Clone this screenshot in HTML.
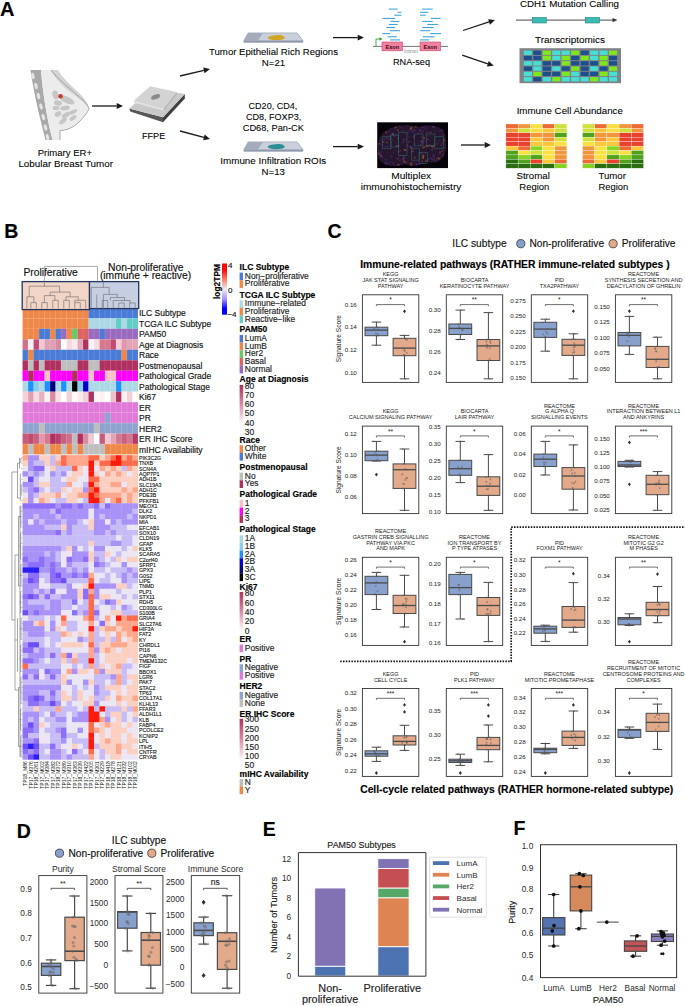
<!DOCTYPE html>
<html><head><meta charset="utf-8"><title>Figure</title>
<style>html,body{margin:0;padding:0;background:#fff;} svg{display:block;} text{font-family:"Liberation Sans", sans-serif;}</style>
</head><body>
<svg width="685" height="1006" viewBox="0 0 685 1006" font-family='"Liberation Sans", sans-serif'>
<rect width="685" height="1006" fill="#fff"/>
<defs>
<linearGradient id="gcb" x1="0" y1="0" x2="0" y2="1">
<stop offset="0" stop-color="#ff0000"/><stop offset="0.12" stop-color="#ff0000"/><stop offset="0.3" stop-color="#ff7a5e"/><stop offset="0.5" stop-color="#efebf0"/><stop offset="0.7" stop-color="#a890f8"/><stop offset="0.88" stop-color="#0000ff"/><stop offset="1" stop-color="#0000ff"/>
</linearGradient>
<linearGradient id="gpk" x1="0" y1="0" x2="0" y2="1">
<stop offset="0" stop-color="#b03060"/><stop offset="0.5" stop-color="#dc8ca6"/><stop offset="1" stop-color="#ffffff"/>
</linearGradient>
<filter id="blur1" x="-10%" y="-10%" width="120%" height="120%"><feGaussianBlur stdDeviation="0.5"/></filter>
</defs>
<text x="0.00" y="16.40" font-size="20" font-weight="bold" stroke="#000" stroke-width="0.15">A</text>
<path d="M30.5,70 L41,70 C43,95 47,118 52.5,140 L45.5,140 C40,118 34,95 30.5,70 Z" fill="#a9a9a9"/>
<ellipse cx="33" cy="76" rx="1.6" ry="3.2" fill="#e4e4e4" transform="rotate(-14 33 76)"/>
<ellipse cx="36" cy="86" rx="1.6" ry="3.2" fill="#e4e4e4" transform="rotate(-14 36 86)"/>
<ellipse cx="38.5" cy="96" rx="1.6" ry="3.2" fill="#e4e4e4" transform="rotate(-14 38.5 96)"/>
<ellipse cx="41" cy="106.5" rx="1.6" ry="3.2" fill="#e4e4e4" transform="rotate(-14 41 106.5)"/>
<ellipse cx="43.3" cy="117" rx="1.6" ry="3.2" fill="#e4e4e4" transform="rotate(-14 43.3 117)"/>
<ellipse cx="45.5" cy="127.5" rx="1.6" ry="3.2" fill="#e4e4e4" transform="rotate(-14 45.5 127.5)"/>
<ellipse cx="47.5" cy="137" rx="1.6" ry="3.2" fill="#e4e4e4" transform="rotate(-14 47.5 137)"/>
<path d="M41,70 L51,70 C58,80 70,88 78,96 C84,101 88,105 89,108.5 C88,112 84,117 79,122 C73,128 66,130.5 60,130.5 L60,140 L52.5,140 C47,118 43,95 41,70 Z" fill="#ececec"/>
<path d="M51,70 L58,70 C62,78 72,86 80,94 C85,99 88.5,104 89,108.5 C86,104 80,99 74,95 C65,89 56,80 51,70 Z" fill="#d3d3d3"/>
<path d="M51,70 C58,80 70,88 78,96 C84,101 88,105 89,108.5 C88,112 84,117 79,122 C73,128 66,130.5 60,130.5 L60,140" fill="none" stroke="#8a8a8a" stroke-width="0.7"/>
<ellipse cx="55.5" cy="95" rx="3" ry="4.5" fill="#c6c6c6" transform="rotate(-20 55.5 95)"/>
<ellipse cx="67" cy="100" rx="8" ry="3.2" fill="#c6c6c6" transform="rotate(25 67 100)"/>
<ellipse cx="58" cy="103" rx="4.2" ry="2.5" fill="#c6c6c6" transform="rotate(10 58 103)"/>
<ellipse cx="56" cy="108" rx="3.5" ry="2.2" fill="#c6c6c6" transform="rotate(0 56 108)"/>
<ellipse cx="65" cy="108" rx="5" ry="2.4" fill="#c6c6c6" transform="rotate(-10 65 108)"/>
<ellipse cx="58" cy="114" rx="3.5" ry="2.5" fill="#c6c6c6" transform="rotate(-30 58 114)"/>
<ellipse cx="66" cy="115" rx="5" ry="2.3" fill="#c6c6c6" transform="rotate(-35 66 115)"/>
<ellipse cx="73" cy="112" rx="4.5" ry="2" fill="#c6c6c6" transform="rotate(-25 73 112)"/>
<ellipse cx="63" cy="121" rx="4.5" ry="2.2" fill="#c6c6c6" transform="rotate(-40 63 121)"/>
<ellipse cx="73" cy="118" rx="4" ry="2" fill="#c6c6c6" transform="rotate(-35 73 118)"/>
<circle cx="60.60" cy="96.20" r="2.3" fill="#c9392e"/>
<text x="64.90" y="155.50" font-size="9.7" text-anchor="middle" textLength="54.40" lengthAdjust="spacingAndGlyphs" stroke="#000" stroke-width="0.08">Primary ER+</text>
<text x="65.70" y="166.80" font-size="9.7" text-anchor="middle" textLength="94.60" lengthAdjust="spacingAndGlyphs" stroke="#000" stroke-width="0.08">Lobular Breast Tumor</text>
<line x1="92.00" y1="106.00" x2="116.70" y2="106.00" stroke="#1a1a1a" stroke-width="1.3"/>
<path d="M123.00,106.00 L116.70,108.90 L116.70,103.10 Z" fill="#1a1a1a"/>
<line x1="180.00" y1="76.00" x2="203.86" y2="70.43" stroke="#1a1a1a" stroke-width="1.3"/>
<path d="M210.00,69.00 L204.52,73.26 L203.21,67.61 Z" fill="#1a1a1a"/>
<line x1="180.00" y1="131.00" x2="203.91" y2="137.38" stroke="#1a1a1a" stroke-width="1.3"/>
<path d="M210.00,139.00 L203.17,140.18 L204.66,134.57 Z" fill="#1a1a1a"/>
<line x1="333.00" y1="37.60" x2="357.70" y2="37.60" stroke="#1a1a1a" stroke-width="1.3"/>
<path d="M364.00,37.60 L357.70,40.50 L357.70,34.70 Z" fill="#1a1a1a"/>
<line x1="333.00" y1="146.60" x2="357.70" y2="146.60" stroke="#1a1a1a" stroke-width="1.3"/>
<path d="M364.00,146.60 L357.70,149.50 L357.70,143.70 Z" fill="#1a1a1a"/>
<line x1="463.00" y1="30.50" x2="489.01" y2="21.96" stroke="#1a1a1a" stroke-width="1.3"/>
<path d="M495.00,20.00 L489.92,24.72 L488.11,19.21 Z" fill="#1a1a1a"/>
<line x1="462.20" y1="55.20" x2="487.83" y2="63.80" stroke="#1a1a1a" stroke-width="1.3"/>
<path d="M493.80,65.80 L486.90,66.55 L488.75,61.05 Z" fill="#1a1a1a"/>
<line x1="461.00" y1="145.00" x2="484.70" y2="145.00" stroke="#1a1a1a" stroke-width="1.3"/>
<path d="M491.00,145.00 L484.70,147.90 L484.70,142.10 Z" fill="#1a1a1a"/>
<path d="M129.3,108.5 L130.2,111.6 L163,122.3 L163,117.2 Z" fill="#575757"/>
<path d="M163,117.2 L163,122.3 L184.8,98.6 L184.8,94 Z" fill="#3f3f3f"/>
<path d="M129.3,108.5 L152,88.5 L184.8,94 L163,117.2 Z" fill="#c8c8c8"/>
<path d="M134,100.4 L134,102.8 L163.9,110.8 L163.9,108.5 Z" fill="#e2e2e2"/>
<path d="M163.9,108.5 L163.9,110.8 L176.7,94.2 L176.7,91.9 Z" fill="#b4b4b4"/>
<path d="M150.1,86.2 L176.7,91.9 L163.9,108.5 L134,100.4 Z" fill="#d3d3d3"/>
<ellipse cx="155.6" cy="96.8" rx="4.8" ry="2.3" fill="#8a8a8a" transform="rotate(-20 155.6 96.8)"/>
<text x="153.60" y="139.20" font-size="9.7" text-anchor="middle" textLength="23.20" lengthAdjust="spacingAndGlyphs" stroke="#000" stroke-width="0.08">FFPE</text>
<path d="M243.9,40.5 L248.2,32.9 L297.1,32.9 L302.9,40.5 L302.9,42.3 L243.9,42.3 Z" fill="#c9d0dc" stroke="#8c95a6" stroke-width="0.6"/>
<path d="M243.9,40.5 L248.2,32.9 L263,32.9 L257.9,40.5 Z" fill="#a4acbc"/>
<path d="M243.9,40.5 L302.9,40.5 L302.9,42.3 L243.9,42.3 Z" fill="#8f98aa"/>
<ellipse cx="276.3" cy="37.699999999999996" rx="8.5" ry="2.5" fill="#d2a624"/>
<ellipse cx="279" cy="37.1" rx="4.5" ry="2.2" fill="#d2a624"/>
<path d="M243.9,149.5 L248.2,141.9 L297.1,141.9 L302.9,149.5 L302.9,151.3 L243.9,151.3 Z" fill="#c9d0dc" stroke="#8c95a6" stroke-width="0.6"/>
<path d="M243.9,149.5 L248.2,141.9 L263,141.9 L257.9,149.5 Z" fill="#a4acbc"/>
<path d="M243.9,149.5 L302.9,149.5 L302.9,151.3 L243.9,151.3 Z" fill="#8f98aa"/>
<ellipse cx="276.3" cy="146.70000000000002" rx="8.5" ry="2.5" fill="#2b8e96"/>
<ellipse cx="279" cy="146.1" rx="4.5" ry="2.2" fill="#2b8e96"/>
<text x="273.50" y="55.20" font-size="9.7" text-anchor="middle" textLength="129.00" lengthAdjust="spacingAndGlyphs" stroke="#000" stroke-width="0.08">Tumor Epithelial Rich Regions</text>
<text x="273.50" y="66.00" font-size="9.7" text-anchor="middle" stroke="#000" stroke-width="0.08">N=21</text>
<text x="272.90" y="109.20" font-size="9.7" text-anchor="middle" textLength="48.60" lengthAdjust="spacingAndGlyphs" stroke="#000" stroke-width="0.08">CD20, CD4,</text>
<text x="273.60" y="120.00" font-size="9.7" text-anchor="middle" textLength="55.20" lengthAdjust="spacingAndGlyphs" stroke="#000" stroke-width="0.08">CD8, FOXP3,</text>
<text x="273.30" y="130.90" font-size="9.7" text-anchor="middle" textLength="61.00" lengthAdjust="spacingAndGlyphs" stroke="#000" stroke-width="0.08">CD68, Pan-CK</text>
<text x="273.30" y="164.30" font-size="9.7" text-anchor="middle" textLength="106.00" lengthAdjust="spacingAndGlyphs" stroke="#000" stroke-width="0.08">Immune Infiltration ROIs</text>
<text x="273.30" y="175.30" font-size="9.7" text-anchor="middle" stroke="#000" stroke-width="0.08">N=13</text>
<line x1="388.90" y1="9.10" x2="397.70" y2="9.10" stroke="#3ea6dd" stroke-width="1.1"/>
<line x1="397.70" y1="12.30" x2="401.50" y2="12.30" stroke="#3ea6dd" stroke-width="1.1"/>
<line x1="394.20" y1="15.20" x2="401.50" y2="15.20" stroke="#3ea6dd" stroke-width="1.1"/>
<line x1="382.40" y1="18.40" x2="395.00" y2="18.40" stroke="#3ea6dd" stroke-width="1.1"/>
<line x1="390.70" y1="21.40" x2="399.40" y2="21.40" stroke="#3ea6dd" stroke-width="1.1"/>
<line x1="388.90" y1="24.50" x2="397.70" y2="24.50" stroke="#3ea6dd" stroke-width="1.1"/>
<line x1="386.30" y1="27.50" x2="395.00" y2="27.50" stroke="#3ea6dd" stroke-width="1.1"/>
<line x1="389.80" y1="30.70" x2="400.00" y2="30.70" stroke="#3ea6dd" stroke-width="1.1"/>
<line x1="382.20" y1="33.60" x2="390.10" y2="33.60" stroke="#3ea6dd" stroke-width="1.1"/>
<line x1="387.70" y1="36.80" x2="396.80" y2="36.80" stroke="#3ea6dd" stroke-width="1.1"/>
<line x1="390.10" y1="39.90" x2="400.00" y2="39.90" stroke="#3ea6dd" stroke-width="1.1"/>
<line x1="422.20" y1="9.10" x2="432.70" y2="9.10" stroke="#3ea6dd" stroke-width="1.1"/>
<line x1="420.10" y1="12.30" x2="428.30" y2="12.30" stroke="#3ea6dd" stroke-width="1.1"/>
<line x1="420.10" y1="15.20" x2="425.70" y2="15.20" stroke="#3ea6dd" stroke-width="1.1"/>
<line x1="431.00" y1="18.40" x2="440.60" y2="18.40" stroke="#3ea6dd" stroke-width="1.1"/>
<line x1="422.20" y1="21.40" x2="432.70" y2="21.40" stroke="#3ea6dd" stroke-width="1.1"/>
<line x1="427.40" y1="24.50" x2="438.00" y2="24.50" stroke="#3ea6dd" stroke-width="1.1"/>
<line x1="422.20" y1="27.50" x2="433.60" y2="27.50" stroke="#3ea6dd" stroke-width="1.1"/>
<line x1="420.10" y1="30.70" x2="430.10" y2="30.70" stroke="#3ea6dd" stroke-width="1.1"/>
<line x1="430.10" y1="33.60" x2="441.00" y2="33.60" stroke="#3ea6dd" stroke-width="1.1"/>
<line x1="423.00" y1="36.80" x2="434.50" y2="36.80" stroke="#3ea6dd" stroke-width="1.1"/>
<line x1="420.10" y1="39.90" x2="429.20" y2="39.90" stroke="#3ea6dd" stroke-width="1.1"/>
<line x1="373.00" y1="46.40" x2="448.00" y2="46.40" stroke="#555" stroke-width="0.8"/>
<rect x="382.00" y="42.00" width="20.50" height="8.80" fill="#f2819f" stroke="#c24a6c" stroke-width="0.6"/>
<text x="392.25" y="48.50" font-size="5.6" text-anchor="middle" font-weight="bold" fill="#3a0a14">Exon</text>
<rect x="420.00" y="42.00" width="20.50" height="8.80" fill="#f2819f" stroke="#c24a6c" stroke-width="0.6"/>
<text x="430.25" y="48.50" font-size="5.6" text-anchor="middle" font-weight="bold" fill="#3a0a14">Exon</text>
<path d="M376,46.4 L376,39 L380,39" fill="none" stroke="#3a9a3a" stroke-width="0.9"/>
<path d="M382.5,39 L379.5,37.2 L379.5,40.8 Z" fill="#3a9a3a"/>
<text x="411.00" y="53.20" font-size="5.4" text-anchor="middle" fill="#888">Intron</text>
<text x="411.50" y="64.50" font-size="9.7" text-anchor="middle" textLength="37.00" lengthAdjust="spacingAndGlyphs" stroke="#000" stroke-width="0.08">RNA-seq</text>
<text x="569.50" y="6.80" font-size="9.7" text-anchor="middle" textLength="99.00" lengthAdjust="spacingAndGlyphs" stroke="#000" stroke-width="0.08">CDH1 Mutation Calling</text>
<line x1="516.00" y1="20.10" x2="613.00" y2="20.10" stroke="#333" stroke-width="0.9"/>
<path d="M617.5,20.1 L612.5,18 L612.5,22.2 Z" fill="#333"/>
<rect x="532.30" y="17.40" width="14.00" height="5.60" fill="#3cbab4" stroke="#2a8a86" stroke-width="0.6"/>
<rect x="585.30" y="17.40" width="14.30" height="5.60" fill="#3cbab4" stroke="#2a8a86" stroke-width="0.6"/>
<text x="570.00" y="42.60" font-size="9.7" text-anchor="middle" textLength="70.00" lengthAdjust="spacingAndGlyphs" stroke="#000" stroke-width="0.08">Transcriptomics</text>
<rect x="519.50" y="48.20" width="101.50" height="35.00" fill="#7f8389"/>
<rect x="523.80" y="50.60" width="8.10" height="4.30" fill="#45e0d4"/>
<rect x="533.27" y="50.60" width="8.10" height="4.30" fill="#1c4f8c"/>
<rect x="542.74" y="50.60" width="8.10" height="4.30" fill="#7ee81a"/>
<rect x="552.21" y="50.60" width="8.10" height="4.30" fill="#45e0d4"/>
<rect x="561.68" y="50.60" width="8.10" height="4.30" fill="#45e0d4"/>
<rect x="571.15" y="50.60" width="8.10" height="4.30" fill="#7ee81a"/>
<rect x="580.62" y="50.60" width="8.10" height="4.30" fill="#1c4f8c"/>
<rect x="590.09" y="50.60" width="8.10" height="4.30" fill="#45e0d4"/>
<rect x="599.56" y="50.60" width="8.10" height="4.30" fill="#45e0d4"/>
<rect x="609.03" y="50.60" width="8.10" height="4.30" fill="#7ee81a"/>
<rect x="523.80" y="55.90" width="8.10" height="4.30" fill="#1c4f8c"/>
<rect x="533.27" y="55.90" width="8.10" height="4.30" fill="#1c4f8c"/>
<rect x="542.74" y="55.90" width="8.10" height="4.30" fill="#7ee81a"/>
<rect x="552.21" y="55.90" width="8.10" height="4.30" fill="#45e0d4"/>
<rect x="561.68" y="55.90" width="8.10" height="4.30" fill="#7ee81a"/>
<rect x="571.15" y="55.90" width="8.10" height="4.30" fill="#1c4f8c"/>
<rect x="580.62" y="55.90" width="8.10" height="4.30" fill="#7ee81a"/>
<rect x="590.09" y="55.90" width="8.10" height="4.30" fill="#45e0d4"/>
<rect x="599.56" y="55.90" width="8.10" height="4.30" fill="#7ee81a"/>
<rect x="609.03" y="55.90" width="8.10" height="4.30" fill="#1c4f8c"/>
<rect x="523.80" y="61.20" width="8.10" height="4.30" fill="#45e0d4"/>
<rect x="533.27" y="61.20" width="8.10" height="4.30" fill="#45e0d4"/>
<rect x="542.74" y="61.20" width="8.10" height="4.30" fill="#1c4f8c"/>
<rect x="552.21" y="61.20" width="8.10" height="4.30" fill="#1c4f8c"/>
<rect x="561.68" y="61.20" width="8.10" height="4.30" fill="#7ee81a"/>
<rect x="571.15" y="61.20" width="8.10" height="4.30" fill="#1c4f8c"/>
<rect x="580.62" y="61.20" width="8.10" height="4.30" fill="#1c4f8c"/>
<rect x="590.09" y="61.20" width="8.10" height="4.30" fill="#1c4f8c"/>
<rect x="599.56" y="61.20" width="8.10" height="4.30" fill="#7ee81a"/>
<rect x="609.03" y="61.20" width="8.10" height="4.30" fill="#1c4f8c"/>
<rect x="523.80" y="66.50" width="8.10" height="4.30" fill="#1c4f8c"/>
<rect x="533.27" y="66.50" width="8.10" height="4.30" fill="#45e0d4"/>
<rect x="542.74" y="66.50" width="8.10" height="4.30" fill="#1c4f8c"/>
<rect x="552.21" y="66.50" width="8.10" height="4.30" fill="#45e0d4"/>
<rect x="561.68" y="66.50" width="8.10" height="4.30" fill="#1c4f8c"/>
<rect x="571.15" y="66.50" width="8.10" height="4.30" fill="#7ee81a"/>
<rect x="580.62" y="66.50" width="8.10" height="4.30" fill="#1c4f8c"/>
<rect x="590.09" y="66.50" width="8.10" height="4.30" fill="#45e0d4"/>
<rect x="599.56" y="66.50" width="8.10" height="4.30" fill="#1c4f8c"/>
<rect x="609.03" y="66.50" width="8.10" height="4.30" fill="#7ee81a"/>
<rect x="523.80" y="71.80" width="8.10" height="4.30" fill="#45e0d4"/>
<rect x="533.27" y="71.80" width="8.10" height="4.30" fill="#7ee81a"/>
<rect x="542.74" y="71.80" width="8.10" height="4.30" fill="#1c4f8c"/>
<rect x="552.21" y="71.80" width="8.10" height="4.30" fill="#1c4f8c"/>
<rect x="561.68" y="71.80" width="8.10" height="4.30" fill="#7ee81a"/>
<rect x="571.15" y="71.80" width="8.10" height="4.30" fill="#45e0d4"/>
<rect x="580.62" y="71.80" width="8.10" height="4.30" fill="#1c4f8c"/>
<rect x="590.09" y="71.80" width="8.10" height="4.30" fill="#1c4f8c"/>
<rect x="599.56" y="71.80" width="8.10" height="4.30" fill="#7ee81a"/>
<rect x="609.03" y="71.80" width="8.10" height="4.30" fill="#45e0d4"/>
<rect x="523.80" y="77.10" width="8.10" height="4.30" fill="#45e0d4"/>
<rect x="533.27" y="77.10" width="8.10" height="4.30" fill="#1c4f8c"/>
<rect x="542.74" y="77.10" width="8.10" height="4.30" fill="#45e0d4"/>
<rect x="552.21" y="77.10" width="8.10" height="4.30" fill="#7ee81a"/>
<rect x="561.68" y="77.10" width="8.10" height="4.30" fill="#45e0d4"/>
<rect x="571.15" y="77.10" width="8.10" height="4.30" fill="#45e0d4"/>
<rect x="580.62" y="77.10" width="8.10" height="4.30" fill="#45e0d4"/>
<rect x="590.09" y="77.10" width="8.10" height="4.30" fill="#7ee81a"/>
<rect x="599.56" y="77.10" width="8.10" height="4.30" fill="#45e0d4"/>
<rect x="609.03" y="77.10" width="8.10" height="4.30" fill="#45e0d4"/>
<rect x="377.20" y="122.30" width="70.80" height="45.80" fill="#07030b"/>
<clipPath id="mclip"><path d="M379,140 C381,132 388,129 394,127 C404,124 414,126 420,127 C428,124 438,126 443,130 C447,136 447,148 444,156 C441,162 433,164 427,162 C421,166 411,167 405,164 C397,167 386,167 381,162 C377,156 377,147 379,140 Z"/></clipPath>
<g filter="url(#blur1)">
<path d="M379,140 C381,132 388,129 394,127 C404,124 414,126 420,127 C428,124 438,126 443,130 C447,136 447,148 444,156 C441,162 433,164 427,162 C421,166 411,167 405,164 C397,167 386,167 381,162 C377,156 377,147 379,140 Z" fill="#25162f"/>
<g clip-path="url(#mclip)">
<circle cx="400.3" cy="130.5" r="0.5" fill="#3a2a90" opacity="0.54"/>
<circle cx="384.5" cy="149.1" r="0.7" fill="#6a3070" opacity="0.28"/>
<circle cx="406.9" cy="134.3" r="0.8" fill="#6a3070" opacity="0.54"/>
<circle cx="386.5" cy="133.6" r="1.0" fill="#3a2a90" opacity="0.27"/>
<circle cx="418.4" cy="126.1" r="0.5" fill="#8a4a8a" opacity="0.55"/>
<circle cx="398.0" cy="130.2" r="1.0" fill="#b4642a" opacity="0.45"/>
<circle cx="425.1" cy="128.4" r="1.0" fill="#6a3070" opacity="0.38"/>
<circle cx="415.8" cy="126.7" r="1.0" fill="#b4642a" opacity="0.42"/>
<circle cx="414.7" cy="157.4" r="1.0" fill="#c47830" opacity="0.41"/>
<circle cx="398.7" cy="158.2" r="1.1" fill="#3a2a90" opacity="0.28"/>
<circle cx="398.7" cy="145.3" r="1.1" fill="#5a3aa0" opacity="0.35"/>
<circle cx="445.6" cy="129.1" r="0.6" fill="#c47830" opacity="0.37"/>
<circle cx="442.4" cy="142.1" r="0.6" fill="#3a2a90" opacity="0.45"/>
<circle cx="432.4" cy="159.2" r="1.1" fill="#5a3aa0" opacity="0.46"/>
<circle cx="418.0" cy="143.6" r="0.6" fill="#a05040" opacity="0.34"/>
<circle cx="426.1" cy="126.8" r="1.1" fill="#3a2a90" opacity="0.48"/>
<circle cx="446.5" cy="159.3" r="1.1" fill="#5a3aa0" opacity="0.56"/>
<circle cx="401.9" cy="164.4" r="0.6" fill="#5a3aa0" opacity="0.29"/>
<circle cx="382.1" cy="157.0" r="1.1" fill="#8a4a8a" opacity="0.39"/>
<circle cx="441.3" cy="145.3" r="0.9" fill="#8a4a8a" opacity="0.44"/>
<circle cx="439.0" cy="159.2" r="0.9" fill="#a05040" opacity="0.50"/>
<circle cx="446.1" cy="153.4" r="1.3" fill="#c47830" opacity="0.30"/>
<circle cx="390.2" cy="134.0" r="0.5" fill="#8a4a8a" opacity="0.54"/>
<circle cx="390.6" cy="136.1" r="0.8" fill="#8a4a8a" opacity="0.38"/>
<circle cx="417.1" cy="165.0" r="1.2" fill="#3a2a90" opacity="0.58"/>
<circle cx="423.2" cy="155.8" r="1.2" fill="#c47830" opacity="0.52"/>
<circle cx="438.3" cy="158.3" r="0.8" fill="#c47830" opacity="0.39"/>
<circle cx="411.2" cy="141.2" r="0.6" fill="#8a4a8a" opacity="0.32"/>
<circle cx="389.2" cy="138.6" r="0.6" fill="#b4642a" opacity="0.45"/>
<circle cx="415.0" cy="164.8" r="0.5" fill="#6a3070" opacity="0.56"/>
<circle cx="420.4" cy="130.4" r="1.3" fill="#5a3aa0" opacity="0.46"/>
<circle cx="410.7" cy="129.0" r="1.3" fill="#c47830" opacity="0.41"/>
<circle cx="411.4" cy="127.7" r="1.1" fill="#b4642a" opacity="0.51"/>
<circle cx="411.0" cy="153.8" r="0.5" fill="#6a3070" opacity="0.58"/>
<circle cx="414.4" cy="130.3" r="1.2" fill="#6a3070" opacity="0.52"/>
<circle cx="398.6" cy="151.6" r="1.1" fill="#b4642a" opacity="0.34"/>
<circle cx="403.3" cy="131.2" r="0.7" fill="#a05040" opacity="0.44"/>
<circle cx="412.7" cy="151.4" r="1.1" fill="#6a3070" opacity="0.59"/>
<circle cx="436.8" cy="158.7" r="0.8" fill="#a05040" opacity="0.53"/>
<circle cx="391.8" cy="145.2" r="0.5" fill="#3a2a90" opacity="0.26"/>
<circle cx="397.3" cy="135.1" r="1.0" fill="#3a2a90" opacity="0.37"/>
<circle cx="433.8" cy="155.1" r="1.3" fill="#5a3aa0" opacity="0.38"/>
<circle cx="393.2" cy="133.8" r="0.8" fill="#8a4a8a" opacity="0.42"/>
<circle cx="446.0" cy="150.2" r="0.9" fill="#b4642a" opacity="0.48"/>
<circle cx="433.2" cy="127.6" r="0.6" fill="#3a2a90" opacity="0.39"/>
<circle cx="427.1" cy="132.6" r="0.8" fill="#8a4a8a" opacity="0.47"/>
<circle cx="384.0" cy="164.7" r="0.8" fill="#3a2a90" opacity="0.39"/>
<circle cx="443.3" cy="155.2" r="1.3" fill="#8a4a8a" opacity="0.26"/>
<circle cx="418.8" cy="144.0" r="0.6" fill="#3a2a90" opacity="0.54"/>
<circle cx="445.6" cy="152.3" r="0.6" fill="#5a3aa0" opacity="0.44"/>
<circle cx="379.5" cy="158.4" r="1.0" fill="#3a2a90" opacity="0.43"/>
<circle cx="442.4" cy="142.7" r="0.7" fill="#a05040" opacity="0.56"/>
<circle cx="379.9" cy="133.1" r="0.7" fill="#6a3070" opacity="0.46"/>
<circle cx="395.9" cy="142.0" r="0.5" fill="#8a4a8a" opacity="0.51"/>
<circle cx="439.9" cy="152.5" r="1.2" fill="#a05040" opacity="0.40"/>
<circle cx="441.3" cy="145.6" r="0.6" fill="#6a3070" opacity="0.43"/>
<circle cx="438.2" cy="157.4" r="0.5" fill="#6a3070" opacity="0.53"/>
<circle cx="389.9" cy="144.4" r="0.6" fill="#3a2a90" opacity="0.27"/>
<circle cx="425.1" cy="146.8" r="1.1" fill="#c47830" opacity="0.29"/>
<circle cx="416.7" cy="134.7" r="0.5" fill="#5a3aa0" opacity="0.28"/>
<circle cx="409.2" cy="125.2" r="0.9" fill="#b4642a" opacity="0.46"/>
<circle cx="412.9" cy="146.0" r="0.7" fill="#3a2a90" opacity="0.43"/>
<circle cx="433.7" cy="145.8" r="1.1" fill="#8a4a8a" opacity="0.56"/>
<circle cx="443.0" cy="135.2" r="1.2" fill="#6a3070" opacity="0.32"/>
<circle cx="408.9" cy="141.9" r="0.9" fill="#c47830" opacity="0.28"/>
<circle cx="394.6" cy="127.1" r="0.7" fill="#3a2a90" opacity="0.29"/>
<circle cx="431.6" cy="164.4" r="1.0" fill="#3a2a90" opacity="0.30"/>
<circle cx="438.9" cy="165.6" r="1.1" fill="#8a4a8a" opacity="0.28"/>
<circle cx="439.1" cy="131.0" r="1.2" fill="#3a2a90" opacity="0.31"/>
<circle cx="407.8" cy="146.2" r="0.8" fill="#5a3aa0" opacity="0.37"/>
<circle cx="384.4" cy="139.7" r="0.9" fill="#5a3aa0" opacity="0.40"/>
<circle cx="379.2" cy="138.3" r="0.7" fill="#6a3070" opacity="0.59"/>
<circle cx="385.8" cy="163.5" r="1.3" fill="#8a4a8a" opacity="0.29"/>
<circle cx="396.3" cy="125.7" r="0.6" fill="#a05040" opacity="0.51"/>
<circle cx="434.6" cy="160.5" r="1.2" fill="#3a2a90" opacity="0.34"/>
<circle cx="388.3" cy="163.5" r="0.9" fill="#6a3070" opacity="0.36"/>
<circle cx="397.3" cy="158.4" r="0.8" fill="#8a4a8a" opacity="0.28"/>
<circle cx="442.7" cy="151.3" r="0.7" fill="#a05040" opacity="0.46"/>
<circle cx="393.3" cy="135.4" r="0.9" fill="#b4642a" opacity="0.37"/>
<circle cx="416.2" cy="163.8" r="1.0" fill="#5a3aa0" opacity="0.27"/>
<circle cx="427.0" cy="164.3" r="0.7" fill="#8a4a8a" opacity="0.31"/>
<circle cx="442.3" cy="151.0" r="1.1" fill="#6a3070" opacity="0.35"/>
<circle cx="412.5" cy="131.6" r="1.1" fill="#5a3aa0" opacity="0.60"/>
<circle cx="380.5" cy="124.8" r="0.9" fill="#6a3070" opacity="0.32"/>
<circle cx="410.8" cy="164.2" r="1.0" fill="#b4642a" opacity="0.48"/>
<circle cx="423.3" cy="147.5" r="1.3" fill="#c47830" opacity="0.36"/>
<circle cx="392.8" cy="133.9" r="1.2" fill="#8a4a8a" opacity="0.50"/>
<circle cx="421.9" cy="141.4" r="1.3" fill="#5a3aa0" opacity="0.54"/>
<circle cx="379.0" cy="150.9" r="0.8" fill="#5a3aa0" opacity="0.27"/>
<circle cx="423.9" cy="140.4" r="1.0" fill="#6a3070" opacity="0.35"/>
<circle cx="394.7" cy="136.6" r="0.6" fill="#c47830" opacity="0.34"/>
<circle cx="378.2" cy="139.7" r="1.3" fill="#5a3aa0" opacity="0.44"/>
<circle cx="394.9" cy="165.5" r="0.7" fill="#5a3aa0" opacity="0.31"/>
<circle cx="401.1" cy="127.6" r="0.9" fill="#5a3aa0" opacity="0.32"/>
<circle cx="412.8" cy="124.2" r="1.2" fill="#5a3aa0" opacity="0.30"/>
<circle cx="418.5" cy="140.9" r="0.7" fill="#5a3aa0" opacity="0.33"/>
<circle cx="418.4" cy="146.8" r="0.6" fill="#a05040" opacity="0.56"/>
<circle cx="432.1" cy="149.7" r="0.8" fill="#a05040" opacity="0.59"/>
<circle cx="388.3" cy="155.1" r="0.6" fill="#3a2a90" opacity="0.54"/>
<circle cx="427.3" cy="146.1" r="1.1" fill="#c47830" opacity="0.53"/>
<circle cx="387.6" cy="146.5" r="1.0" fill="#6a3070" opacity="0.53"/>
<circle cx="379.1" cy="153.5" r="1.2" fill="#a05040" opacity="0.49"/>
<circle cx="425.8" cy="133.9" r="0.5" fill="#b4642a" opacity="0.47"/>
<circle cx="444.2" cy="140.2" r="0.9" fill="#c47830" opacity="0.47"/>
<circle cx="421.2" cy="153.3" r="0.7" fill="#c47830" opacity="0.41"/>
<circle cx="382.8" cy="164.1" r="0.6" fill="#6a3070" opacity="0.43"/>
<circle cx="429.5" cy="144.4" r="0.6" fill="#a05040" opacity="0.34"/>
<circle cx="428.3" cy="132.8" r="1.0" fill="#3a2a90" opacity="0.41"/>
<circle cx="436.3" cy="127.3" r="0.7" fill="#3a2a90" opacity="0.27"/>
<circle cx="421.7" cy="132.5" r="0.6" fill="#6a3070" opacity="0.34"/>
<circle cx="429.3" cy="137.1" r="0.6" fill="#6a3070" opacity="0.42"/>
<circle cx="411.5" cy="165.8" r="1.1" fill="#b4642a" opacity="0.49"/>
<circle cx="398.1" cy="146.2" r="0.9" fill="#c47830" opacity="0.52"/>
<circle cx="446.5" cy="147.6" r="1.3" fill="#5a3aa0" opacity="0.58"/>
<circle cx="379.2" cy="143.7" r="0.9" fill="#a05040" opacity="0.60"/>
<circle cx="446.6" cy="140.6" r="0.6" fill="#8a4a8a" opacity="0.28"/>
<circle cx="429.6" cy="135.3" r="0.6" fill="#5a3aa0" opacity="0.54"/>
<circle cx="413.1" cy="162.1" r="0.8" fill="#3a2a90" opacity="0.42"/>
<circle cx="438.5" cy="140.9" r="0.5" fill="#8a4a8a" opacity="0.42"/>
<circle cx="409.1" cy="137.0" r="0.8" fill="#8a4a8a" opacity="0.38"/>
<circle cx="386.3" cy="138.2" r="1.1" fill="#5a3aa0" opacity="0.54"/>
<circle cx="386.3" cy="163.8" r="0.5" fill="#3a2a90" opacity="0.51"/>
<circle cx="395.5" cy="126.8" r="1.3" fill="#c47830" opacity="0.46"/>
<circle cx="402.9" cy="142.4" r="1.2" fill="#5a3aa0" opacity="0.35"/>
<circle cx="381.6" cy="152.5" r="1.2" fill="#3a2a90" opacity="0.34"/>
<circle cx="396.3" cy="146.0" r="1.1" fill="#8a4a8a" opacity="0.52"/>
<circle cx="407.5" cy="125.2" r="1.0" fill="#a05040" opacity="0.57"/>
<circle cx="442.9" cy="147.6" r="0.6" fill="#3a2a90" opacity="0.58"/>
<circle cx="406.4" cy="150.4" r="1.0" fill="#8a4a8a" opacity="0.35"/>
<circle cx="381.4" cy="163.9" r="0.6" fill="#8a4a8a" opacity="0.40"/>
<circle cx="397.4" cy="135.0" r="1.3" fill="#3a2a90" opacity="0.34"/>
<circle cx="423.3" cy="136.9" r="1.0" fill="#6a3070" opacity="0.29"/>
<circle cx="422.4" cy="127.2" r="1.2" fill="#6a3070" opacity="0.42"/>
<circle cx="393.2" cy="163.0" r="0.9" fill="#a05040" opacity="0.30"/>
<circle cx="391.3" cy="127.9" r="0.9" fill="#5a3aa0" opacity="0.36"/>
<circle cx="403.4" cy="158.8" r="1.2" fill="#8a4a8a" opacity="0.51"/>
<circle cx="406.5" cy="141.8" r="0.7" fill="#6a3070" opacity="0.34"/>
<circle cx="429.9" cy="145.4" r="1.3" fill="#6a3070" opacity="0.29"/>
<circle cx="412.7" cy="151.1" r="1.2" fill="#a05040" opacity="0.28"/>
<circle cx="439.9" cy="140.5" r="0.9" fill="#3a2a90" opacity="0.58"/>
<circle cx="436.6" cy="161.5" r="0.6" fill="#b4642a" opacity="0.40"/>
<circle cx="430.7" cy="158.6" r="0.9" fill="#6a3070" opacity="0.28"/>
<circle cx="442.2" cy="163.9" r="1.2" fill="#6a3070" opacity="0.59"/>
<circle cx="395.1" cy="128.7" r="0.6" fill="#8a4a8a" opacity="0.59"/>
<circle cx="385.5" cy="159.5" r="1.0" fill="#3a2a90" opacity="0.52"/>
<circle cx="409.6" cy="147.7" r="0.5" fill="#b4642a" opacity="0.29"/>
<circle cx="417.3" cy="125.6" r="0.7" fill="#3a2a90" opacity="0.29"/>
<circle cx="395.4" cy="151.4" r="1.1" fill="#3a2a90" opacity="0.28"/>
<circle cx="398.7" cy="164.6" r="0.8" fill="#8a4a8a" opacity="0.33"/>
<circle cx="419.5" cy="124.4" r="1.3" fill="#5a3aa0" opacity="0.35"/>
<circle cx="399.8" cy="160.1" r="0.9" fill="#8a4a8a" opacity="0.33"/>
<circle cx="395.0" cy="165.3" r="1.0" fill="#3a2a90" opacity="0.27"/>
<circle cx="391.4" cy="162.0" r="0.8" fill="#3a2a90" opacity="0.34"/>
<circle cx="424.0" cy="163.8" r="0.9" fill="#8a4a8a" opacity="0.49"/>
<circle cx="427.6" cy="139.6" r="0.7" fill="#c47830" opacity="0.53"/>
<circle cx="429.0" cy="145.7" r="0.9" fill="#8a4a8a" opacity="0.32"/>
<circle cx="430.8" cy="132.3" r="0.7" fill="#c47830" opacity="0.52"/>
<circle cx="398.4" cy="164.9" r="1.0" fill="#c47830" opacity="0.56"/>
<circle cx="411.5" cy="163.1" r="1.3" fill="#b4642a" opacity="0.30"/>
<circle cx="405.1" cy="133.2" r="0.6" fill="#6a3070" opacity="0.27"/>
<circle cx="382.1" cy="140.9" r="1.2" fill="#3a2a90" opacity="0.51"/>
<circle cx="446.8" cy="164.1" r="0.7" fill="#5a3aa0" opacity="0.48"/>
<circle cx="414.2" cy="144.1" r="1.0" fill="#5a3aa0" opacity="0.38"/>
<circle cx="403.8" cy="138.3" r="0.6" fill="#8a4a8a" opacity="0.28"/>
<circle cx="383.6" cy="142.1" r="0.9" fill="#b4642a" opacity="0.52"/>
<circle cx="404.2" cy="157.1" r="1.2" fill="#5a3aa0" opacity="0.40"/>
<circle cx="381.4" cy="144.4" r="0.9" fill="#5a3aa0" opacity="0.41"/>
<circle cx="400.3" cy="155.7" r="0.5" fill="#c47830" opacity="0.39"/>
<circle cx="434.0" cy="157.0" r="0.8" fill="#b4642a" opacity="0.41"/>
<circle cx="433.4" cy="126.7" r="1.1" fill="#8a4a8a" opacity="0.56"/>
<circle cx="401.4" cy="135.7" r="0.5" fill="#6a3070" opacity="0.51"/>
<circle cx="425.6" cy="163.7" r="0.5" fill="#5a3aa0" opacity="0.51"/>
<circle cx="441.2" cy="151.3" r="0.5" fill="#b4642a" opacity="0.33"/>
<circle cx="410.8" cy="165.1" r="0.8" fill="#a05040" opacity="0.34"/>
<circle cx="407.7" cy="145.2" r="0.6" fill="#c47830" opacity="0.53"/>
<circle cx="429.0" cy="159.4" r="0.6" fill="#a05040" opacity="0.33"/>
<circle cx="437.4" cy="143.8" r="1.1" fill="#a05040" opacity="0.28"/>
<circle cx="391.6" cy="156.4" r="0.8" fill="#8a4a8a" opacity="0.48"/>
<circle cx="411.2" cy="147.4" r="1.3" fill="#8a4a8a" opacity="0.56"/>
<circle cx="446.2" cy="135.4" r="0.7" fill="#b4642a" opacity="0.40"/>
<circle cx="446.2" cy="165.8" r="0.7" fill="#8a4a8a" opacity="0.40"/>
<circle cx="420.8" cy="153.0" r="0.9" fill="#3a2a90" opacity="0.52"/>
<circle cx="430.4" cy="157.5" r="0.7" fill="#5a3aa0" opacity="0.45"/>
<circle cx="403.7" cy="155.7" r="0.9" fill="#8a4a8a" opacity="0.32"/>
<circle cx="394.2" cy="136.1" r="0.7" fill="#6a3070" opacity="0.27"/>
<circle cx="395.4" cy="134.6" r="0.7" fill="#6a3070" opacity="0.53"/>
<circle cx="423.1" cy="166.6" r="0.5" fill="#b4642a" opacity="0.56"/>
<circle cx="393.9" cy="143.3" r="0.5" fill="#5a3aa0" opacity="0.35"/>
<circle cx="386.2" cy="132.2" r="1.0" fill="#a05040" opacity="0.58"/>
<circle cx="403.7" cy="161.2" r="1.0" fill="#c47830" opacity="0.52"/>
<circle cx="423.9" cy="124.3" r="1.0" fill="#3a2a90" opacity="0.47"/>
<circle cx="393.0" cy="139.9" r="0.5" fill="#8a4a8a" opacity="0.60"/>
<circle cx="380.6" cy="155.5" r="1.2" fill="#8a4a8a" opacity="0.54"/>
<circle cx="406.2" cy="140.0" r="0.7" fill="#6a3070" opacity="0.32"/>
<circle cx="432.9" cy="147.6" r="0.8" fill="#b4642a" opacity="0.53"/>
<circle cx="423.8" cy="130.6" r="0.6" fill="#6a3070" opacity="0.31"/>
<circle cx="426.0" cy="141.6" r="1.0" fill="#5a3aa0" opacity="0.40"/>
<circle cx="381.5" cy="156.0" r="0.8" fill="#5a3aa0" opacity="0.26"/>
<circle cx="430.9" cy="158.5" r="0.7" fill="#3a2a90" opacity="0.50"/>
<circle cx="392.1" cy="124.3" r="0.8" fill="#8a4a8a" opacity="0.54"/>
<circle cx="406.0" cy="162.0" r="1.1" fill="#c47830" opacity="0.30"/>
<circle cx="381.6" cy="130.1" r="1.2" fill="#a05040" opacity="0.28"/>
<circle cx="420.9" cy="139.9" r="0.6" fill="#6a3070" opacity="0.37"/>
<circle cx="389.2" cy="131.4" r="0.6" fill="#b4642a" opacity="0.42"/>
<circle cx="433.5" cy="165.6" r="0.7" fill="#8a4a8a" opacity="0.54"/>
<circle cx="381.0" cy="163.3" r="0.5" fill="#5a3aa0" opacity="0.57"/>
<circle cx="404.8" cy="162.9" r="1.1" fill="#6a3070" opacity="0.56"/>
<circle cx="422.2" cy="160.8" r="0.8" fill="#6a3070" opacity="0.55"/>
<circle cx="435.2" cy="131.9" r="0.5" fill="#8a4a8a" opacity="0.58"/>
<circle cx="388.8" cy="139.4" r="0.7" fill="#8a4a8a" opacity="0.50"/>
<circle cx="439.9" cy="125.8" r="1.2" fill="#6a3070" opacity="0.49"/>
<circle cx="424.1" cy="137.9" r="1.0" fill="#c47830" opacity="0.44"/>
<circle cx="421.3" cy="137.2" r="0.7" fill="#c47830" opacity="0.34"/>
<circle cx="404.9" cy="139.8" r="0.9" fill="#6a3070" opacity="0.26"/>
<circle cx="420.7" cy="145.0" r="0.9" fill="#8a4a8a" opacity="0.47"/>
<circle cx="434.5" cy="160.0" r="0.9" fill="#a05040" opacity="0.29"/>
<circle cx="386.9" cy="142.5" r="1.1" fill="#b4642a" opacity="0.43"/>
<circle cx="423.3" cy="125.7" r="0.6" fill="#8a4a8a" opacity="0.51"/>
<circle cx="431.7" cy="146.0" r="1.1" fill="#b4642a" opacity="0.56"/>
<circle cx="423.0" cy="157.7" r="1.2" fill="#b4642a" opacity="0.60"/>
<circle cx="428.5" cy="159.0" r="0.6" fill="#8a4a8a" opacity="0.56"/>
<circle cx="397.9" cy="158.9" r="0.6" fill="#a05040" opacity="0.53"/>
<circle cx="442.2" cy="126.8" r="1.0" fill="#5a3aa0" opacity="0.34"/>
<circle cx="400.3" cy="150.4" r="0.9" fill="#a05040" opacity="0.34"/>
<circle cx="444.5" cy="144.6" r="0.7" fill="#6a3070" opacity="0.43"/>
<circle cx="400.0" cy="125.6" r="0.8" fill="#8a4a8a" opacity="0.47"/>
<circle cx="397.2" cy="138.1" r="0.6" fill="#c47830" opacity="0.52"/>
<circle cx="385.9" cy="146.8" r="1.2" fill="#3a2a90" opacity="0.59"/>
<circle cx="409.3" cy="146.4" r="1.2" fill="#3a2a90" opacity="0.29"/>
<circle cx="446.5" cy="151.1" r="1.1" fill="#c47830" opacity="0.38"/>
<circle cx="403.9" cy="139.9" r="0.8" fill="#8a4a8a" opacity="0.52"/>
<circle cx="408.5" cy="131.6" r="1.3" fill="#3a2a90" opacity="0.35"/>
<circle cx="413.6" cy="137.3" r="1.0" fill="#a05040" opacity="0.48"/>
<circle cx="399.6" cy="124.1" r="0.7" fill="#b4642a" opacity="0.35"/>
<circle cx="421.2" cy="142.0" r="1.2" fill="#5a3aa0" opacity="0.30"/>
<circle cx="393.7" cy="152.1" r="0.5" fill="#b4642a" opacity="0.45"/>
<circle cx="399.0" cy="146.5" r="0.7" fill="#6a3070" opacity="0.45"/>
<circle cx="418.6" cy="132.8" r="1.2" fill="#6a3070" opacity="0.31"/>
<circle cx="379.0" cy="158.5" r="0.6" fill="#3a2a90" opacity="0.28"/>
<circle cx="422.0" cy="161.5" r="0.7" fill="#a05040" opacity="0.53"/>
<circle cx="444.7" cy="126.4" r="0.9" fill="#a05040" opacity="0.37"/>
<circle cx="422.5" cy="143.1" r="1.1" fill="#6a3070" opacity="0.34"/>
<circle cx="440.3" cy="125.9" r="0.5" fill="#6a3070" opacity="0.31"/>
<circle cx="389.0" cy="163.2" r="0.5" fill="#b4642a" opacity="0.44"/>
<circle cx="442.9" cy="130.1" r="0.9" fill="#8a4a8a" opacity="0.47"/>
<circle cx="422.7" cy="141.9" r="0.6" fill="#6a3070" opacity="0.36"/>
<circle cx="398.7" cy="126.1" r="1.1" fill="#3a2a90" opacity="0.50"/>
<circle cx="378.4" cy="160.3" r="1.2" fill="#3a2a90" opacity="0.28"/>
<circle cx="423.2" cy="131.5" r="0.7" fill="#b4642a" opacity="0.48"/>
<circle cx="386.5" cy="162.3" r="1.3" fill="#3a2a90" opacity="0.34"/>
<circle cx="381.6" cy="151.3" r="0.8" fill="#3a2a90" opacity="0.53"/>
<circle cx="414.1" cy="135.4" r="1.2" fill="#3a2a90" opacity="0.56"/>
<circle cx="383.9" cy="145.8" r="0.7" fill="#8a4a8a" opacity="0.33"/>
<circle cx="429.3" cy="164.6" r="1.2" fill="#3a2a90" opacity="0.32"/>
<circle cx="404.8" cy="149.9" r="1.2" fill="#c47830" opacity="0.47"/>
<circle cx="425.8" cy="152.6" r="0.9" fill="#6a3070" opacity="0.54"/>
<circle cx="426.1" cy="160.9" r="1.3" fill="#c47830" opacity="0.33"/>
<circle cx="439.0" cy="157.9" r="1.0" fill="#c47830" opacity="0.28"/>
<circle cx="440.8" cy="130.2" r="0.6" fill="#b4642a" opacity="0.47"/>
<circle cx="389.2" cy="166.0" r="0.5" fill="#3a2a90" opacity="0.26"/>
</g></g>
<rect x="382.50" y="136.80" width="8.60" height="12.00" fill="none" stroke="#2c7466" stroke-width="0.5"/>
<rect x="390.50" y="135.10" width="8.00" height="11.90" fill="none" stroke="#2c7466" stroke-width="0.5"/>
<rect x="398.50" y="132.20" width="8.50" height="23.40" fill="none" stroke="#2c7466" stroke-width="0.5"/>
<rect x="411.60" y="148.80" width="8.00" height="11.30" fill="none" stroke="#2c7466" stroke-width="0.5"/>
<rect x="414.40" y="134.00" width="8.60" height="11.90" fill="none" stroke="#2c7466" stroke-width="0.5"/>
<rect x="419.00" y="152.20" width="8.50" height="11.40" fill="none" stroke="#2c7466" stroke-width="0.5"/>
<rect x="426.40" y="134.00" width="8.50" height="11.90" fill="none" stroke="#2c7466" stroke-width="0.5"/>
<rect x="434.90" y="136.80" width="8.60" height="12.00" fill="none" stroke="#2c7466" stroke-width="0.5"/>
<text x="411.20" y="179.10" font-size="9.7" text-anchor="middle" textLength="39.90" lengthAdjust="spacingAndGlyphs" stroke="#000" stroke-width="0.08">Multiplex</text>
<text x="411.00" y="189.80" font-size="9.7" text-anchor="middle" textLength="100.70" lengthAdjust="spacingAndGlyphs" stroke="#000" stroke-width="0.08">immunohistochemistry</text>
<text x="569.80" y="113.60" font-size="9.7" text-anchor="middle" textLength="106.30" lengthAdjust="spacingAndGlyphs" stroke="#000" stroke-width="0.08">Immune Cell Abundance</text>
<rect x="505.90" y="124.00" width="12.20" height="4.42" fill="#ec6a36" stroke="#ffffff" stroke-width="0.25"/>
<rect x="518.10" y="124.00" width="12.20" height="4.42" fill="#f2963e" stroke="#ffffff" stroke-width="0.25"/>
<rect x="530.30" y="124.00" width="12.20" height="4.42" fill="#fbe044" stroke="#ffffff" stroke-width="0.25"/>
<rect x="542.50" y="124.00" width="12.20" height="4.42" fill="#ec6a36" stroke="#ffffff" stroke-width="0.25"/>
<rect x="554.70" y="124.00" width="12.20" height="4.42" fill="#cde23c" stroke="#ffffff" stroke-width="0.25"/>
<rect x="505.90" y="128.42" width="12.20" height="4.42" fill="#f2963e" stroke="#ffffff" stroke-width="0.25"/>
<rect x="518.10" y="128.42" width="12.20" height="4.42" fill="#cde23c" stroke="#ffffff" stroke-width="0.25"/>
<rect x="530.30" y="128.42" width="12.20" height="4.42" fill="#fbe044" stroke="#ffffff" stroke-width="0.25"/>
<rect x="542.50" y="128.42" width="12.20" height="4.42" fill="#fbc73c" stroke="#ffffff" stroke-width="0.25"/>
<rect x="554.70" y="128.42" width="12.20" height="4.42" fill="#cde23c" stroke="#ffffff" stroke-width="0.25"/>
<rect x="505.90" y="132.84" width="12.20" height="4.42" fill="#e8412e" stroke="#ffffff" stroke-width="0.25"/>
<rect x="518.10" y="132.84" width="12.20" height="4.42" fill="#e8412e" stroke="#ffffff" stroke-width="0.25"/>
<rect x="530.30" y="132.84" width="12.20" height="4.42" fill="#f2963e" stroke="#ffffff" stroke-width="0.25"/>
<rect x="542.50" y="132.84" width="12.20" height="4.42" fill="#f2963e" stroke="#ffffff" stroke-width="0.25"/>
<rect x="554.70" y="132.84" width="12.20" height="4.42" fill="#50a21e" stroke="#ffffff" stroke-width="0.25"/>
<rect x="505.90" y="137.26" width="12.20" height="4.42" fill="#e8412e" stroke="#ffffff" stroke-width="0.25"/>
<rect x="518.10" y="137.26" width="12.20" height="4.42" fill="#e8412e" stroke="#ffffff" stroke-width="0.25"/>
<rect x="530.30" y="137.26" width="12.20" height="4.42" fill="#fbc73c" stroke="#ffffff" stroke-width="0.25"/>
<rect x="542.50" y="137.26" width="12.20" height="4.42" fill="#f2963e" stroke="#ffffff" stroke-width="0.25"/>
<rect x="554.70" y="137.26" width="12.20" height="4.42" fill="#cde23c" stroke="#ffffff" stroke-width="0.25"/>
<rect x="505.90" y="141.68" width="12.20" height="4.42" fill="#e8412e" stroke="#ffffff" stroke-width="0.25"/>
<rect x="518.10" y="141.68" width="12.20" height="4.42" fill="#e8412e" stroke="#ffffff" stroke-width="0.25"/>
<rect x="530.30" y="141.68" width="12.20" height="4.42" fill="#fbc73c" stroke="#ffffff" stroke-width="0.25"/>
<rect x="542.50" y="141.68" width="12.20" height="4.42" fill="#fbc73c" stroke="#ffffff" stroke-width="0.25"/>
<rect x="554.70" y="141.68" width="12.20" height="4.42" fill="#fbe044" stroke="#ffffff" stroke-width="0.25"/>
<rect x="505.90" y="146.10" width="12.20" height="4.42" fill="#fbc73c" stroke="#ffffff" stroke-width="0.25"/>
<rect x="518.10" y="146.10" width="12.20" height="4.42" fill="#ec6a36" stroke="#ffffff" stroke-width="0.25"/>
<rect x="530.30" y="146.10" width="12.20" height="4.42" fill="#88d424" stroke="#ffffff" stroke-width="0.25"/>
<rect x="542.50" y="146.10" width="12.20" height="4.42" fill="#fbe044" stroke="#ffffff" stroke-width="0.25"/>
<rect x="554.70" y="146.10" width="12.20" height="4.42" fill="#f2963e" stroke="#ffffff" stroke-width="0.25"/>
<rect x="505.90" y="150.52" width="12.20" height="4.42" fill="#50a21e" stroke="#ffffff" stroke-width="0.25"/>
<rect x="518.10" y="150.52" width="12.20" height="4.42" fill="#fbe044" stroke="#ffffff" stroke-width="0.25"/>
<rect x="530.30" y="150.52" width="12.20" height="4.42" fill="#cde23c" stroke="#ffffff" stroke-width="0.25"/>
<rect x="542.50" y="150.52" width="12.20" height="4.42" fill="#fbe044" stroke="#ffffff" stroke-width="0.25"/>
<rect x="554.70" y="150.52" width="12.20" height="4.42" fill="#f2963e" stroke="#ffffff" stroke-width="0.25"/>
<rect x="505.90" y="154.94" width="12.20" height="4.42" fill="#50a21e" stroke="#ffffff" stroke-width="0.25"/>
<rect x="518.10" y="154.94" width="12.20" height="4.42" fill="#88d424" stroke="#ffffff" stroke-width="0.25"/>
<rect x="530.30" y="154.94" width="12.20" height="4.42" fill="#50a21e" stroke="#ffffff" stroke-width="0.25"/>
<rect x="542.50" y="154.94" width="12.20" height="4.42" fill="#fbe044" stroke="#ffffff" stroke-width="0.25"/>
<rect x="554.70" y="154.94" width="12.20" height="4.42" fill="#f2963e" stroke="#ffffff" stroke-width="0.25"/>
<rect x="505.90" y="159.36" width="12.20" height="4.42" fill="#2a6e10" stroke="#ffffff" stroke-width="0.25"/>
<rect x="518.10" y="159.36" width="12.20" height="4.42" fill="#50a21e" stroke="#ffffff" stroke-width="0.25"/>
<rect x="530.30" y="159.36" width="12.20" height="4.42" fill="#e8412e" stroke="#ffffff" stroke-width="0.25"/>
<rect x="542.50" y="159.36" width="12.20" height="4.42" fill="#fbc73c" stroke="#ffffff" stroke-width="0.25"/>
<rect x="554.70" y="159.36" width="12.20" height="4.42" fill="#ec6a36" stroke="#ffffff" stroke-width="0.25"/>
<rect x="505.90" y="163.78" width="12.20" height="4.42" fill="#2a6e10" stroke="#ffffff" stroke-width="0.25"/>
<rect x="518.10" y="163.78" width="12.20" height="4.42" fill="#2a6e10" stroke="#ffffff" stroke-width="0.25"/>
<rect x="530.30" y="163.78" width="12.20" height="4.42" fill="#2a6e10" stroke="#ffffff" stroke-width="0.25"/>
<rect x="542.50" y="163.78" width="12.20" height="4.42" fill="#2a6e10" stroke="#ffffff" stroke-width="0.25"/>
<rect x="554.70" y="163.78" width="12.20" height="4.42" fill="#88d424" stroke="#ffffff" stroke-width="0.25"/>
<rect x="582.50" y="124.00" width="12.20" height="4.42" fill="#cde23c" stroke="#ffffff" stroke-width="0.25"/>
<rect x="594.70" y="124.00" width="12.20" height="4.42" fill="#ec6a36" stroke="#ffffff" stroke-width="0.25"/>
<rect x="606.90" y="124.00" width="12.20" height="4.42" fill="#fbe044" stroke="#ffffff" stroke-width="0.25"/>
<rect x="619.10" y="124.00" width="12.20" height="4.42" fill="#f2963e" stroke="#ffffff" stroke-width="0.25"/>
<rect x="631.30" y="124.00" width="12.20" height="4.42" fill="#ec6a36" stroke="#ffffff" stroke-width="0.25"/>
<rect x="582.50" y="128.42" width="12.20" height="4.42" fill="#cde23c" stroke="#ffffff" stroke-width="0.25"/>
<rect x="594.70" y="128.42" width="12.20" height="4.42" fill="#fbc73c" stroke="#ffffff" stroke-width="0.25"/>
<rect x="606.90" y="128.42" width="12.20" height="4.42" fill="#fbe044" stroke="#ffffff" stroke-width="0.25"/>
<rect x="619.10" y="128.42" width="12.20" height="4.42" fill="#cde23c" stroke="#ffffff" stroke-width="0.25"/>
<rect x="631.30" y="128.42" width="12.20" height="4.42" fill="#f2963e" stroke="#ffffff" stroke-width="0.25"/>
<rect x="582.50" y="132.84" width="12.20" height="4.42" fill="#50a21e" stroke="#ffffff" stroke-width="0.25"/>
<rect x="594.70" y="132.84" width="12.20" height="4.42" fill="#f2963e" stroke="#ffffff" stroke-width="0.25"/>
<rect x="606.90" y="132.84" width="12.20" height="4.42" fill="#f2963e" stroke="#ffffff" stroke-width="0.25"/>
<rect x="619.10" y="132.84" width="12.20" height="4.42" fill="#e8412e" stroke="#ffffff" stroke-width="0.25"/>
<rect x="631.30" y="132.84" width="12.20" height="4.42" fill="#e8412e" stroke="#ffffff" stroke-width="0.25"/>
<rect x="582.50" y="137.26" width="12.20" height="4.42" fill="#cde23c" stroke="#ffffff" stroke-width="0.25"/>
<rect x="594.70" y="137.26" width="12.20" height="4.42" fill="#f2963e" stroke="#ffffff" stroke-width="0.25"/>
<rect x="606.90" y="137.26" width="12.20" height="4.42" fill="#fbc73c" stroke="#ffffff" stroke-width="0.25"/>
<rect x="619.10" y="137.26" width="12.20" height="4.42" fill="#e8412e" stroke="#ffffff" stroke-width="0.25"/>
<rect x="631.30" y="137.26" width="12.20" height="4.42" fill="#e8412e" stroke="#ffffff" stroke-width="0.25"/>
<rect x="582.50" y="141.68" width="12.20" height="4.42" fill="#fbe044" stroke="#ffffff" stroke-width="0.25"/>
<rect x="594.70" y="141.68" width="12.20" height="4.42" fill="#fbc73c" stroke="#ffffff" stroke-width="0.25"/>
<rect x="606.90" y="141.68" width="12.20" height="4.42" fill="#fbc73c" stroke="#ffffff" stroke-width="0.25"/>
<rect x="619.10" y="141.68" width="12.20" height="4.42" fill="#e8412e" stroke="#ffffff" stroke-width="0.25"/>
<rect x="631.30" y="141.68" width="12.20" height="4.42" fill="#e8412e" stroke="#ffffff" stroke-width="0.25"/>
<rect x="582.50" y="146.10" width="12.20" height="4.42" fill="#f2963e" stroke="#ffffff" stroke-width="0.25"/>
<rect x="594.70" y="146.10" width="12.20" height="4.42" fill="#fbe044" stroke="#ffffff" stroke-width="0.25"/>
<rect x="606.90" y="146.10" width="12.20" height="4.42" fill="#88d424" stroke="#ffffff" stroke-width="0.25"/>
<rect x="619.10" y="146.10" width="12.20" height="4.42" fill="#ec6a36" stroke="#ffffff" stroke-width="0.25"/>
<rect x="631.30" y="146.10" width="12.20" height="4.42" fill="#fbc73c" stroke="#ffffff" stroke-width="0.25"/>
<rect x="582.50" y="150.52" width="12.20" height="4.42" fill="#f2963e" stroke="#ffffff" stroke-width="0.25"/>
<rect x="594.70" y="150.52" width="12.20" height="4.42" fill="#fbe044" stroke="#ffffff" stroke-width="0.25"/>
<rect x="606.90" y="150.52" width="12.20" height="4.42" fill="#cde23c" stroke="#ffffff" stroke-width="0.25"/>
<rect x="619.10" y="150.52" width="12.20" height="4.42" fill="#fbe044" stroke="#ffffff" stroke-width="0.25"/>
<rect x="631.30" y="150.52" width="12.20" height="4.42" fill="#50a21e" stroke="#ffffff" stroke-width="0.25"/>
<rect x="582.50" y="154.94" width="12.20" height="4.42" fill="#f2963e" stroke="#ffffff" stroke-width="0.25"/>
<rect x="594.70" y="154.94" width="12.20" height="4.42" fill="#fbe044" stroke="#ffffff" stroke-width="0.25"/>
<rect x="606.90" y="154.94" width="12.20" height="4.42" fill="#50a21e" stroke="#ffffff" stroke-width="0.25"/>
<rect x="619.10" y="154.94" width="12.20" height="4.42" fill="#88d424" stroke="#ffffff" stroke-width="0.25"/>
<rect x="631.30" y="154.94" width="12.20" height="4.42" fill="#50a21e" stroke="#ffffff" stroke-width="0.25"/>
<rect x="582.50" y="159.36" width="12.20" height="4.42" fill="#ec6a36" stroke="#ffffff" stroke-width="0.25"/>
<rect x="594.70" y="159.36" width="12.20" height="4.42" fill="#fbc73c" stroke="#ffffff" stroke-width="0.25"/>
<rect x="606.90" y="159.36" width="12.20" height="4.42" fill="#e8412e" stroke="#ffffff" stroke-width="0.25"/>
<rect x="619.10" y="159.36" width="12.20" height="4.42" fill="#50a21e" stroke="#ffffff" stroke-width="0.25"/>
<rect x="631.30" y="159.36" width="12.20" height="4.42" fill="#2a6e10" stroke="#ffffff" stroke-width="0.25"/>
<rect x="582.50" y="163.78" width="12.20" height="4.42" fill="#88d424" stroke="#ffffff" stroke-width="0.25"/>
<rect x="594.70" y="163.78" width="12.20" height="4.42" fill="#2a6e10" stroke="#ffffff" stroke-width="0.25"/>
<rect x="606.90" y="163.78" width="12.20" height="4.42" fill="#2a6e10" stroke="#ffffff" stroke-width="0.25"/>
<rect x="619.10" y="163.78" width="12.20" height="4.42" fill="#2a6e10" stroke="#ffffff" stroke-width="0.25"/>
<rect x="631.30" y="163.78" width="12.20" height="4.42" fill="#2a6e10" stroke="#ffffff" stroke-width="0.25"/>
<text x="533.20" y="179.20" font-size="9.7" text-anchor="middle" textLength="33.50" lengthAdjust="spacingAndGlyphs" stroke="#000" stroke-width="0.08">Stromal</text>
<text x="534.30" y="190.20" font-size="9.7" text-anchor="middle" textLength="30.00" lengthAdjust="spacingAndGlyphs" stroke="#000" stroke-width="0.08">Region</text>
<text x="612.20" y="179.20" font-size="9.7" text-anchor="middle" textLength="27.40" lengthAdjust="spacingAndGlyphs" stroke="#000" stroke-width="0.08">Tumor</text>
<text x="613.30" y="190.20" font-size="9.7" text-anchor="middle" textLength="29.60" lengthAdjust="spacingAndGlyphs" stroke="#000" stroke-width="0.08">Region</text>
<text x="4.30" y="238.40" font-size="19.5" font-weight="bold" stroke="#000" stroke-width="0.15">B</text>
<text x="23.40" y="276.20" font-size="10.3" fill="#111" stroke="#111" stroke-width="0.15">Proliferative</text>
<text x="108.00" y="270.60" font-size="10.3" fill="#111" stroke="#111" stroke-width="0.15">Non-proliferative</text>
<text x="99.90" y="278.50" font-size="10.3" fill="#111" stroke="#111" stroke-width="0.15">(immune + reactive)</text>
<rect x="22.55" y="307.85" width="5.84" height="10.82" fill="#ee8748"/>
<rect x="28.05" y="307.85" width="5.84" height="10.82" fill="#ee8748"/>
<rect x="33.54" y="307.85" width="5.84" height="10.82" fill="#ee8748"/>
<rect x="39.03" y="307.85" width="5.84" height="10.82" fill="#ee8748"/>
<rect x="44.53" y="307.85" width="5.84" height="10.82" fill="#ee8748"/>
<rect x="50.03" y="307.85" width="5.84" height="10.82" fill="#ee8748"/>
<rect x="55.52" y="307.85" width="5.84" height="10.82" fill="#ee8748"/>
<rect x="61.02" y="307.85" width="5.84" height="10.82" fill="#ee8748"/>
<rect x="66.51" y="307.85" width="5.84" height="10.82" fill="#ee8748"/>
<rect x="72.00" y="307.85" width="5.84" height="10.82" fill="#ee8748"/>
<rect x="77.50" y="307.85" width="5.84" height="10.82" fill="#ee8748"/>
<rect x="83.00" y="307.85" width="5.84" height="10.82" fill="#ee8748"/>
<rect x="88.49" y="307.85" width="5.84" height="10.82" fill="#4a7bd6"/>
<rect x="93.98" y="307.85" width="5.84" height="10.82" fill="#4a7bd6"/>
<rect x="99.48" y="307.85" width="5.84" height="10.82" fill="#4a7bd6"/>
<rect x="104.97" y="307.85" width="5.84" height="10.82" fill="#4a7bd6"/>
<rect x="110.47" y="307.85" width="5.84" height="10.82" fill="#4a7bd6"/>
<rect x="115.97" y="307.85" width="5.84" height="10.82" fill="#4a7bd6"/>
<rect x="121.46" y="307.85" width="5.84" height="10.82" fill="#4a7bd6"/>
<rect x="126.95" y="307.85" width="5.84" height="10.82" fill="#4a7bd6"/>
<rect x="132.45" y="307.85" width="5.50" height="10.82" fill="#4a7bd6"/>
<text x="139.00" y="316.00" font-size="8.5" fill="#111" stroke="#111" stroke-width="0.15">ILC Subtype</text>
<rect x="22.55" y="318.32" width="5.84" height="10.82" fill="#ee8748"/>
<rect x="28.05" y="318.32" width="5.84" height="10.82" fill="#ee8748"/>
<rect x="33.54" y="318.32" width="5.84" height="10.82" fill="#ee8748"/>
<rect x="39.03" y="318.32" width="5.84" height="10.82" fill="#ee8748"/>
<rect x="44.53" y="318.32" width="5.84" height="10.82" fill="#ee8748"/>
<rect x="50.03" y="318.32" width="5.84" height="10.82" fill="#ee8748"/>
<rect x="55.52" y="318.32" width="5.84" height="10.82" fill="#ee8748"/>
<rect x="61.02" y="318.32" width="5.84" height="10.82" fill="#ee8748"/>
<rect x="66.51" y="318.32" width="5.84" height="10.82" fill="#ee8748"/>
<rect x="72.00" y="318.32" width="5.84" height="10.82" fill="#ee8748"/>
<rect x="77.50" y="318.32" width="5.84" height="10.82" fill="#ee8748"/>
<rect x="83.00" y="318.32" width="5.84" height="10.82" fill="#ee8748"/>
<rect x="88.49" y="318.32" width="5.84" height="10.82" fill="#add8e6"/>
<rect x="93.98" y="318.32" width="5.84" height="10.82" fill="#add8e6"/>
<rect x="99.48" y="318.32" width="5.84" height="10.82" fill="#add8e6"/>
<rect x="104.97" y="318.32" width="5.84" height="10.82" fill="#add8e6"/>
<rect x="110.47" y="318.32" width="5.84" height="10.82" fill="#add8e6"/>
<rect x="115.97" y="318.32" width="5.84" height="10.82" fill="#62cdc7"/>
<rect x="121.46" y="318.32" width="5.84" height="10.82" fill="#add8e6"/>
<rect x="126.95" y="318.32" width="5.84" height="10.82" fill="#62cdc7"/>
<rect x="132.45" y="318.32" width="5.50" height="10.82" fill="#62cdc7"/>
<text x="139.00" y="326.52" font-size="8.5" fill="#111" stroke="#111" stroke-width="0.15">TCGA ILC Subtype</text>
<rect x="22.55" y="328.79" width="5.84" height="10.82" fill="#ee8748"/>
<rect x="28.05" y="328.79" width="5.84" height="10.82" fill="#ee8748"/>
<rect x="33.54" y="328.79" width="5.84" height="10.82" fill="#ee8748"/>
<rect x="39.03" y="328.79" width="5.84" height="10.82" fill="#4a7bd6"/>
<rect x="44.53" y="328.79" width="5.84" height="10.82" fill="#4a7bd6"/>
<rect x="50.03" y="328.79" width="5.84" height="10.82" fill="#ee8748"/>
<rect x="55.52" y="328.79" width="5.84" height="10.82" fill="#4a7bd6"/>
<rect x="61.02" y="328.79" width="5.84" height="10.82" fill="#9a6abf"/>
<rect x="66.51" y="328.79" width="5.84" height="10.82" fill="#ee8748"/>
<rect x="72.00" y="328.79" width="5.84" height="10.82" fill="#66cc66"/>
<rect x="77.50" y="328.79" width="5.84" height="10.82" fill="#de6262"/>
<rect x="83.00" y="328.79" width="5.84" height="10.82" fill="#de6262"/>
<rect x="88.49" y="328.79" width="5.84" height="10.82" fill="#9a6abf"/>
<rect x="93.98" y="328.79" width="5.84" height="10.82" fill="#9a6abf"/>
<rect x="99.48" y="328.79" width="5.84" height="10.82" fill="#4a7bd6"/>
<rect x="104.97" y="328.79" width="5.84" height="10.82" fill="#9a6abf"/>
<rect x="110.47" y="328.79" width="5.84" height="10.82" fill="#9a6abf"/>
<rect x="115.97" y="328.79" width="5.84" height="10.82" fill="#9a6abf"/>
<rect x="121.46" y="328.79" width="5.84" height="10.82" fill="#9a6abf"/>
<rect x="126.95" y="328.79" width="5.84" height="10.82" fill="#9a6abf"/>
<rect x="132.45" y="328.79" width="5.50" height="10.82" fill="#9a6abf"/>
<text x="139.00" y="337.04" font-size="8.5" fill="#111" stroke="#111" stroke-width="0.15">PAM50</text>
<rect x="22.55" y="339.26" width="5.84" height="10.82" fill="#d0708a"/>
<rect x="28.05" y="339.26" width="5.84" height="10.82" fill="#fbeef2"/>
<rect x="33.54" y="339.26" width="5.84" height="10.82" fill="#c04a70"/>
<rect x="39.03" y="339.26" width="5.84" height="10.82" fill="#f0c8d4"/>
<rect x="44.53" y="339.26" width="5.84" height="10.82" fill="#e0a0b4"/>
<rect x="50.03" y="339.26" width="5.84" height="10.82" fill="#e0a0b4"/>
<rect x="55.52" y="339.26" width="5.84" height="10.82" fill="#d88aa0"/>
<rect x="61.02" y="339.26" width="5.84" height="10.82" fill="#ffffff"/>
<rect x="66.51" y="339.26" width="5.84" height="10.82" fill="#f5d8e0"/>
<rect x="72.00" y="339.26" width="5.84" height="10.82" fill="#fae8ee"/>
<rect x="77.50" y="339.26" width="5.84" height="10.82" fill="#e0a8b8"/>
<rect x="83.00" y="339.26" width="5.84" height="10.82" fill="#b03060"/>
<rect x="88.49" y="339.26" width="5.84" height="10.82" fill="#fcf4f6"/>
<rect x="93.98" y="339.26" width="5.84" height="10.82" fill="#f8dce4"/>
<rect x="99.48" y="339.26" width="5.84" height="10.82" fill="#d8788f"/>
<rect x="104.97" y="339.26" width="5.84" height="10.82" fill="#d8788f"/>
<rect x="110.47" y="339.26" width="5.84" height="10.82" fill="#c04a70"/>
<rect x="115.97" y="339.26" width="5.84" height="10.82" fill="#f4ccd6"/>
<rect x="121.46" y="339.26" width="5.84" height="10.82" fill="#e096ac"/>
<rect x="126.95" y="339.26" width="5.84" height="10.82" fill="#e4a4b6"/>
<rect x="132.45" y="339.26" width="5.50" height="10.82" fill="#e4a4b6"/>
<text x="139.00" y="347.56" font-size="8.5" fill="#111" stroke="#111" stroke-width="0.15">Age at Diagnosis</text>
<rect x="22.55" y="349.73" width="5.84" height="10.82" fill="#4a7bd6"/>
<rect x="28.05" y="349.73" width="5.84" height="10.82" fill="#ee8748"/>
<rect x="33.54" y="349.73" width="5.84" height="10.82" fill="#4a7bd6"/>
<rect x="39.03" y="349.73" width="5.84" height="10.82" fill="#4a7bd6"/>
<rect x="44.53" y="349.73" width="5.84" height="10.82" fill="#4a7bd6"/>
<rect x="50.03" y="349.73" width="5.84" height="10.82" fill="#4a7bd6"/>
<rect x="55.52" y="349.73" width="5.84" height="10.82" fill="#4a7bd6"/>
<rect x="61.02" y="349.73" width="5.84" height="10.82" fill="#4a7bd6"/>
<rect x="66.51" y="349.73" width="5.84" height="10.82" fill="#4a7bd6"/>
<rect x="72.00" y="349.73" width="5.84" height="10.82" fill="#4a7bd6"/>
<rect x="77.50" y="349.73" width="5.84" height="10.82" fill="#4a7bd6"/>
<rect x="83.00" y="349.73" width="5.84" height="10.82" fill="#4a7bd6"/>
<rect x="88.49" y="349.73" width="5.84" height="10.82" fill="#4a7bd6"/>
<rect x="93.98" y="349.73" width="5.84" height="10.82" fill="#4a7bd6"/>
<rect x="99.48" y="349.73" width="5.84" height="10.82" fill="#4a7bd6"/>
<rect x="104.97" y="349.73" width="5.84" height="10.82" fill="#4a7bd6"/>
<rect x="110.47" y="349.73" width="5.84" height="10.82" fill="#4a7bd6"/>
<rect x="115.97" y="349.73" width="5.84" height="10.82" fill="#4a7bd6"/>
<rect x="121.46" y="349.73" width="5.84" height="10.82" fill="#ee8748"/>
<rect x="126.95" y="349.73" width="5.84" height="10.82" fill="#4a7bd6"/>
<rect x="132.45" y="349.73" width="5.50" height="10.82" fill="#4a7bd6"/>
<text x="139.00" y="358.08" font-size="8.5" fill="#111" stroke="#111" stroke-width="0.15">Race</text>
<rect x="22.55" y="360.20" width="5.84" height="10.82" fill="#b03060"/>
<rect x="28.05" y="360.20" width="5.84" height="10.82" fill="#bebebe"/>
<rect x="33.54" y="360.20" width="5.84" height="10.82" fill="#b03060"/>
<rect x="39.03" y="360.20" width="5.84" height="10.82" fill="#bebebe"/>
<rect x="44.53" y="360.20" width="5.84" height="10.82" fill="#b03060"/>
<rect x="50.03" y="360.20" width="5.84" height="10.82" fill="#b03060"/>
<rect x="55.52" y="360.20" width="5.84" height="10.82" fill="#b03060"/>
<rect x="61.02" y="360.20" width="5.84" height="10.82" fill="#bebebe"/>
<rect x="66.51" y="360.20" width="5.84" height="10.82" fill="#bebebe"/>
<rect x="72.00" y="360.20" width="5.84" height="10.82" fill="#bebebe"/>
<rect x="77.50" y="360.20" width="5.84" height="10.82" fill="#b03060"/>
<rect x="83.00" y="360.20" width="5.84" height="10.82" fill="#b03060"/>
<rect x="88.49" y="360.20" width="5.84" height="10.82" fill="#bebebe"/>
<rect x="93.98" y="360.20" width="5.84" height="10.82" fill="#bebebe"/>
<rect x="99.48" y="360.20" width="5.84" height="10.82" fill="#b03060"/>
<rect x="104.97" y="360.20" width="5.84" height="10.82" fill="#b03060"/>
<rect x="110.47" y="360.20" width="5.84" height="10.82" fill="#b03060"/>
<rect x="115.97" y="360.20" width="5.84" height="10.82" fill="#b03060"/>
<rect x="121.46" y="360.20" width="5.84" height="10.82" fill="#b03060"/>
<rect x="126.95" y="360.20" width="5.84" height="10.82" fill="#b03060"/>
<rect x="132.45" y="360.20" width="5.50" height="10.82" fill="#b03060"/>
<text x="139.00" y="368.60" font-size="8.5" fill="#111" stroke="#111" stroke-width="0.15">Postmenopausal</text>
<rect x="22.55" y="370.67" width="5.84" height="10.82" fill="#ff00ff"/>
<rect x="28.05" y="370.67" width="5.84" height="10.82" fill="#b03060"/>
<rect x="33.54" y="370.67" width="5.84" height="10.82" fill="#ff00ff"/>
<rect x="39.03" y="370.67" width="5.84" height="10.82" fill="#ff00ff"/>
<rect x="44.53" y="370.67" width="5.84" height="10.82" fill="#ffc0cb"/>
<rect x="50.03" y="370.67" width="5.84" height="10.82" fill="#ff00ff"/>
<rect x="55.52" y="370.67" width="5.84" height="10.82" fill="#ff00ff"/>
<rect x="61.02" y="370.67" width="5.84" height="10.82" fill="#ff00ff"/>
<rect x="66.51" y="370.67" width="5.84" height="10.82" fill="#ff00ff"/>
<rect x="72.00" y="370.67" width="5.84" height="10.82" fill="#b03060"/>
<rect x="77.50" y="370.67" width="5.84" height="10.82" fill="#ff00ff"/>
<rect x="83.00" y="370.67" width="5.84" height="10.82" fill="#ff00ff"/>
<rect x="88.49" y="370.67" width="5.84" height="10.82" fill="#ffc0cb"/>
<rect x="93.98" y="370.67" width="5.84" height="10.82" fill="#ff00ff"/>
<rect x="99.48" y="370.67" width="5.84" height="10.82" fill="#ff00ff"/>
<rect x="104.97" y="370.67" width="5.84" height="10.82" fill="#ffc0cb"/>
<rect x="110.47" y="370.67" width="5.84" height="10.82" fill="#ffc0cb"/>
<rect x="115.97" y="370.67" width="5.84" height="10.82" fill="#ff00ff"/>
<rect x="121.46" y="370.67" width="5.84" height="10.82" fill="#ff00ff"/>
<rect x="126.95" y="370.67" width="5.84" height="10.82" fill="#ff00ff"/>
<rect x="132.45" y="370.67" width="5.50" height="10.82" fill="#ff00ff"/>
<text x="139.00" y="379.12" font-size="8.5" fill="#111" stroke="#111" stroke-width="0.15">Pathological Grade</text>
<rect x="22.55" y="381.14" width="5.84" height="10.82" fill="#add8e6"/>
<rect x="28.05" y="381.14" width="5.84" height="10.82" fill="#1e90ff"/>
<rect x="33.54" y="381.14" width="5.84" height="10.82" fill="#87ceeb"/>
<rect x="39.03" y="381.14" width="5.84" height="10.82" fill="#add8e6"/>
<rect x="44.53" y="381.14" width="5.84" height="10.82" fill="#1e90ff"/>
<rect x="50.03" y="381.14" width="5.84" height="10.82" fill="#000080"/>
<rect x="55.52" y="381.14" width="5.84" height="10.82" fill="#add8e6"/>
<rect x="61.02" y="381.14" width="5.84" height="10.82" fill="#1e90ff"/>
<rect x="66.51" y="381.14" width="5.84" height="10.82" fill="#add8e6"/>
<rect x="72.00" y="381.14" width="5.84" height="10.82" fill="#000000"/>
<rect x="77.50" y="381.14" width="5.84" height="10.82" fill="#87ceeb"/>
<rect x="83.00" y="381.14" width="5.84" height="10.82" fill="#0000cd"/>
<rect x="88.49" y="381.14" width="5.84" height="10.82" fill="#add8e6"/>
<rect x="93.98" y="381.14" width="5.84" height="10.82" fill="#add8e6"/>
<rect x="99.48" y="381.14" width="5.84" height="10.82" fill="#add8e6"/>
<rect x="104.97" y="381.14" width="5.84" height="10.82" fill="#add8e6"/>
<rect x="110.47" y="381.14" width="5.84" height="10.82" fill="#add8e6"/>
<rect x="115.97" y="381.14" width="5.84" height="10.82" fill="#1e90ff"/>
<rect x="121.46" y="381.14" width="5.84" height="10.82" fill="#add8e6"/>
<rect x="126.95" y="381.14" width="5.84" height="10.82" fill="#add8e6"/>
<rect x="132.45" y="381.14" width="5.50" height="10.82" fill="#add8e6"/>
<text x="139.00" y="389.64" font-size="8.5" fill="#111" stroke="#111" stroke-width="0.15">Pathological Stage</text>
<rect x="22.55" y="391.61" width="5.84" height="10.82" fill="#f4d0d8"/>
<rect x="28.05" y="391.61" width="5.84" height="10.82" fill="#e0a0b0"/>
<rect x="33.54" y="391.61" width="5.84" height="10.82" fill="#f6dce2"/>
<rect x="39.03" y="391.61" width="5.84" height="10.82" fill="#e8b0c0"/>
<rect x="44.53" y="391.61" width="5.84" height="10.82" fill="#fcf0f2"/>
<rect x="50.03" y="391.61" width="5.84" height="10.82" fill="#d88ca0"/>
<rect x="55.52" y="391.61" width="5.84" height="10.82" fill="#f8e0e6"/>
<rect x="61.02" y="391.61" width="5.84" height="10.82" fill="#ffffff"/>
<rect x="66.51" y="391.61" width="5.84" height="10.82" fill="#f2d0d8"/>
<rect x="72.00" y="391.61" width="5.84" height="10.82" fill="#fefafa"/>
<rect x="77.50" y="391.61" width="5.84" height="10.82" fill="#fae8ec"/>
<rect x="83.00" y="391.61" width="5.84" height="10.82" fill="#f2d0d8"/>
<rect x="88.49" y="391.61" width="5.84" height="10.82" fill="#b03060"/>
<rect x="93.98" y="391.61" width="5.84" height="10.82" fill="#fdf6f7"/>
<rect x="99.48" y="391.61" width="5.84" height="10.82" fill="#fcf0f2"/>
<rect x="104.97" y="391.61" width="5.84" height="10.82" fill="#ffffff"/>
<rect x="110.47" y="391.61" width="5.84" height="10.82" fill="#eec0cc"/>
<rect x="115.97" y="391.61" width="5.84" height="10.82" fill="#b03060"/>
<rect x="121.46" y="391.61" width="5.84" height="10.82" fill="#fcf0f2"/>
<rect x="126.95" y="391.61" width="5.84" height="10.82" fill="#f2d0d8"/>
<rect x="132.45" y="391.61" width="5.50" height="10.82" fill="#ffffff"/>
<text x="139.00" y="400.16" font-size="8.5" fill="#111" stroke="#111" stroke-width="0.15">Ki67</text>
<rect x="22.55" y="402.08" width="5.84" height="10.82" fill="#e07ad8"/>
<rect x="28.05" y="402.08" width="5.84" height="10.82" fill="#e07ad8"/>
<rect x="33.54" y="402.08" width="5.84" height="10.82" fill="#e07ad8"/>
<rect x="39.03" y="402.08" width="5.84" height="10.82" fill="#e07ad8"/>
<rect x="44.53" y="402.08" width="5.84" height="10.82" fill="#e07ad8"/>
<rect x="50.03" y="402.08" width="5.84" height="10.82" fill="#e07ad8"/>
<rect x="55.52" y="402.08" width="5.84" height="10.82" fill="#e07ad8"/>
<rect x="61.02" y="402.08" width="5.84" height="10.82" fill="#e07ad8"/>
<rect x="66.51" y="402.08" width="5.84" height="10.82" fill="#e07ad8"/>
<rect x="72.00" y="402.08" width="5.84" height="10.82" fill="#e07ad8"/>
<rect x="77.50" y="402.08" width="5.84" height="10.82" fill="#e07ad8"/>
<rect x="83.00" y="402.08" width="5.84" height="10.82" fill="#e07ad8"/>
<rect x="88.49" y="402.08" width="5.84" height="10.82" fill="#e07ad8"/>
<rect x="93.98" y="402.08" width="5.84" height="10.82" fill="#e07ad8"/>
<rect x="99.48" y="402.08" width="5.84" height="10.82" fill="#e07ad8"/>
<rect x="104.97" y="402.08" width="5.84" height="10.82" fill="#e07ad8"/>
<rect x="110.47" y="402.08" width="5.84" height="10.82" fill="#e07ad8"/>
<rect x="115.97" y="402.08" width="5.84" height="10.82" fill="#e07ad8"/>
<rect x="121.46" y="402.08" width="5.84" height="10.82" fill="#e07ad8"/>
<rect x="126.95" y="402.08" width="5.84" height="10.82" fill="#e07ad8"/>
<rect x="132.45" y="402.08" width="5.50" height="10.82" fill="#e07ad8"/>
<text x="139.00" y="410.68" font-size="8.5" fill="#111" stroke="#111" stroke-width="0.15">ER</text>
<rect x="22.55" y="412.55" width="5.84" height="10.82" fill="#e07ad8"/>
<rect x="28.05" y="412.55" width="5.84" height="10.82" fill="#e07ad8"/>
<rect x="33.54" y="412.55" width="5.84" height="10.82" fill="#e07ad8"/>
<rect x="39.03" y="412.55" width="5.84" height="10.82" fill="#e07ad8"/>
<rect x="44.53" y="412.55" width="5.84" height="10.82" fill="#e07ad8"/>
<rect x="50.03" y="412.55" width="5.84" height="10.82" fill="#e07ad8"/>
<rect x="55.52" y="412.55" width="5.84" height="10.82" fill="#e07ad8"/>
<rect x="61.02" y="412.55" width="5.84" height="10.82" fill="#e07ad8"/>
<rect x="66.51" y="412.55" width="5.84" height="10.82" fill="#e07ad8"/>
<rect x="72.00" y="412.55" width="5.84" height="10.82" fill="#e07ad8"/>
<rect x="77.50" y="412.55" width="5.84" height="10.82" fill="#e07ad8"/>
<rect x="83.00" y="412.55" width="5.84" height="10.82" fill="#e07ad8"/>
<rect x="88.49" y="412.55" width="5.84" height="10.82" fill="#e07ad8"/>
<rect x="93.98" y="412.55" width="5.84" height="10.82" fill="#e07ad8"/>
<rect x="99.48" y="412.55" width="5.84" height="10.82" fill="#e07ad8"/>
<rect x="104.97" y="412.55" width="5.84" height="10.82" fill="#8ea3cf"/>
<rect x="110.47" y="412.55" width="5.84" height="10.82" fill="#e07ad8"/>
<rect x="115.97" y="412.55" width="5.84" height="10.82" fill="#e07ad8"/>
<rect x="121.46" y="412.55" width="5.84" height="10.82" fill="#e07ad8"/>
<rect x="126.95" y="412.55" width="5.84" height="10.82" fill="#e07ad8"/>
<rect x="132.45" y="412.55" width="5.50" height="10.82" fill="#e07ad8"/>
<text x="139.00" y="421.20" font-size="8.5" fill="#111" stroke="#111" stroke-width="0.15">PR</text>
<rect x="22.55" y="423.02" width="5.84" height="10.82" fill="#8ea3cf"/>
<rect x="28.05" y="423.02" width="5.84" height="10.82" fill="#8ea3cf"/>
<rect x="33.54" y="423.02" width="5.84" height="10.82" fill="#8ea3cf"/>
<rect x="39.03" y="423.02" width="5.84" height="10.82" fill="#bebebe"/>
<rect x="44.53" y="423.02" width="5.84" height="10.82" fill="#8ea3cf"/>
<rect x="50.03" y="423.02" width="5.84" height="10.82" fill="#8ea3cf"/>
<rect x="55.52" y="423.02" width="5.84" height="10.82" fill="#8ea3cf"/>
<rect x="61.02" y="423.02" width="5.84" height="10.82" fill="#8ea3cf"/>
<rect x="66.51" y="423.02" width="5.84" height="10.82" fill="#8ea3cf"/>
<rect x="72.00" y="423.02" width="5.84" height="10.82" fill="#8ea3cf"/>
<rect x="77.50" y="423.02" width="5.84" height="10.82" fill="#8ea3cf"/>
<rect x="83.00" y="423.02" width="5.84" height="10.82" fill="#8ea3cf"/>
<rect x="88.49" y="423.02" width="5.84" height="10.82" fill="#8ea3cf"/>
<rect x="93.98" y="423.02" width="5.84" height="10.82" fill="#bebebe"/>
<rect x="99.48" y="423.02" width="5.84" height="10.82" fill="#8ea3cf"/>
<rect x="104.97" y="423.02" width="5.84" height="10.82" fill="#8ea3cf"/>
<rect x="110.47" y="423.02" width="5.84" height="10.82" fill="#8ea3cf"/>
<rect x="115.97" y="423.02" width="5.84" height="10.82" fill="#8ea3cf"/>
<rect x="121.46" y="423.02" width="5.84" height="10.82" fill="#8ea3cf"/>
<rect x="126.95" y="423.02" width="5.84" height="10.82" fill="#8ea3cf"/>
<rect x="132.45" y="423.02" width="5.50" height="10.82" fill="#8ea3cf"/>
<text x="139.00" y="431.72" font-size="8.5" fill="#111" stroke="#111" stroke-width="0.15">HER2</text>
<rect x="22.55" y="433.49" width="5.84" height="10.82" fill="#c85a7a"/>
<rect x="28.05" y="433.49" width="5.84" height="10.82" fill="#c04a70"/>
<rect x="33.54" y="433.49" width="5.84" height="10.82" fill="#c86080"/>
<rect x="39.03" y="433.49" width="5.84" height="10.82" fill="#e098b0"/>
<rect x="44.53" y="433.49" width="5.84" height="10.82" fill="#d87890"/>
<rect x="50.03" y="433.49" width="5.84" height="10.82" fill="#b03060"/>
<rect x="55.52" y="433.49" width="5.84" height="10.82" fill="#b8406a"/>
<rect x="61.02" y="433.49" width="5.84" height="10.82" fill="#c86080"/>
<rect x="66.51" y="433.49" width="5.84" height="10.82" fill="#d07088"/>
<rect x="72.00" y="433.49" width="5.84" height="10.82" fill="#bebebe"/>
<rect x="77.50" y="433.49" width="5.84" height="10.82" fill="#b03060"/>
<rect x="83.00" y="433.49" width="5.84" height="10.82" fill="#d88ca0"/>
<rect x="88.49" y="433.49" width="5.84" height="10.82" fill="#f0c8d4"/>
<rect x="93.98" y="433.49" width="5.84" height="10.82" fill="#ffffff"/>
<rect x="99.48" y="433.49" width="5.84" height="10.82" fill="#c85a7a"/>
<rect x="104.97" y="433.49" width="5.84" height="10.82" fill="#f0c8d4"/>
<rect x="110.47" y="433.49" width="5.84" height="10.82" fill="#e4a4b6"/>
<rect x="115.97" y="433.49" width="5.84" height="10.82" fill="#d07890"/>
<rect x="121.46" y="433.49" width="5.84" height="10.82" fill="#c86080"/>
<rect x="126.95" y="433.49" width="5.84" height="10.82" fill="#d07890"/>
<rect x="132.45" y="433.49" width="5.50" height="10.82" fill="#b83a68"/>
<text x="139.00" y="442.24" font-size="8.5" fill="#111" stroke="#111" stroke-width="0.15">ER IHC Score</text>
<rect x="22.55" y="443.96" width="5.84" height="10.47" fill="#ee8748"/>
<rect x="28.05" y="443.96" width="5.84" height="10.47" fill="#bebebe"/>
<rect x="33.54" y="443.96" width="5.84" height="10.47" fill="#ee8748"/>
<rect x="39.03" y="443.96" width="5.84" height="10.47" fill="#ee8748"/>
<rect x="44.53" y="443.96" width="5.84" height="10.47" fill="#bebebe"/>
<rect x="50.03" y="443.96" width="5.84" height="10.47" fill="#ee8748"/>
<rect x="55.52" y="443.96" width="5.84" height="10.47" fill="#ee8748"/>
<rect x="61.02" y="443.96" width="5.84" height="10.47" fill="#bebebe"/>
<rect x="66.51" y="443.96" width="5.84" height="10.47" fill="#ee8748"/>
<rect x="72.00" y="443.96" width="5.84" height="10.47" fill="#bebebe"/>
<rect x="77.50" y="443.96" width="5.84" height="10.47" fill="#ee8748"/>
<rect x="83.00" y="443.96" width="5.84" height="10.47" fill="#bebebe"/>
<rect x="88.49" y="443.96" width="5.84" height="10.47" fill="#bebebe"/>
<rect x="93.98" y="443.96" width="5.84" height="10.47" fill="#bebebe"/>
<rect x="99.48" y="443.96" width="5.84" height="10.47" fill="#bebebe"/>
<rect x="104.97" y="443.96" width="5.84" height="10.47" fill="#ee8748"/>
<rect x="110.47" y="443.96" width="5.84" height="10.47" fill="#ee8748"/>
<rect x="115.97" y="443.96" width="5.84" height="10.47" fill="#ee8748"/>
<rect x="121.46" y="443.96" width="5.84" height="10.47" fill="#ee8748"/>
<rect x="126.95" y="443.96" width="5.84" height="10.47" fill="#ee8748"/>
<rect x="132.45" y="443.96" width="5.50" height="10.47" fill="#ee8748"/>
<text x="139.00" y="452.76" font-size="8.5" fill="#111" stroke="#111" stroke-width="0.15">mIHC Availability</text>
<line x1="22.55" y1="318.32" x2="137.94" y2="318.32" stroke="#ffffff" stroke-width="0.4" opacity="0.45"/>
<line x1="22.55" y1="328.79" x2="137.94" y2="328.79" stroke="#ffffff" stroke-width="0.4" opacity="0.45"/>
<line x1="22.55" y1="339.26" x2="137.94" y2="339.26" stroke="#ffffff" stroke-width="0.4" opacity="0.45"/>
<line x1="22.55" y1="349.73" x2="137.94" y2="349.73" stroke="#ffffff" stroke-width="0.4" opacity="0.45"/>
<line x1="22.55" y1="360.20" x2="137.94" y2="360.20" stroke="#ffffff" stroke-width="0.4" opacity="0.45"/>
<line x1="22.55" y1="370.67" x2="137.94" y2="370.67" stroke="#ffffff" stroke-width="0.4" opacity="0.45"/>
<line x1="22.55" y1="381.14" x2="137.94" y2="381.14" stroke="#ffffff" stroke-width="0.4" opacity="0.45"/>
<line x1="22.55" y1="391.61" x2="137.94" y2="391.61" stroke="#ffffff" stroke-width="0.4" opacity="0.45"/>
<line x1="22.55" y1="402.08" x2="137.94" y2="402.08" stroke="#ffffff" stroke-width="0.4" opacity="0.45"/>
<line x1="22.55" y1="412.55" x2="137.94" y2="412.55" stroke="#ffffff" stroke-width="0.4" opacity="0.45"/>
<line x1="22.55" y1="423.02" x2="137.94" y2="423.02" stroke="#ffffff" stroke-width="0.4" opacity="0.45"/>
<line x1="22.55" y1="433.49" x2="137.94" y2="433.49" stroke="#ffffff" stroke-width="0.4" opacity="0.45"/>
<line x1="22.55" y1="443.96" x2="137.94" y2="443.96" stroke="#ffffff" stroke-width="0.4" opacity="0.45"/>
<line x1="28.05" y1="307.85" x2="28.05" y2="454.43" stroke="#ffffff" stroke-width="0.4" opacity="0.3"/>
<line x1="33.54" y1="307.85" x2="33.54" y2="454.43" stroke="#ffffff" stroke-width="0.4" opacity="0.3"/>
<line x1="39.03" y1="307.85" x2="39.03" y2="454.43" stroke="#ffffff" stroke-width="0.4" opacity="0.3"/>
<line x1="44.53" y1="307.85" x2="44.53" y2="454.43" stroke="#ffffff" stroke-width="0.4" opacity="0.3"/>
<line x1="50.03" y1="307.85" x2="50.03" y2="454.43" stroke="#ffffff" stroke-width="0.4" opacity="0.3"/>
<line x1="55.52" y1="307.85" x2="55.52" y2="454.43" stroke="#ffffff" stroke-width="0.4" opacity="0.3"/>
<line x1="61.02" y1="307.85" x2="61.02" y2="454.43" stroke="#ffffff" stroke-width="0.4" opacity="0.3"/>
<line x1="66.51" y1="307.85" x2="66.51" y2="454.43" stroke="#ffffff" stroke-width="0.4" opacity="0.3"/>
<line x1="72.00" y1="307.85" x2="72.00" y2="454.43" stroke="#ffffff" stroke-width="0.4" opacity="0.3"/>
<line x1="77.50" y1="307.85" x2="77.50" y2="454.43" stroke="#ffffff" stroke-width="0.4" opacity="0.3"/>
<line x1="83.00" y1="307.85" x2="83.00" y2="454.43" stroke="#ffffff" stroke-width="0.4" opacity="0.3"/>
<line x1="88.49" y1="307.85" x2="88.49" y2="454.43" stroke="#ffffff" stroke-width="0.4" opacity="0.3"/>
<line x1="93.98" y1="307.85" x2="93.98" y2="454.43" stroke="#ffffff" stroke-width="0.4" opacity="0.3"/>
<line x1="99.48" y1="307.85" x2="99.48" y2="454.43" stroke="#ffffff" stroke-width="0.4" opacity="0.3"/>
<line x1="104.97" y1="307.85" x2="104.97" y2="454.43" stroke="#ffffff" stroke-width="0.4" opacity="0.3"/>
<line x1="110.47" y1="307.85" x2="110.47" y2="454.43" stroke="#ffffff" stroke-width="0.4" opacity="0.3"/>
<line x1="115.97" y1="307.85" x2="115.97" y2="454.43" stroke="#ffffff" stroke-width="0.4" opacity="0.3"/>
<line x1="121.46" y1="307.85" x2="121.46" y2="454.43" stroke="#ffffff" stroke-width="0.4" opacity="0.3"/>
<line x1="126.95" y1="307.85" x2="126.95" y2="454.43" stroke="#ffffff" stroke-width="0.4" opacity="0.3"/>
<line x1="132.45" y1="307.85" x2="132.45" y2="454.43" stroke="#ffffff" stroke-width="0.4" opacity="0.3"/>
<rect x="22.55" y="455.20" width="5.84" height="5.69" fill="#ffa68c"/>
<rect x="28.05" y="455.20" width="5.84" height="5.69" fill="#a892f8"/>
<rect x="33.54" y="455.20" width="5.84" height="5.69" fill="#a892f8"/>
<rect x="39.03" y="455.20" width="5.84" height="5.69" fill="#fbd0c2"/>
<rect x="44.53" y="455.20" width="5.84" height="5.69" fill="#fbd0c2"/>
<rect x="50.03" y="455.20" width="5.84" height="5.69" fill="#c8bcf6"/>
<rect x="55.52" y="455.20" width="5.84" height="5.69" fill="#fbd0c2"/>
<rect x="61.02" y="455.20" width="5.84" height="5.69" fill="#ff6a4c"/>
<rect x="66.51" y="455.20" width="5.84" height="5.69" fill="#ffa68c"/>
<rect x="72.00" y="455.20" width="5.84" height="5.69" fill="#ffa68c"/>
<rect x="77.50" y="455.20" width="5.84" height="5.69" fill="#ffa68c"/>
<rect x="83.00" y="455.20" width="5.84" height="5.69" fill="#ffa68c"/>
<rect x="88.49" y="455.20" width="5.84" height="5.69" fill="#ff6a4c"/>
<rect x="93.98" y="455.20" width="5.84" height="5.69" fill="#ff6a4c"/>
<rect x="99.48" y="455.20" width="5.84" height="5.69" fill="#fbd0c2"/>
<rect x="104.97" y="455.20" width="5.84" height="5.69" fill="#ffa68c"/>
<rect x="110.47" y="455.20" width="5.84" height="5.69" fill="#ff6a4c"/>
<rect x="115.97" y="455.20" width="5.84" height="5.69" fill="#ff1a0c"/>
<rect x="121.46" y="455.20" width="5.84" height="5.69" fill="#ffa68c"/>
<rect x="126.95" y="455.20" width="5.84" height="5.69" fill="#ff6a4c"/>
<rect x="132.45" y="455.20" width="5.50" height="5.69" fill="#ffa68c"/>
<rect x="22.55" y="460.54" width="5.84" height="5.69" fill="#fbd0c2"/>
<rect x="28.05" y="460.54" width="5.84" height="5.69" fill="#a892f8"/>
<rect x="33.54" y="460.54" width="5.84" height="5.69" fill="#c8bcf6"/>
<rect x="39.03" y="460.54" width="5.84" height="5.69" fill="#c8bcf6"/>
<rect x="44.53" y="460.54" width="5.84" height="5.69" fill="#fbd0c2"/>
<rect x="50.03" y="460.54" width="5.84" height="5.69" fill="#c8bcf6"/>
<rect x="55.52" y="460.54" width="5.84" height="5.69" fill="#ffa68c"/>
<rect x="61.02" y="460.54" width="5.84" height="5.69" fill="#ff6a4c"/>
<rect x="66.51" y="460.54" width="5.84" height="5.69" fill="#ffa68c"/>
<rect x="72.00" y="460.54" width="5.84" height="5.69" fill="#ffa68c"/>
<rect x="77.50" y="460.54" width="5.84" height="5.69" fill="#ffa68c"/>
<rect x="83.00" y="460.54" width="5.84" height="5.69" fill="#ffa68c"/>
<rect x="88.49" y="460.54" width="5.84" height="5.69" fill="#ff1a0c"/>
<rect x="93.98" y="460.54" width="5.84" height="5.69" fill="#fbd0c2"/>
<rect x="99.48" y="460.54" width="5.84" height="5.69" fill="#ff6a4c"/>
<rect x="104.97" y="460.54" width="5.84" height="5.69" fill="#ff6a4c"/>
<rect x="110.47" y="460.54" width="5.84" height="5.69" fill="#ff1a0c"/>
<rect x="115.97" y="460.54" width="5.84" height="5.69" fill="#ff1a0c"/>
<rect x="121.46" y="460.54" width="5.84" height="5.69" fill="#ff6a4c"/>
<rect x="126.95" y="460.54" width="5.84" height="5.69" fill="#ff6a4c"/>
<rect x="132.45" y="460.54" width="5.50" height="5.69" fill="#ff6a4c"/>
<rect x="22.55" y="465.88" width="5.84" height="5.69" fill="#ebe6f4"/>
<rect x="28.05" y="465.88" width="5.84" height="5.69" fill="#a892f8"/>
<rect x="33.54" y="465.88" width="5.84" height="5.69" fill="#8c6ef8"/>
<rect x="39.03" y="465.88" width="5.84" height="5.69" fill="#8c6ef8"/>
<rect x="44.53" y="465.88" width="5.84" height="5.69" fill="#ebe6f4"/>
<rect x="50.03" y="465.88" width="5.84" height="5.69" fill="#fbd0c2"/>
<rect x="55.52" y="465.88" width="5.84" height="5.69" fill="#c8bcf6"/>
<rect x="61.02" y="465.88" width="5.84" height="5.69" fill="#c8bcf6"/>
<rect x="66.51" y="465.88" width="5.84" height="5.69" fill="#c8bcf6"/>
<rect x="72.00" y="465.88" width="5.84" height="5.69" fill="#ff6a4c"/>
<rect x="77.50" y="465.88" width="5.84" height="5.69" fill="#fbd0c2"/>
<rect x="83.00" y="465.88" width="5.84" height="5.69" fill="#ebe6f4"/>
<rect x="88.49" y="465.88" width="5.84" height="5.69" fill="#ff1a0c"/>
<rect x="93.98" y="465.88" width="5.84" height="5.69" fill="#ebe6f4"/>
<rect x="99.48" y="465.88" width="5.84" height="5.69" fill="#ffa68c"/>
<rect x="104.97" y="465.88" width="5.84" height="5.69" fill="#fbd0c2"/>
<rect x="110.47" y="465.88" width="5.84" height="5.69" fill="#ffa68c"/>
<rect x="115.97" y="465.88" width="5.84" height="5.69" fill="#fbd0c2"/>
<rect x="121.46" y="465.88" width="5.84" height="5.69" fill="#c8bcf6"/>
<rect x="126.95" y="465.88" width="5.84" height="5.69" fill="#ffa68c"/>
<rect x="132.45" y="465.88" width="5.50" height="5.69" fill="#fbd0c2"/>
<rect x="22.55" y="471.23" width="5.84" height="5.69" fill="#a892f8"/>
<rect x="28.05" y="471.23" width="5.84" height="5.69" fill="#c8bcf6"/>
<rect x="33.54" y="471.23" width="5.84" height="5.69" fill="#a892f8"/>
<rect x="39.03" y="471.23" width="5.84" height="5.69" fill="#c8bcf6"/>
<rect x="44.53" y="471.23" width="5.84" height="5.69" fill="#ebe6f4"/>
<rect x="50.03" y="471.23" width="5.84" height="5.69" fill="#a892f8"/>
<rect x="55.52" y="471.23" width="5.84" height="5.69" fill="#c8bcf6"/>
<rect x="61.02" y="471.23" width="5.84" height="5.69" fill="#a892f8"/>
<rect x="66.51" y="471.23" width="5.84" height="5.69" fill="#ebe6f4"/>
<rect x="72.00" y="471.23" width="5.84" height="5.69" fill="#fbd0c2"/>
<rect x="77.50" y="471.23" width="5.84" height="5.69" fill="#fbd0c2"/>
<rect x="83.00" y="471.23" width="5.84" height="5.69" fill="#ebe6f4"/>
<rect x="88.49" y="471.23" width="5.84" height="5.69" fill="#ff1a0c"/>
<rect x="93.98" y="471.23" width="5.84" height="5.69" fill="#fbd0c2"/>
<rect x="99.48" y="471.23" width="5.84" height="5.69" fill="#ebe6f4"/>
<rect x="104.97" y="471.23" width="5.84" height="5.69" fill="#ffa68c"/>
<rect x="110.47" y="471.23" width="5.84" height="5.69" fill="#fbd0c2"/>
<rect x="115.97" y="471.23" width="5.84" height="5.69" fill="#ffa68c"/>
<rect x="121.46" y="471.23" width="5.84" height="5.69" fill="#fbd0c2"/>
<rect x="126.95" y="471.23" width="5.84" height="5.69" fill="#ebe6f4"/>
<rect x="132.45" y="471.23" width="5.50" height="5.69" fill="#fbd0c2"/>
<rect x="22.55" y="476.57" width="5.84" height="5.69" fill="#ebe6f4"/>
<rect x="28.05" y="476.57" width="5.84" height="5.69" fill="#6e4ef8"/>
<rect x="33.54" y="476.57" width="5.84" height="5.69" fill="#c8bcf6"/>
<rect x="39.03" y="476.57" width="5.84" height="5.69" fill="#ebe6f4"/>
<rect x="44.53" y="476.57" width="5.84" height="5.69" fill="#ebe6f4"/>
<rect x="50.03" y="476.57" width="5.84" height="5.69" fill="#c8bcf6"/>
<rect x="55.52" y="476.57" width="5.84" height="5.69" fill="#c8bcf6"/>
<rect x="61.02" y="476.57" width="5.84" height="5.69" fill="#ebe6f4"/>
<rect x="66.51" y="476.57" width="5.84" height="5.69" fill="#fbd0c2"/>
<rect x="72.00" y="476.57" width="5.84" height="5.69" fill="#fbd0c2"/>
<rect x="77.50" y="476.57" width="5.84" height="5.69" fill="#ebe6f4"/>
<rect x="83.00" y="476.57" width="5.84" height="5.69" fill="#ebe6f4"/>
<rect x="88.49" y="476.57" width="5.84" height="5.69" fill="#ff6a4c"/>
<rect x="93.98" y="476.57" width="5.84" height="5.69" fill="#ff6a4c"/>
<rect x="99.48" y="476.57" width="5.84" height="5.69" fill="#fbd0c2"/>
<rect x="104.97" y="476.57" width="5.84" height="5.69" fill="#fbd0c2"/>
<rect x="110.47" y="476.57" width="5.84" height="5.69" fill="#fbd0c2"/>
<rect x="115.97" y="476.57" width="5.84" height="5.69" fill="#fbd0c2"/>
<rect x="121.46" y="476.57" width="5.84" height="5.69" fill="#fbd0c2"/>
<rect x="126.95" y="476.57" width="5.84" height="5.69" fill="#fbd0c2"/>
<rect x="132.45" y="476.57" width="5.50" height="5.69" fill="#fbd0c2"/>
<rect x="22.55" y="481.91" width="5.84" height="5.69" fill="#a892f8"/>
<rect x="28.05" y="481.91" width="5.84" height="5.69" fill="#a892f8"/>
<rect x="33.54" y="481.91" width="5.84" height="5.69" fill="#c8bcf6"/>
<rect x="39.03" y="481.91" width="5.84" height="5.69" fill="#fbd0c2"/>
<rect x="44.53" y="481.91" width="5.84" height="5.69" fill="#fbd0c2"/>
<rect x="50.03" y="481.91" width="5.84" height="5.69" fill="#c8bcf6"/>
<rect x="55.52" y="481.91" width="5.84" height="5.69" fill="#c8bcf6"/>
<rect x="61.02" y="481.91" width="5.84" height="5.69" fill="#c8bcf6"/>
<rect x="66.51" y="481.91" width="5.84" height="5.69" fill="#ffa68c"/>
<rect x="72.00" y="481.91" width="5.84" height="5.69" fill="#ebe6f4"/>
<rect x="77.50" y="481.91" width="5.84" height="5.69" fill="#ebe6f4"/>
<rect x="83.00" y="481.91" width="5.84" height="5.69" fill="#c8bcf6"/>
<rect x="88.49" y="481.91" width="5.84" height="5.69" fill="#ff1a0c"/>
<rect x="93.98" y="481.91" width="5.84" height="5.69" fill="#ffa68c"/>
<rect x="99.48" y="481.91" width="5.84" height="5.69" fill="#fbd0c2"/>
<rect x="104.97" y="481.91" width="5.84" height="5.69" fill="#fbd0c2"/>
<rect x="110.47" y="481.91" width="5.84" height="5.69" fill="#ffa68c"/>
<rect x="115.97" y="481.91" width="5.84" height="5.69" fill="#ffa68c"/>
<rect x="121.46" y="481.91" width="5.84" height="5.69" fill="#ebe6f4"/>
<rect x="126.95" y="481.91" width="5.84" height="5.69" fill="#fbd0c2"/>
<rect x="132.45" y="481.91" width="5.50" height="5.69" fill="#fbd0c2"/>
<rect x="22.55" y="487.25" width="5.84" height="5.69" fill="#c8bcf6"/>
<rect x="28.05" y="487.25" width="5.84" height="5.69" fill="#a892f8"/>
<rect x="33.54" y="487.25" width="5.84" height="5.69" fill="#8c6ef8"/>
<rect x="39.03" y="487.25" width="5.84" height="5.69" fill="#c8bcf6"/>
<rect x="44.53" y="487.25" width="5.84" height="5.69" fill="#ebe6f4"/>
<rect x="50.03" y="487.25" width="5.84" height="5.69" fill="#c8bcf6"/>
<rect x="55.52" y="487.25" width="5.84" height="5.69" fill="#c8bcf6"/>
<rect x="61.02" y="487.25" width="5.84" height="5.69" fill="#fbd0c2"/>
<rect x="66.51" y="487.25" width="5.84" height="5.69" fill="#ebe6f4"/>
<rect x="72.00" y="487.25" width="5.84" height="5.69" fill="#fbd0c2"/>
<rect x="77.50" y="487.25" width="5.84" height="5.69" fill="#fbd0c2"/>
<rect x="83.00" y="487.25" width="5.84" height="5.69" fill="#a892f8"/>
<rect x="88.49" y="487.25" width="5.84" height="5.69" fill="#ff6a4c"/>
<rect x="93.98" y="487.25" width="5.84" height="5.69" fill="#ff1a0c"/>
<rect x="99.48" y="487.25" width="5.84" height="5.69" fill="#fbd0c2"/>
<rect x="104.97" y="487.25" width="5.84" height="5.69" fill="#fbd0c2"/>
<rect x="110.47" y="487.25" width="5.84" height="5.69" fill="#fbd0c2"/>
<rect x="115.97" y="487.25" width="5.84" height="5.69" fill="#fbd0c2"/>
<rect x="121.46" y="487.25" width="5.84" height="5.69" fill="#ffa68c"/>
<rect x="126.95" y="487.25" width="5.84" height="5.69" fill="#fbd0c2"/>
<rect x="132.45" y="487.25" width="5.50" height="5.69" fill="#ffa68c"/>
<rect x="22.55" y="492.59" width="5.84" height="5.69" fill="#ebe6f4"/>
<rect x="28.05" y="492.59" width="5.84" height="5.69" fill="#a892f8"/>
<rect x="33.54" y="492.59" width="5.84" height="5.69" fill="#c8bcf6"/>
<rect x="39.03" y="492.59" width="5.84" height="5.69" fill="#fbd0c2"/>
<rect x="44.53" y="492.59" width="5.84" height="5.69" fill="#fbd0c2"/>
<rect x="50.03" y="492.59" width="5.84" height="5.69" fill="#fbd0c2"/>
<rect x="55.52" y="492.59" width="5.84" height="5.69" fill="#ffa68c"/>
<rect x="61.02" y="492.59" width="5.84" height="5.69" fill="#ebe6f4"/>
<rect x="66.51" y="492.59" width="5.84" height="5.69" fill="#fbd0c2"/>
<rect x="72.00" y="492.59" width="5.84" height="5.69" fill="#fbd0c2"/>
<rect x="77.50" y="492.59" width="5.84" height="5.69" fill="#ffa68c"/>
<rect x="83.00" y="492.59" width="5.84" height="5.69" fill="#ffa68c"/>
<rect x="88.49" y="492.59" width="5.84" height="5.69" fill="#ff1a0c"/>
<rect x="93.98" y="492.59" width="5.84" height="5.69" fill="#ff6a4c"/>
<rect x="99.48" y="492.59" width="5.84" height="5.69" fill="#ffa68c"/>
<rect x="104.97" y="492.59" width="5.84" height="5.69" fill="#ffa68c"/>
<rect x="110.47" y="492.59" width="5.84" height="5.69" fill="#ffa68c"/>
<rect x="115.97" y="492.59" width="5.84" height="5.69" fill="#ffa68c"/>
<rect x="121.46" y="492.59" width="5.84" height="5.69" fill="#fbd0c2"/>
<rect x="126.95" y="492.59" width="5.84" height="5.69" fill="#ffa68c"/>
<rect x="132.45" y="492.59" width="5.50" height="5.69" fill="#fbd0c2"/>
<rect x="22.55" y="497.94" width="5.84" height="5.69" fill="#fbd0c2"/>
<rect x="28.05" y="497.94" width="5.84" height="5.69" fill="#a892f8"/>
<rect x="33.54" y="497.94" width="5.84" height="5.69" fill="#ebe6f4"/>
<rect x="39.03" y="497.94" width="5.84" height="5.69" fill="#ffa68c"/>
<rect x="44.53" y="497.94" width="5.84" height="5.69" fill="#fbd0c2"/>
<rect x="50.03" y="497.94" width="5.84" height="5.69" fill="#ebe6f4"/>
<rect x="55.52" y="497.94" width="5.84" height="5.69" fill="#c8bcf6"/>
<rect x="61.02" y="497.94" width="5.84" height="5.69" fill="#c8bcf6"/>
<rect x="66.51" y="497.94" width="5.84" height="5.69" fill="#fbd0c2"/>
<rect x="72.00" y="497.94" width="5.84" height="5.69" fill="#fbd0c2"/>
<rect x="77.50" y="497.94" width="5.84" height="5.69" fill="#ebe6f4"/>
<rect x="83.00" y="497.94" width="5.84" height="5.69" fill="#c8bcf6"/>
<rect x="88.49" y="497.94" width="5.84" height="5.69" fill="#ff1a0c"/>
<rect x="93.98" y="497.94" width="5.84" height="5.69" fill="#ff1a0c"/>
<rect x="99.48" y="497.94" width="5.84" height="5.69" fill="#ffa68c"/>
<rect x="104.97" y="497.94" width="5.84" height="5.69" fill="#ebe6f4"/>
<rect x="110.47" y="497.94" width="5.84" height="5.69" fill="#ffa68c"/>
<rect x="115.97" y="497.94" width="5.84" height="5.69" fill="#ff6a4c"/>
<rect x="121.46" y="497.94" width="5.84" height="5.69" fill="#fbd0c2"/>
<rect x="126.95" y="497.94" width="5.84" height="5.69" fill="#ffa68c"/>
<rect x="132.45" y="497.94" width="5.50" height="5.69" fill="#fbd0c2"/>
<rect x="22.55" y="503.28" width="5.84" height="5.69" fill="#8c6ef8"/>
<rect x="28.05" y="503.28" width="5.84" height="5.69" fill="#8c6ef8"/>
<rect x="33.54" y="503.28" width="5.84" height="5.69" fill="#8c6ef8"/>
<rect x="39.03" y="503.28" width="5.84" height="5.69" fill="#8c6ef8"/>
<rect x="44.53" y="503.28" width="5.84" height="5.69" fill="#8c6ef8"/>
<rect x="50.03" y="503.28" width="5.84" height="5.69" fill="#8c6ef8"/>
<rect x="55.52" y="503.28" width="5.84" height="5.69" fill="#a892f8"/>
<rect x="61.02" y="503.28" width="5.84" height="5.69" fill="#8c6ef8"/>
<rect x="66.51" y="503.28" width="5.84" height="5.69" fill="#8c6ef8"/>
<rect x="72.00" y="503.28" width="5.84" height="5.69" fill="#a892f8"/>
<rect x="77.50" y="503.28" width="5.84" height="5.69" fill="#8c6ef8"/>
<rect x="83.00" y="503.28" width="5.84" height="5.69" fill="#a892f8"/>
<rect x="88.49" y="503.28" width="5.84" height="5.69" fill="#a892f8"/>
<rect x="93.98" y="503.28" width="5.84" height="5.69" fill="#8c6ef8"/>
<rect x="99.48" y="503.28" width="5.84" height="5.69" fill="#c8bcf6"/>
<rect x="104.97" y="503.28" width="5.84" height="5.69" fill="#8c6ef8"/>
<rect x="110.47" y="503.28" width="5.84" height="5.69" fill="#a892f8"/>
<rect x="115.97" y="503.28" width="5.84" height="5.69" fill="#a892f8"/>
<rect x="121.46" y="503.28" width="5.84" height="5.69" fill="#a892f8"/>
<rect x="126.95" y="503.28" width="5.84" height="5.69" fill="#a892f8"/>
<rect x="132.45" y="503.28" width="5.50" height="5.69" fill="#a892f8"/>
<rect x="22.55" y="508.62" width="5.84" height="5.69" fill="#a892f8"/>
<rect x="28.05" y="508.62" width="5.84" height="5.69" fill="#a892f8"/>
<rect x="33.54" y="508.62" width="5.84" height="5.69" fill="#a892f8"/>
<rect x="39.03" y="508.62" width="5.84" height="5.69" fill="#a892f8"/>
<rect x="44.53" y="508.62" width="5.84" height="5.69" fill="#a892f8"/>
<rect x="50.03" y="508.62" width="5.84" height="5.69" fill="#c8bcf6"/>
<rect x="55.52" y="508.62" width="5.84" height="5.69" fill="#8c6ef8"/>
<rect x="61.02" y="508.62" width="5.84" height="5.69" fill="#a892f8"/>
<rect x="66.51" y="508.62" width="5.84" height="5.69" fill="#a892f8"/>
<rect x="72.00" y="508.62" width="5.84" height="5.69" fill="#a892f8"/>
<rect x="77.50" y="508.62" width="5.84" height="5.69" fill="#a892f8"/>
<rect x="83.00" y="508.62" width="5.84" height="5.69" fill="#a892f8"/>
<rect x="88.49" y="508.62" width="5.84" height="5.69" fill="#ebe6f4"/>
<rect x="93.98" y="508.62" width="5.84" height="5.69" fill="#a892f8"/>
<rect x="99.48" y="508.62" width="5.84" height="5.69" fill="#a892f8"/>
<rect x="104.97" y="508.62" width="5.84" height="5.69" fill="#a892f8"/>
<rect x="110.47" y="508.62" width="5.84" height="5.69" fill="#a892f8"/>
<rect x="115.97" y="508.62" width="5.84" height="5.69" fill="#a892f8"/>
<rect x="121.46" y="508.62" width="5.84" height="5.69" fill="#a892f8"/>
<rect x="126.95" y="508.62" width="5.84" height="5.69" fill="#a892f8"/>
<rect x="132.45" y="508.62" width="5.50" height="5.69" fill="#c8bcf6"/>
<rect x="22.55" y="513.96" width="5.84" height="5.69" fill="#a892f8"/>
<rect x="28.05" y="513.96" width="5.84" height="5.69" fill="#a892f8"/>
<rect x="33.54" y="513.96" width="5.84" height="5.69" fill="#c8bcf6"/>
<rect x="39.03" y="513.96" width="5.84" height="5.69" fill="#a892f8"/>
<rect x="44.53" y="513.96" width="5.84" height="5.69" fill="#a892f8"/>
<rect x="50.03" y="513.96" width="5.84" height="5.69" fill="#a892f8"/>
<rect x="55.52" y="513.96" width="5.84" height="5.69" fill="#c8bcf6"/>
<rect x="61.02" y="513.96" width="5.84" height="5.69" fill="#a892f8"/>
<rect x="66.51" y="513.96" width="5.84" height="5.69" fill="#a892f8"/>
<rect x="72.00" y="513.96" width="5.84" height="5.69" fill="#a892f8"/>
<rect x="77.50" y="513.96" width="5.84" height="5.69" fill="#a892f8"/>
<rect x="83.00" y="513.96" width="5.84" height="5.69" fill="#a892f8"/>
<rect x="88.49" y="513.96" width="5.84" height="5.69" fill="#ebe6f4"/>
<rect x="93.98" y="513.96" width="5.84" height="5.69" fill="#a892f8"/>
<rect x="99.48" y="513.96" width="5.84" height="5.69" fill="#c8bcf6"/>
<rect x="104.97" y="513.96" width="5.84" height="5.69" fill="#a892f8"/>
<rect x="110.47" y="513.96" width="5.84" height="5.69" fill="#a892f8"/>
<rect x="115.97" y="513.96" width="5.84" height="5.69" fill="#a892f8"/>
<rect x="121.46" y="513.96" width="5.84" height="5.69" fill="#a892f8"/>
<rect x="126.95" y="513.96" width="5.84" height="5.69" fill="#c8bcf6"/>
<rect x="132.45" y="513.96" width="5.50" height="5.69" fill="#a892f8"/>
<rect x="22.55" y="519.30" width="5.84" height="5.69" fill="#a892f8"/>
<rect x="28.05" y="519.30" width="5.84" height="5.69" fill="#ebe6f4"/>
<rect x="33.54" y="519.30" width="5.84" height="5.69" fill="#a892f8"/>
<rect x="39.03" y="519.30" width="5.84" height="5.69" fill="#c8bcf6"/>
<rect x="44.53" y="519.30" width="5.84" height="5.69" fill="#a892f8"/>
<rect x="50.03" y="519.30" width="5.84" height="5.69" fill="#a892f8"/>
<rect x="55.52" y="519.30" width="5.84" height="5.69" fill="#a892f8"/>
<rect x="61.02" y="519.30" width="5.84" height="5.69" fill="#c8bcf6"/>
<rect x="66.51" y="519.30" width="5.84" height="5.69" fill="#a892f8"/>
<rect x="72.00" y="519.30" width="5.84" height="5.69" fill="#a892f8"/>
<rect x="77.50" y="519.30" width="5.84" height="5.69" fill="#c8bcf6"/>
<rect x="83.00" y="519.30" width="5.84" height="5.69" fill="#ebe6f4"/>
<rect x="88.49" y="519.30" width="5.84" height="5.69" fill="#fbd0c2"/>
<rect x="93.98" y="519.30" width="5.84" height="5.69" fill="#a892f8"/>
<rect x="99.48" y="519.30" width="5.84" height="5.69" fill="#a892f8"/>
<rect x="104.97" y="519.30" width="5.84" height="5.69" fill="#ebe6f4"/>
<rect x="110.47" y="519.30" width="5.84" height="5.69" fill="#a892f8"/>
<rect x="115.97" y="519.30" width="5.84" height="5.69" fill="#c8bcf6"/>
<rect x="121.46" y="519.30" width="5.84" height="5.69" fill="#a892f8"/>
<rect x="126.95" y="519.30" width="5.84" height="5.69" fill="#a892f8"/>
<rect x="132.45" y="519.30" width="5.50" height="5.69" fill="#a892f8"/>
<rect x="22.55" y="524.65" width="5.84" height="5.69" fill="#a892f8"/>
<rect x="28.05" y="524.65" width="5.84" height="5.69" fill="#a892f8"/>
<rect x="33.54" y="524.65" width="5.84" height="5.69" fill="#a892f8"/>
<rect x="39.03" y="524.65" width="5.84" height="5.69" fill="#a892f8"/>
<rect x="44.53" y="524.65" width="5.84" height="5.69" fill="#c8bcf6"/>
<rect x="50.03" y="524.65" width="5.84" height="5.69" fill="#c8bcf6"/>
<rect x="55.52" y="524.65" width="5.84" height="5.69" fill="#c8bcf6"/>
<rect x="61.02" y="524.65" width="5.84" height="5.69" fill="#fbd0c2"/>
<rect x="66.51" y="524.65" width="5.84" height="5.69" fill="#a892f8"/>
<rect x="72.00" y="524.65" width="5.84" height="5.69" fill="#c8bcf6"/>
<rect x="77.50" y="524.65" width="5.84" height="5.69" fill="#c8bcf6"/>
<rect x="83.00" y="524.65" width="5.84" height="5.69" fill="#c8bcf6"/>
<rect x="88.49" y="524.65" width="5.84" height="5.69" fill="#fbd0c2"/>
<rect x="93.98" y="524.65" width="5.84" height="5.69" fill="#a892f8"/>
<rect x="99.48" y="524.65" width="5.84" height="5.69" fill="#a892f8"/>
<rect x="104.97" y="524.65" width="5.84" height="5.69" fill="#a892f8"/>
<rect x="110.47" y="524.65" width="5.84" height="5.69" fill="#c8bcf6"/>
<rect x="115.97" y="524.65" width="5.84" height="5.69" fill="#c8bcf6"/>
<rect x="121.46" y="524.65" width="5.84" height="5.69" fill="#c8bcf6"/>
<rect x="126.95" y="524.65" width="5.84" height="5.69" fill="#ebe6f4"/>
<rect x="132.45" y="524.65" width="5.50" height="5.69" fill="#ebe6f4"/>
<rect x="22.55" y="529.99" width="5.84" height="5.69" fill="#a892f8"/>
<rect x="28.05" y="529.99" width="5.84" height="5.69" fill="#a892f8"/>
<rect x="33.54" y="529.99" width="5.84" height="5.69" fill="#a892f8"/>
<rect x="39.03" y="529.99" width="5.84" height="5.69" fill="#a892f8"/>
<rect x="44.53" y="529.99" width="5.84" height="5.69" fill="#a892f8"/>
<rect x="50.03" y="529.99" width="5.84" height="5.69" fill="#a892f8"/>
<rect x="55.52" y="529.99" width="5.84" height="5.69" fill="#8c6ef8"/>
<rect x="61.02" y="529.99" width="5.84" height="5.69" fill="#c8bcf6"/>
<rect x="66.51" y="529.99" width="5.84" height="5.69" fill="#a892f8"/>
<rect x="72.00" y="529.99" width="5.84" height="5.69" fill="#c8bcf6"/>
<rect x="77.50" y="529.99" width="5.84" height="5.69" fill="#c8bcf6"/>
<rect x="83.00" y="529.99" width="5.84" height="5.69" fill="#c8bcf6"/>
<rect x="88.49" y="529.99" width="5.84" height="5.69" fill="#c8bcf6"/>
<rect x="93.98" y="529.99" width="5.84" height="5.69" fill="#a892f8"/>
<rect x="99.48" y="529.99" width="5.84" height="5.69" fill="#a892f8"/>
<rect x="104.97" y="529.99" width="5.84" height="5.69" fill="#c8bcf6"/>
<rect x="110.47" y="529.99" width="5.84" height="5.69" fill="#a892f8"/>
<rect x="115.97" y="529.99" width="5.84" height="5.69" fill="#c8bcf6"/>
<rect x="121.46" y="529.99" width="5.84" height="5.69" fill="#c8bcf6"/>
<rect x="126.95" y="529.99" width="5.84" height="5.69" fill="#c8bcf6"/>
<rect x="132.45" y="529.99" width="5.50" height="5.69" fill="#c8bcf6"/>
<rect x="22.55" y="535.33" width="5.84" height="5.69" fill="#c8bcf6"/>
<rect x="28.05" y="535.33" width="5.84" height="5.69" fill="#c8bcf6"/>
<rect x="33.54" y="535.33" width="5.84" height="5.69" fill="#c8bcf6"/>
<rect x="39.03" y="535.33" width="5.84" height="5.69" fill="#c8bcf6"/>
<rect x="44.53" y="535.33" width="5.84" height="5.69" fill="#c8bcf6"/>
<rect x="50.03" y="535.33" width="5.84" height="5.69" fill="#c8bcf6"/>
<rect x="55.52" y="535.33" width="5.84" height="5.69" fill="#c8bcf6"/>
<rect x="61.02" y="535.33" width="5.84" height="5.69" fill="#c8bcf6"/>
<rect x="66.51" y="535.33" width="5.84" height="5.69" fill="#c8bcf6"/>
<rect x="72.00" y="535.33" width="5.84" height="5.69" fill="#c8bcf6"/>
<rect x="77.50" y="535.33" width="5.84" height="5.69" fill="#c8bcf6"/>
<rect x="83.00" y="535.33" width="5.84" height="5.69" fill="#c8bcf6"/>
<rect x="88.49" y="535.33" width="5.84" height="5.69" fill="#c8bcf6"/>
<rect x="93.98" y="535.33" width="5.84" height="5.69" fill="#c8bcf6"/>
<rect x="99.48" y="535.33" width="5.84" height="5.69" fill="#c8bcf6"/>
<rect x="104.97" y="535.33" width="5.84" height="5.69" fill="#c8bcf6"/>
<rect x="110.47" y="535.33" width="5.84" height="5.69" fill="#c8bcf6"/>
<rect x="115.97" y="535.33" width="5.84" height="5.69" fill="#ebe6f4"/>
<rect x="121.46" y="535.33" width="5.84" height="5.69" fill="#c8bcf6"/>
<rect x="126.95" y="535.33" width="5.84" height="5.69" fill="#c8bcf6"/>
<rect x="132.45" y="535.33" width="5.50" height="5.69" fill="#ebe6f4"/>
<rect x="22.55" y="540.67" width="5.84" height="5.69" fill="#c8bcf6"/>
<rect x="28.05" y="540.67" width="5.84" height="5.69" fill="#c8bcf6"/>
<rect x="33.54" y="540.67" width="5.84" height="5.69" fill="#c8bcf6"/>
<rect x="39.03" y="540.67" width="5.84" height="5.69" fill="#c8bcf6"/>
<rect x="44.53" y="540.67" width="5.84" height="5.69" fill="#c8bcf6"/>
<rect x="50.03" y="540.67" width="5.84" height="5.69" fill="#c8bcf6"/>
<rect x="55.52" y="540.67" width="5.84" height="5.69" fill="#c8bcf6"/>
<rect x="61.02" y="540.67" width="5.84" height="5.69" fill="#c8bcf6"/>
<rect x="66.51" y="540.67" width="5.84" height="5.69" fill="#c8bcf6"/>
<rect x="72.00" y="540.67" width="5.84" height="5.69" fill="#c8bcf6"/>
<rect x="77.50" y="540.67" width="5.84" height="5.69" fill="#c8bcf6"/>
<rect x="83.00" y="540.67" width="5.84" height="5.69" fill="#c8bcf6"/>
<rect x="88.49" y="540.67" width="5.84" height="5.69" fill="#fbd0c2"/>
<rect x="93.98" y="540.67" width="5.84" height="5.69" fill="#c8bcf6"/>
<rect x="99.48" y="540.67" width="5.84" height="5.69" fill="#c8bcf6"/>
<rect x="104.97" y="540.67" width="5.84" height="5.69" fill="#c8bcf6"/>
<rect x="110.47" y="540.67" width="5.84" height="5.69" fill="#a892f8"/>
<rect x="115.97" y="540.67" width="5.84" height="5.69" fill="#a892f8"/>
<rect x="121.46" y="540.67" width="5.84" height="5.69" fill="#c8bcf6"/>
<rect x="126.95" y="540.67" width="5.84" height="5.69" fill="#c8bcf6"/>
<rect x="132.45" y="540.67" width="5.50" height="5.69" fill="#ebe6f4"/>
<rect x="22.55" y="546.01" width="5.84" height="5.69" fill="#a892f8"/>
<rect x="28.05" y="546.01" width="5.84" height="5.69" fill="#a892f8"/>
<rect x="33.54" y="546.01" width="5.84" height="5.69" fill="#a892f8"/>
<rect x="39.03" y="546.01" width="5.84" height="5.69" fill="#a892f8"/>
<rect x="44.53" y="546.01" width="5.84" height="5.69" fill="#a892f8"/>
<rect x="50.03" y="546.01" width="5.84" height="5.69" fill="#a892f8"/>
<rect x="55.52" y="546.01" width="5.84" height="5.69" fill="#a892f8"/>
<rect x="61.02" y="546.01" width="5.84" height="5.69" fill="#c8bcf6"/>
<rect x="66.51" y="546.01" width="5.84" height="5.69" fill="#fbd0c2"/>
<rect x="72.00" y="546.01" width="5.84" height="5.69" fill="#a892f8"/>
<rect x="77.50" y="546.01" width="5.84" height="5.69" fill="#ebe6f4"/>
<rect x="83.00" y="546.01" width="5.84" height="5.69" fill="#c8bcf6"/>
<rect x="88.49" y="546.01" width="5.84" height="5.69" fill="#ebe6f4"/>
<rect x="93.98" y="546.01" width="5.84" height="5.69" fill="#a892f8"/>
<rect x="99.48" y="546.01" width="5.84" height="5.69" fill="#a892f8"/>
<rect x="104.97" y="546.01" width="5.84" height="5.69" fill="#ebe6f4"/>
<rect x="110.47" y="546.01" width="5.84" height="5.69" fill="#ebe6f4"/>
<rect x="115.97" y="546.01" width="5.84" height="5.69" fill="#ebe6f4"/>
<rect x="121.46" y="546.01" width="5.84" height="5.69" fill="#c8bcf6"/>
<rect x="126.95" y="546.01" width="5.84" height="5.69" fill="#ebe6f4"/>
<rect x="132.45" y="546.01" width="5.50" height="5.69" fill="#fbd0c2"/>
<rect x="22.55" y="551.36" width="5.84" height="5.69" fill="#a892f8"/>
<rect x="28.05" y="551.36" width="5.84" height="5.69" fill="#a892f8"/>
<rect x="33.54" y="551.36" width="5.84" height="5.69" fill="#a892f8"/>
<rect x="39.03" y="551.36" width="5.84" height="5.69" fill="#a892f8"/>
<rect x="44.53" y="551.36" width="5.84" height="5.69" fill="#c8bcf6"/>
<rect x="50.03" y="551.36" width="5.84" height="5.69" fill="#a892f8"/>
<rect x="55.52" y="551.36" width="5.84" height="5.69" fill="#c8bcf6"/>
<rect x="61.02" y="551.36" width="5.84" height="5.69" fill="#ebe6f4"/>
<rect x="66.51" y="551.36" width="5.84" height="5.69" fill="#ebe6f4"/>
<rect x="72.00" y="551.36" width="5.84" height="5.69" fill="#a892f8"/>
<rect x="77.50" y="551.36" width="5.84" height="5.69" fill="#a892f8"/>
<rect x="83.00" y="551.36" width="5.84" height="5.69" fill="#a892f8"/>
<rect x="88.49" y="551.36" width="5.84" height="5.69" fill="#fbd0c2"/>
<rect x="93.98" y="551.36" width="5.84" height="5.69" fill="#c8bcf6"/>
<rect x="99.48" y="551.36" width="5.84" height="5.69" fill="#c8bcf6"/>
<rect x="104.97" y="551.36" width="5.84" height="5.69" fill="#fbd0c2"/>
<rect x="110.47" y="551.36" width="5.84" height="5.69" fill="#ebe6f4"/>
<rect x="115.97" y="551.36" width="5.84" height="5.69" fill="#c8bcf6"/>
<rect x="121.46" y="551.36" width="5.84" height="5.69" fill="#ebe6f4"/>
<rect x="126.95" y="551.36" width="5.84" height="5.69" fill="#ebe6f4"/>
<rect x="132.45" y="551.36" width="5.50" height="5.69" fill="#ebe6f4"/>
<rect x="22.55" y="556.70" width="5.84" height="5.69" fill="#8c6ef8"/>
<rect x="28.05" y="556.70" width="5.84" height="5.69" fill="#a892f8"/>
<rect x="33.54" y="556.70" width="5.84" height="5.69" fill="#a892f8"/>
<rect x="39.03" y="556.70" width="5.84" height="5.69" fill="#8c6ef8"/>
<rect x="44.53" y="556.70" width="5.84" height="5.69" fill="#a892f8"/>
<rect x="50.03" y="556.70" width="5.84" height="5.69" fill="#a892f8"/>
<rect x="55.52" y="556.70" width="5.84" height="5.69" fill="#c8bcf6"/>
<rect x="61.02" y="556.70" width="5.84" height="5.69" fill="#ebe6f4"/>
<rect x="66.51" y="556.70" width="5.84" height="5.69" fill="#8c6ef8"/>
<rect x="72.00" y="556.70" width="5.84" height="5.69" fill="#a892f8"/>
<rect x="77.50" y="556.70" width="5.84" height="5.69" fill="#a892f8"/>
<rect x="83.00" y="556.70" width="5.84" height="5.69" fill="#8c6ef8"/>
<rect x="88.49" y="556.70" width="5.84" height="5.69" fill="#fbd0c2"/>
<rect x="93.98" y="556.70" width="5.84" height="5.69" fill="#a892f8"/>
<rect x="99.48" y="556.70" width="5.84" height="5.69" fill="#c8bcf6"/>
<rect x="104.97" y="556.70" width="5.84" height="5.69" fill="#ebe6f4"/>
<rect x="110.47" y="556.70" width="5.84" height="5.69" fill="#c8bcf6"/>
<rect x="115.97" y="556.70" width="5.84" height="5.69" fill="#fbd0c2"/>
<rect x="121.46" y="556.70" width="5.84" height="5.69" fill="#ebe6f4"/>
<rect x="126.95" y="556.70" width="5.84" height="5.69" fill="#fbd0c2"/>
<rect x="132.45" y="556.70" width="5.50" height="5.69" fill="#fbd0c2"/>
<rect x="22.55" y="562.04" width="5.84" height="5.69" fill="#a892f8"/>
<rect x="28.05" y="562.04" width="5.84" height="5.69" fill="#8c6ef8"/>
<rect x="33.54" y="562.04" width="5.84" height="5.69" fill="#8c6ef8"/>
<rect x="39.03" y="562.04" width="5.84" height="5.69" fill="#8c6ef8"/>
<rect x="44.53" y="562.04" width="5.84" height="5.69" fill="#a892f8"/>
<rect x="50.03" y="562.04" width="5.84" height="5.69" fill="#8c6ef8"/>
<rect x="55.52" y="562.04" width="5.84" height="5.69" fill="#a892f8"/>
<rect x="61.02" y="562.04" width="5.84" height="5.69" fill="#ebe6f4"/>
<rect x="66.51" y="562.04" width="5.84" height="5.69" fill="#a892f8"/>
<rect x="72.00" y="562.04" width="5.84" height="5.69" fill="#c8bcf6"/>
<rect x="77.50" y="562.04" width="5.84" height="5.69" fill="#c8bcf6"/>
<rect x="83.00" y="562.04" width="5.84" height="5.69" fill="#c8bcf6"/>
<rect x="88.49" y="562.04" width="5.84" height="5.69" fill="#ebe6f4"/>
<rect x="93.98" y="562.04" width="5.84" height="5.69" fill="#8c6ef8"/>
<rect x="99.48" y="562.04" width="5.84" height="5.69" fill="#a892f8"/>
<rect x="104.97" y="562.04" width="5.84" height="5.69" fill="#c8bcf6"/>
<rect x="110.47" y="562.04" width="5.84" height="5.69" fill="#ebe6f4"/>
<rect x="115.97" y="562.04" width="5.84" height="5.69" fill="#ebe6f4"/>
<rect x="121.46" y="562.04" width="5.84" height="5.69" fill="#a892f8"/>
<rect x="126.95" y="562.04" width="5.84" height="5.69" fill="#ebe6f4"/>
<rect x="132.45" y="562.04" width="5.50" height="5.69" fill="#ebe6f4"/>
<rect x="22.55" y="567.38" width="5.84" height="5.69" fill="#2a1cf8"/>
<rect x="28.05" y="567.38" width="5.84" height="5.69" fill="#2a1cf8"/>
<rect x="33.54" y="567.38" width="5.84" height="5.69" fill="#2a1cf8"/>
<rect x="39.03" y="567.38" width="5.84" height="5.69" fill="#a892f8"/>
<rect x="44.53" y="567.38" width="5.84" height="5.69" fill="#a892f8"/>
<rect x="50.03" y="567.38" width="5.84" height="5.69" fill="#8c6ef8"/>
<rect x="55.52" y="567.38" width="5.84" height="5.69" fill="#a892f8"/>
<rect x="61.02" y="567.38" width="5.84" height="5.69" fill="#a892f8"/>
<rect x="66.51" y="567.38" width="5.84" height="5.69" fill="#c8bcf6"/>
<rect x="72.00" y="567.38" width="5.84" height="5.69" fill="#a892f8"/>
<rect x="77.50" y="567.38" width="5.84" height="5.69" fill="#c8bcf6"/>
<rect x="83.00" y="567.38" width="5.84" height="5.69" fill="#a892f8"/>
<rect x="88.49" y="567.38" width="5.84" height="5.69" fill="#ebe6f4"/>
<rect x="93.98" y="567.38" width="5.84" height="5.69" fill="#c8bcf6"/>
<rect x="99.48" y="567.38" width="5.84" height="5.69" fill="#c8bcf6"/>
<rect x="104.97" y="567.38" width="5.84" height="5.69" fill="#ebe6f4"/>
<rect x="110.47" y="567.38" width="5.84" height="5.69" fill="#c8bcf6"/>
<rect x="115.97" y="567.38" width="5.84" height="5.69" fill="#c8bcf6"/>
<rect x="121.46" y="567.38" width="5.84" height="5.69" fill="#c8bcf6"/>
<rect x="126.95" y="567.38" width="5.84" height="5.69" fill="#a892f8"/>
<rect x="132.45" y="567.38" width="5.50" height="5.69" fill="#c8bcf6"/>
<rect x="22.55" y="572.72" width="5.84" height="5.69" fill="#c8bcf6"/>
<rect x="28.05" y="572.72" width="5.84" height="5.69" fill="#8c6ef8"/>
<rect x="33.54" y="572.72" width="5.84" height="5.69" fill="#8c6ef8"/>
<rect x="39.03" y="572.72" width="5.84" height="5.69" fill="#c8bcf6"/>
<rect x="44.53" y="572.72" width="5.84" height="5.69" fill="#c8bcf6"/>
<rect x="50.03" y="572.72" width="5.84" height="5.69" fill="#8c6ef8"/>
<rect x="55.52" y="572.72" width="5.84" height="5.69" fill="#6e4ef8"/>
<rect x="61.02" y="572.72" width="5.84" height="5.69" fill="#a892f8"/>
<rect x="66.51" y="572.72" width="5.84" height="5.69" fill="#a892f8"/>
<rect x="72.00" y="572.72" width="5.84" height="5.69" fill="#8c6ef8"/>
<rect x="77.50" y="572.72" width="5.84" height="5.69" fill="#a892f8"/>
<rect x="83.00" y="572.72" width="5.84" height="5.69" fill="#8c6ef8"/>
<rect x="88.49" y="572.72" width="5.84" height="5.69" fill="#ffa68c"/>
<rect x="93.98" y="572.72" width="5.84" height="5.69" fill="#ebe6f4"/>
<rect x="99.48" y="572.72" width="5.84" height="5.69" fill="#ebe6f4"/>
<rect x="104.97" y="572.72" width="5.84" height="5.69" fill="#c8bcf6"/>
<rect x="110.47" y="572.72" width="5.84" height="5.69" fill="#ebe6f4"/>
<rect x="115.97" y="572.72" width="5.84" height="5.69" fill="#c8bcf6"/>
<rect x="121.46" y="572.72" width="5.84" height="5.69" fill="#a892f8"/>
<rect x="126.95" y="572.72" width="5.84" height="5.69" fill="#c8bcf6"/>
<rect x="132.45" y="572.72" width="5.50" height="5.69" fill="#a892f8"/>
<rect x="22.55" y="578.07" width="5.84" height="5.69" fill="#a892f8"/>
<rect x="28.05" y="578.07" width="5.84" height="5.69" fill="#6e4ef8"/>
<rect x="33.54" y="578.07" width="5.84" height="5.69" fill="#8c6ef8"/>
<rect x="39.03" y="578.07" width="5.84" height="5.69" fill="#ebe6f4"/>
<rect x="44.53" y="578.07" width="5.84" height="5.69" fill="#c8bcf6"/>
<rect x="50.03" y="578.07" width="5.84" height="5.69" fill="#8c6ef8"/>
<rect x="55.52" y="578.07" width="5.84" height="5.69" fill="#8c6ef8"/>
<rect x="61.02" y="578.07" width="5.84" height="5.69" fill="#6e4ef8"/>
<rect x="66.51" y="578.07" width="5.84" height="5.69" fill="#c8bcf6"/>
<rect x="72.00" y="578.07" width="5.84" height="5.69" fill="#c8bcf6"/>
<rect x="77.50" y="578.07" width="5.84" height="5.69" fill="#c8bcf6"/>
<rect x="83.00" y="578.07" width="5.84" height="5.69" fill="#c8bcf6"/>
<rect x="88.49" y="578.07" width="5.84" height="5.69" fill="#ff6a4c"/>
<rect x="93.98" y="578.07" width="5.84" height="5.69" fill="#ebe6f4"/>
<rect x="99.48" y="578.07" width="5.84" height="5.69" fill="#c8bcf6"/>
<rect x="104.97" y="578.07" width="5.84" height="5.69" fill="#c8bcf6"/>
<rect x="110.47" y="578.07" width="5.84" height="5.69" fill="#ebe6f4"/>
<rect x="115.97" y="578.07" width="5.84" height="5.69" fill="#ebe6f4"/>
<rect x="121.46" y="578.07" width="5.84" height="5.69" fill="#a892f8"/>
<rect x="126.95" y="578.07" width="5.84" height="5.69" fill="#c8bcf6"/>
<rect x="132.45" y="578.07" width="5.50" height="5.69" fill="#c8bcf6"/>
<rect x="22.55" y="583.41" width="5.84" height="5.69" fill="#a892f8"/>
<rect x="28.05" y="583.41" width="5.84" height="5.69" fill="#a892f8"/>
<rect x="33.54" y="583.41" width="5.84" height="5.69" fill="#a892f8"/>
<rect x="39.03" y="583.41" width="5.84" height="5.69" fill="#ebe6f4"/>
<rect x="44.53" y="583.41" width="5.84" height="5.69" fill="#ebe6f4"/>
<rect x="50.03" y="583.41" width="5.84" height="5.69" fill="#c8bcf6"/>
<rect x="55.52" y="583.41" width="5.84" height="5.69" fill="#c8bcf6"/>
<rect x="61.02" y="583.41" width="5.84" height="5.69" fill="#c8bcf6"/>
<rect x="66.51" y="583.41" width="5.84" height="5.69" fill="#a892f8"/>
<rect x="72.00" y="583.41" width="5.84" height="5.69" fill="#ebe6f4"/>
<rect x="77.50" y="583.41" width="5.84" height="5.69" fill="#ebe6f4"/>
<rect x="83.00" y="583.41" width="5.84" height="5.69" fill="#fbd0c2"/>
<rect x="88.49" y="583.41" width="5.84" height="5.69" fill="#ff1a0c"/>
<rect x="93.98" y="583.41" width="5.84" height="5.69" fill="#a892f8"/>
<rect x="99.48" y="583.41" width="5.84" height="5.69" fill="#a892f8"/>
<rect x="104.97" y="583.41" width="5.84" height="5.69" fill="#a892f8"/>
<rect x="110.47" y="583.41" width="5.84" height="5.69" fill="#a892f8"/>
<rect x="115.97" y="583.41" width="5.84" height="5.69" fill="#fbd0c2"/>
<rect x="121.46" y="583.41" width="5.84" height="5.69" fill="#fbd0c2"/>
<rect x="126.95" y="583.41" width="5.84" height="5.69" fill="#c8bcf6"/>
<rect x="132.45" y="583.41" width="5.50" height="5.69" fill="#ebe6f4"/>
<rect x="22.55" y="588.75" width="5.84" height="5.69" fill="#a892f8"/>
<rect x="28.05" y="588.75" width="5.84" height="5.69" fill="#a892f8"/>
<rect x="33.54" y="588.75" width="5.84" height="5.69" fill="#c8bcf6"/>
<rect x="39.03" y="588.75" width="5.84" height="5.69" fill="#a892f8"/>
<rect x="44.53" y="588.75" width="5.84" height="5.69" fill="#c8bcf6"/>
<rect x="50.03" y="588.75" width="5.84" height="5.69" fill="#8c6ef8"/>
<rect x="55.52" y="588.75" width="5.84" height="5.69" fill="#ebe6f4"/>
<rect x="61.02" y="588.75" width="5.84" height="5.69" fill="#ebe6f4"/>
<rect x="66.51" y="588.75" width="5.84" height="5.69" fill="#a892f8"/>
<rect x="72.00" y="588.75" width="5.84" height="5.69" fill="#a892f8"/>
<rect x="77.50" y="588.75" width="5.84" height="5.69" fill="#fbd0c2"/>
<rect x="83.00" y="588.75" width="5.84" height="5.69" fill="#8c6ef8"/>
<rect x="88.49" y="588.75" width="5.84" height="5.69" fill="#ffa68c"/>
<rect x="93.98" y="588.75" width="5.84" height="5.69" fill="#a892f8"/>
<rect x="99.48" y="588.75" width="5.84" height="5.69" fill="#ebe6f4"/>
<rect x="104.97" y="588.75" width="5.84" height="5.69" fill="#ebe6f4"/>
<rect x="110.47" y="588.75" width="5.84" height="5.69" fill="#ebe6f4"/>
<rect x="115.97" y="588.75" width="5.84" height="5.69" fill="#c8bcf6"/>
<rect x="121.46" y="588.75" width="5.84" height="5.69" fill="#ebe6f4"/>
<rect x="126.95" y="588.75" width="5.84" height="5.69" fill="#ebe6f4"/>
<rect x="132.45" y="588.75" width="5.50" height="5.69" fill="#ebe6f4"/>
<rect x="22.55" y="594.09" width="5.84" height="5.69" fill="#8c6ef8"/>
<rect x="28.05" y="594.09" width="5.84" height="5.69" fill="#6e4ef8"/>
<rect x="33.54" y="594.09" width="5.84" height="5.69" fill="#8c6ef8"/>
<rect x="39.03" y="594.09" width="5.84" height="5.69" fill="#c8bcf6"/>
<rect x="44.53" y="594.09" width="5.84" height="5.69" fill="#8c6ef8"/>
<rect x="50.03" y="594.09" width="5.84" height="5.69" fill="#c8bcf6"/>
<rect x="55.52" y="594.09" width="5.84" height="5.69" fill="#c8bcf6"/>
<rect x="61.02" y="594.09" width="5.84" height="5.69" fill="#a892f8"/>
<rect x="66.51" y="594.09" width="5.84" height="5.69" fill="#a892f8"/>
<rect x="72.00" y="594.09" width="5.84" height="5.69" fill="#a892f8"/>
<rect x="77.50" y="594.09" width="5.84" height="5.69" fill="#fbd0c2"/>
<rect x="83.00" y="594.09" width="5.84" height="5.69" fill="#8c6ef8"/>
<rect x="88.49" y="594.09" width="5.84" height="5.69" fill="#ff6a4c"/>
<rect x="93.98" y="594.09" width="5.84" height="5.69" fill="#a892f8"/>
<rect x="99.48" y="594.09" width="5.84" height="5.69" fill="#fbd0c2"/>
<rect x="104.97" y="594.09" width="5.84" height="5.69" fill="#fbd0c2"/>
<rect x="110.47" y="594.09" width="5.84" height="5.69" fill="#ebe6f4"/>
<rect x="115.97" y="594.09" width="5.84" height="5.69" fill="#ebe6f4"/>
<rect x="121.46" y="594.09" width="5.84" height="5.69" fill="#c8bcf6"/>
<rect x="126.95" y="594.09" width="5.84" height="5.69" fill="#ebe6f4"/>
<rect x="132.45" y="594.09" width="5.50" height="5.69" fill="#c8bcf6"/>
<rect x="22.55" y="599.43" width="5.84" height="5.69" fill="#a892f8"/>
<rect x="28.05" y="599.43" width="5.84" height="5.69" fill="#c8bcf6"/>
<rect x="33.54" y="599.43" width="5.84" height="5.69" fill="#c8bcf6"/>
<rect x="39.03" y="599.43" width="5.84" height="5.69" fill="#c8bcf6"/>
<rect x="44.53" y="599.43" width="5.84" height="5.69" fill="#c8bcf6"/>
<rect x="50.03" y="599.43" width="5.84" height="5.69" fill="#a892f8"/>
<rect x="55.52" y="599.43" width="5.84" height="5.69" fill="#a892f8"/>
<rect x="61.02" y="599.43" width="5.84" height="5.69" fill="#c8bcf6"/>
<rect x="66.51" y="599.43" width="5.84" height="5.69" fill="#c8bcf6"/>
<rect x="72.00" y="599.43" width="5.84" height="5.69" fill="#8c6ef8"/>
<rect x="77.50" y="599.43" width="5.84" height="5.69" fill="#ebe6f4"/>
<rect x="83.00" y="599.43" width="5.84" height="5.69" fill="#c8bcf6"/>
<rect x="88.49" y="599.43" width="5.84" height="5.69" fill="#ff6a4c"/>
<rect x="93.98" y="599.43" width="5.84" height="5.69" fill="#ebe6f4"/>
<rect x="99.48" y="599.43" width="5.84" height="5.69" fill="#c8bcf6"/>
<rect x="104.97" y="599.43" width="5.84" height="5.69" fill="#8c6ef8"/>
<rect x="110.47" y="599.43" width="5.84" height="5.69" fill="#a892f8"/>
<rect x="115.97" y="599.43" width="5.84" height="5.69" fill="#fbd0c2"/>
<rect x="121.46" y="599.43" width="5.84" height="5.69" fill="#ebe6f4"/>
<rect x="126.95" y="599.43" width="5.84" height="5.69" fill="#ebe6f4"/>
<rect x="132.45" y="599.43" width="5.50" height="5.69" fill="#ebe6f4"/>
<rect x="22.55" y="604.78" width="5.84" height="5.69" fill="#a892f8"/>
<rect x="28.05" y="604.78" width="5.84" height="5.69" fill="#a892f8"/>
<rect x="33.54" y="604.78" width="5.84" height="5.69" fill="#a892f8"/>
<rect x="39.03" y="604.78" width="5.84" height="5.69" fill="#a892f8"/>
<rect x="44.53" y="604.78" width="5.84" height="5.69" fill="#c8bcf6"/>
<rect x="50.03" y="604.78" width="5.84" height="5.69" fill="#a892f8"/>
<rect x="55.52" y="604.78" width="5.84" height="5.69" fill="#a892f8"/>
<rect x="61.02" y="604.78" width="5.84" height="5.69" fill="#c8bcf6"/>
<rect x="66.51" y="604.78" width="5.84" height="5.69" fill="#c8bcf6"/>
<rect x="72.00" y="604.78" width="5.84" height="5.69" fill="#ebe6f4"/>
<rect x="77.50" y="604.78" width="5.84" height="5.69" fill="#c8bcf6"/>
<rect x="83.00" y="604.78" width="5.84" height="5.69" fill="#c8bcf6"/>
<rect x="88.49" y="604.78" width="5.84" height="5.69" fill="#ff6a4c"/>
<rect x="93.98" y="604.78" width="5.84" height="5.69" fill="#c8bcf6"/>
<rect x="99.48" y="604.78" width="5.84" height="5.69" fill="#ebe6f4"/>
<rect x="104.97" y="604.78" width="5.84" height="5.69" fill="#ebe6f4"/>
<rect x="110.47" y="604.78" width="5.84" height="5.69" fill="#c8bcf6"/>
<rect x="115.97" y="604.78" width="5.84" height="5.69" fill="#ebe6f4"/>
<rect x="121.46" y="604.78" width="5.84" height="5.69" fill="#a892f8"/>
<rect x="126.95" y="604.78" width="5.84" height="5.69" fill="#c8bcf6"/>
<rect x="132.45" y="604.78" width="5.50" height="5.69" fill="#ebe6f4"/>
<rect x="22.55" y="610.12" width="5.84" height="5.69" fill="#6e4ef8"/>
<rect x="28.05" y="610.12" width="5.84" height="5.69" fill="#a892f8"/>
<rect x="33.54" y="610.12" width="5.84" height="5.69" fill="#8c6ef8"/>
<rect x="39.03" y="610.12" width="5.84" height="5.69" fill="#a892f8"/>
<rect x="44.53" y="610.12" width="5.84" height="5.69" fill="#a892f8"/>
<rect x="50.03" y="610.12" width="5.84" height="5.69" fill="#a892f8"/>
<rect x="55.52" y="610.12" width="5.84" height="5.69" fill="#a892f8"/>
<rect x="61.02" y="610.12" width="5.84" height="5.69" fill="#ebe6f4"/>
<rect x="66.51" y="610.12" width="5.84" height="5.69" fill="#ebe6f4"/>
<rect x="72.00" y="610.12" width="5.84" height="5.69" fill="#8c6ef8"/>
<rect x="77.50" y="610.12" width="5.84" height="5.69" fill="#c8bcf6"/>
<rect x="83.00" y="610.12" width="5.84" height="5.69" fill="#a892f8"/>
<rect x="88.49" y="610.12" width="5.84" height="5.69" fill="#ff6a4c"/>
<rect x="93.98" y="610.12" width="5.84" height="5.69" fill="#8c6ef8"/>
<rect x="99.48" y="610.12" width="5.84" height="5.69" fill="#ebe6f4"/>
<rect x="104.97" y="610.12" width="5.84" height="5.69" fill="#ebe6f4"/>
<rect x="110.47" y="610.12" width="5.84" height="5.69" fill="#fbd0c2"/>
<rect x="115.97" y="610.12" width="5.84" height="5.69" fill="#fbd0c2"/>
<rect x="121.46" y="610.12" width="5.84" height="5.69" fill="#c8bcf6"/>
<rect x="126.95" y="610.12" width="5.84" height="5.69" fill="#c8bcf6"/>
<rect x="132.45" y="610.12" width="5.50" height="5.69" fill="#c8bcf6"/>
<rect x="22.55" y="615.46" width="5.84" height="5.69" fill="#ebe6f4"/>
<rect x="28.05" y="615.46" width="5.84" height="5.69" fill="#c8bcf6"/>
<rect x="33.54" y="615.46" width="5.84" height="5.69" fill="#c8bcf6"/>
<rect x="39.03" y="615.46" width="5.84" height="5.69" fill="#c8bcf6"/>
<rect x="44.53" y="615.46" width="5.84" height="5.69" fill="#ebe6f4"/>
<rect x="50.03" y="615.46" width="5.84" height="5.69" fill="#c8bcf6"/>
<rect x="55.52" y="615.46" width="5.84" height="5.69" fill="#ebe6f4"/>
<rect x="61.02" y="615.46" width="5.84" height="5.69" fill="#ff6a4c"/>
<rect x="66.51" y="615.46" width="5.84" height="5.69" fill="#ebe6f4"/>
<rect x="72.00" y="615.46" width="5.84" height="5.69" fill="#ebe6f4"/>
<rect x="77.50" y="615.46" width="5.84" height="5.69" fill="#ebe6f4"/>
<rect x="83.00" y="615.46" width="5.84" height="5.69" fill="#ffa68c"/>
<rect x="88.49" y="615.46" width="5.84" height="5.69" fill="#ff6a4c"/>
<rect x="93.98" y="615.46" width="5.84" height="5.69" fill="#c8bcf6"/>
<rect x="99.48" y="615.46" width="5.84" height="5.69" fill="#ebe6f4"/>
<rect x="104.97" y="615.46" width="5.84" height="5.69" fill="#ffa68c"/>
<rect x="110.47" y="615.46" width="5.84" height="5.69" fill="#ebe6f4"/>
<rect x="115.97" y="615.46" width="5.84" height="5.69" fill="#ff1a0c"/>
<rect x="121.46" y="615.46" width="5.84" height="5.69" fill="#ffa68c"/>
<rect x="126.95" y="615.46" width="5.84" height="5.69" fill="#ff6a4c"/>
<rect x="132.45" y="615.46" width="5.50" height="5.69" fill="#ff6a4c"/>
<rect x="22.55" y="620.80" width="5.84" height="5.69" fill="#a892f8"/>
<rect x="28.05" y="620.80" width="5.84" height="5.69" fill="#a892f8"/>
<rect x="33.54" y="620.80" width="5.84" height="5.69" fill="#fbd0c2"/>
<rect x="39.03" y="620.80" width="5.84" height="5.69" fill="#ffa68c"/>
<rect x="44.53" y="620.80" width="5.84" height="5.69" fill="#ebe6f4"/>
<rect x="50.03" y="620.80" width="5.84" height="5.69" fill="#a892f8"/>
<rect x="55.52" y="620.80" width="5.84" height="5.69" fill="#ebe6f4"/>
<rect x="61.02" y="620.80" width="5.84" height="5.69" fill="#ffa68c"/>
<rect x="66.51" y="620.80" width="5.84" height="5.69" fill="#c8bcf6"/>
<rect x="72.00" y="620.80" width="5.84" height="5.69" fill="#c8bcf6"/>
<rect x="77.50" y="620.80" width="5.84" height="5.69" fill="#ebe6f4"/>
<rect x="83.00" y="620.80" width="5.84" height="5.69" fill="#ebe6f4"/>
<rect x="88.49" y="620.80" width="5.84" height="5.69" fill="#ffa68c"/>
<rect x="93.98" y="620.80" width="5.84" height="5.69" fill="#ebe6f4"/>
<rect x="99.48" y="620.80" width="5.84" height="5.69" fill="#8c6ef8"/>
<rect x="104.97" y="620.80" width="5.84" height="5.69" fill="#fbd0c2"/>
<rect x="110.47" y="620.80" width="5.84" height="5.69" fill="#ebe6f4"/>
<rect x="115.97" y="620.80" width="5.84" height="5.69" fill="#ffa68c"/>
<rect x="121.46" y="620.80" width="5.84" height="5.69" fill="#ffa68c"/>
<rect x="126.95" y="620.80" width="5.84" height="5.69" fill="#ffa68c"/>
<rect x="132.45" y="620.80" width="5.50" height="5.69" fill="#ffa68c"/>
<rect x="22.55" y="626.14" width="5.84" height="5.69" fill="#a892f8"/>
<rect x="28.05" y="626.14" width="5.84" height="5.69" fill="#a892f8"/>
<rect x="33.54" y="626.14" width="5.84" height="5.69" fill="#a892f8"/>
<rect x="39.03" y="626.14" width="5.84" height="5.69" fill="#a892f8"/>
<rect x="44.53" y="626.14" width="5.84" height="5.69" fill="#ebe6f4"/>
<rect x="50.03" y="626.14" width="5.84" height="5.69" fill="#a892f8"/>
<rect x="55.52" y="626.14" width="5.84" height="5.69" fill="#fbd0c2"/>
<rect x="61.02" y="626.14" width="5.84" height="5.69" fill="#ebe6f4"/>
<rect x="66.51" y="626.14" width="5.84" height="5.69" fill="#c8bcf6"/>
<rect x="72.00" y="626.14" width="5.84" height="5.69" fill="#c8bcf6"/>
<rect x="77.50" y="626.14" width="5.84" height="5.69" fill="#ebe6f4"/>
<rect x="83.00" y="626.14" width="5.84" height="5.69" fill="#ebe6f4"/>
<rect x="88.49" y="626.14" width="5.84" height="5.69" fill="#ff1a0c"/>
<rect x="93.98" y="626.14" width="5.84" height="5.69" fill="#c8bcf6"/>
<rect x="99.48" y="626.14" width="5.84" height="5.69" fill="#fbd0c2"/>
<rect x="104.97" y="626.14" width="5.84" height="5.69" fill="#ffa68c"/>
<rect x="110.47" y="626.14" width="5.84" height="5.69" fill="#ffa68c"/>
<rect x="115.97" y="626.14" width="5.84" height="5.69" fill="#fbd0c2"/>
<rect x="121.46" y="626.14" width="5.84" height="5.69" fill="#ffa68c"/>
<rect x="126.95" y="626.14" width="5.84" height="5.69" fill="#ffa68c"/>
<rect x="132.45" y="626.14" width="5.50" height="5.69" fill="#ff1a0c"/>
<rect x="22.55" y="631.49" width="5.84" height="5.69" fill="#c8bcf6"/>
<rect x="28.05" y="631.49" width="5.84" height="5.69" fill="#a892f8"/>
<rect x="33.54" y="631.49" width="5.84" height="5.69" fill="#a892f8"/>
<rect x="39.03" y="631.49" width="5.84" height="5.69" fill="#a892f8"/>
<rect x="44.53" y="631.49" width="5.84" height="5.69" fill="#c8bcf6"/>
<rect x="50.03" y="631.49" width="5.84" height="5.69" fill="#c8bcf6"/>
<rect x="55.52" y="631.49" width="5.84" height="5.69" fill="#c8bcf6"/>
<rect x="61.02" y="631.49" width="5.84" height="5.69" fill="#ffa68c"/>
<rect x="66.51" y="631.49" width="5.84" height="5.69" fill="#fbd0c2"/>
<rect x="72.00" y="631.49" width="5.84" height="5.69" fill="#ebe6f4"/>
<rect x="77.50" y="631.49" width="5.84" height="5.69" fill="#fbd0c2"/>
<rect x="83.00" y="631.49" width="5.84" height="5.69" fill="#ebe6f4"/>
<rect x="88.49" y="631.49" width="5.84" height="5.69" fill="#ffa68c"/>
<rect x="93.98" y="631.49" width="5.84" height="5.69" fill="#c8bcf6"/>
<rect x="99.48" y="631.49" width="5.84" height="5.69" fill="#ebe6f4"/>
<rect x="104.97" y="631.49" width="5.84" height="5.69" fill="#fbd0c2"/>
<rect x="110.47" y="631.49" width="5.84" height="5.69" fill="#ebe6f4"/>
<rect x="115.97" y="631.49" width="5.84" height="5.69" fill="#ffa68c"/>
<rect x="121.46" y="631.49" width="5.84" height="5.69" fill="#fbd0c2"/>
<rect x="126.95" y="631.49" width="5.84" height="5.69" fill="#ffa68c"/>
<rect x="132.45" y="631.49" width="5.50" height="5.69" fill="#ffa68c"/>
<rect x="22.55" y="636.83" width="5.84" height="5.69" fill="#c8bcf6"/>
<rect x="28.05" y="636.83" width="5.84" height="5.69" fill="#c8bcf6"/>
<rect x="33.54" y="636.83" width="5.84" height="5.69" fill="#c8bcf6"/>
<rect x="39.03" y="636.83" width="5.84" height="5.69" fill="#c8bcf6"/>
<rect x="44.53" y="636.83" width="5.84" height="5.69" fill="#ebe6f4"/>
<rect x="50.03" y="636.83" width="5.84" height="5.69" fill="#c8bcf6"/>
<rect x="55.52" y="636.83" width="5.84" height="5.69" fill="#c8bcf6"/>
<rect x="61.02" y="636.83" width="5.84" height="5.69" fill="#ebe6f4"/>
<rect x="66.51" y="636.83" width="5.84" height="5.69" fill="#ebe6f4"/>
<rect x="72.00" y="636.83" width="5.84" height="5.69" fill="#ebe6f4"/>
<rect x="77.50" y="636.83" width="5.84" height="5.69" fill="#a892f8"/>
<rect x="83.00" y="636.83" width="5.84" height="5.69" fill="#c8bcf6"/>
<rect x="88.49" y="636.83" width="5.84" height="5.69" fill="#ffa68c"/>
<rect x="93.98" y="636.83" width="5.84" height="5.69" fill="#c8bcf6"/>
<rect x="99.48" y="636.83" width="5.84" height="5.69" fill="#c8bcf6"/>
<rect x="104.97" y="636.83" width="5.84" height="5.69" fill="#fbd0c2"/>
<rect x="110.47" y="636.83" width="5.84" height="5.69" fill="#c8bcf6"/>
<rect x="115.97" y="636.83" width="5.84" height="5.69" fill="#ffa68c"/>
<rect x="121.46" y="636.83" width="5.84" height="5.69" fill="#ebe6f4"/>
<rect x="126.95" y="636.83" width="5.84" height="5.69" fill="#fbd0c2"/>
<rect x="132.45" y="636.83" width="5.50" height="5.69" fill="#ffa68c"/>
<rect x="22.55" y="642.17" width="5.84" height="5.69" fill="#a892f8"/>
<rect x="28.05" y="642.17" width="5.84" height="5.69" fill="#6e4ef8"/>
<rect x="33.54" y="642.17" width="5.84" height="5.69" fill="#6e4ef8"/>
<rect x="39.03" y="642.17" width="5.84" height="5.69" fill="#c8bcf6"/>
<rect x="44.53" y="642.17" width="5.84" height="5.69" fill="#ebe6f4"/>
<rect x="50.03" y="642.17" width="5.84" height="5.69" fill="#c8bcf6"/>
<rect x="55.52" y="642.17" width="5.84" height="5.69" fill="#ebe6f4"/>
<rect x="61.02" y="642.17" width="5.84" height="5.69" fill="#fbd0c2"/>
<rect x="66.51" y="642.17" width="5.84" height="5.69" fill="#fbd0c2"/>
<rect x="72.00" y="642.17" width="5.84" height="5.69" fill="#fbd0c2"/>
<rect x="77.50" y="642.17" width="5.84" height="5.69" fill="#fbd0c2"/>
<rect x="83.00" y="642.17" width="5.84" height="5.69" fill="#ebe6f4"/>
<rect x="88.49" y="642.17" width="5.84" height="5.69" fill="#ff6a4c"/>
<rect x="93.98" y="642.17" width="5.84" height="5.69" fill="#c8bcf6"/>
<rect x="99.48" y="642.17" width="5.84" height="5.69" fill="#fbd0c2"/>
<rect x="104.97" y="642.17" width="5.84" height="5.69" fill="#fbd0c2"/>
<rect x="110.47" y="642.17" width="5.84" height="5.69" fill="#ffa68c"/>
<rect x="115.97" y="642.17" width="5.84" height="5.69" fill="#ffa68c"/>
<rect x="121.46" y="642.17" width="5.84" height="5.69" fill="#ffa68c"/>
<rect x="126.95" y="642.17" width="5.84" height="5.69" fill="#fbd0c2"/>
<rect x="132.45" y="642.17" width="5.50" height="5.69" fill="#fbd0c2"/>
<rect x="22.55" y="647.51" width="5.84" height="5.69" fill="#8c6ef8"/>
<rect x="28.05" y="647.51" width="5.84" height="5.69" fill="#8c6ef8"/>
<rect x="33.54" y="647.51" width="5.84" height="5.69" fill="#c8bcf6"/>
<rect x="39.03" y="647.51" width="5.84" height="5.69" fill="#a892f8"/>
<rect x="44.53" y="647.51" width="5.84" height="5.69" fill="#c8bcf6"/>
<rect x="50.03" y="647.51" width="5.84" height="5.69" fill="#c8bcf6"/>
<rect x="55.52" y="647.51" width="5.84" height="5.69" fill="#c8bcf6"/>
<rect x="61.02" y="647.51" width="5.84" height="5.69" fill="#ebe6f4"/>
<rect x="66.51" y="647.51" width="5.84" height="5.69" fill="#ebe6f4"/>
<rect x="72.00" y="647.51" width="5.84" height="5.69" fill="#ebe6f4"/>
<rect x="77.50" y="647.51" width="5.84" height="5.69" fill="#ebe6f4"/>
<rect x="83.00" y="647.51" width="5.84" height="5.69" fill="#ebe6f4"/>
<rect x="88.49" y="647.51" width="5.84" height="5.69" fill="#ffa68c"/>
<rect x="93.98" y="647.51" width="5.84" height="5.69" fill="#a892f8"/>
<rect x="99.48" y="647.51" width="5.84" height="5.69" fill="#fbd0c2"/>
<rect x="104.97" y="647.51" width="5.84" height="5.69" fill="#ffa68c"/>
<rect x="110.47" y="647.51" width="5.84" height="5.69" fill="#fbd0c2"/>
<rect x="115.97" y="647.51" width="5.84" height="5.69" fill="#ebe6f4"/>
<rect x="121.46" y="647.51" width="5.84" height="5.69" fill="#fbd0c2"/>
<rect x="126.95" y="647.51" width="5.84" height="5.69" fill="#fbd0c2"/>
<rect x="132.45" y="647.51" width="5.50" height="5.69" fill="#fbd0c2"/>
<rect x="22.55" y="652.85" width="5.84" height="5.69" fill="#c8bcf6"/>
<rect x="28.05" y="652.85" width="5.84" height="5.69" fill="#a892f8"/>
<rect x="33.54" y="652.85" width="5.84" height="5.69" fill="#a892f8"/>
<rect x="39.03" y="652.85" width="5.84" height="5.69" fill="#a892f8"/>
<rect x="44.53" y="652.85" width="5.84" height="5.69" fill="#c8bcf6"/>
<rect x="50.03" y="652.85" width="5.84" height="5.69" fill="#8c6ef8"/>
<rect x="55.52" y="652.85" width="5.84" height="5.69" fill="#c8bcf6"/>
<rect x="61.02" y="652.85" width="5.84" height="5.69" fill="#ffa68c"/>
<rect x="66.51" y="652.85" width="5.84" height="5.69" fill="#8c6ef8"/>
<rect x="72.00" y="652.85" width="5.84" height="5.69" fill="#fbd0c2"/>
<rect x="77.50" y="652.85" width="5.84" height="5.69" fill="#c8bcf6"/>
<rect x="83.00" y="652.85" width="5.84" height="5.69" fill="#c8bcf6"/>
<rect x="88.49" y="652.85" width="5.84" height="5.69" fill="#ffa68c"/>
<rect x="93.98" y="652.85" width="5.84" height="5.69" fill="#c8bcf6"/>
<rect x="99.48" y="652.85" width="5.84" height="5.69" fill="#ebe6f4"/>
<rect x="104.97" y="652.85" width="5.84" height="5.69" fill="#fbd0c2"/>
<rect x="110.47" y="652.85" width="5.84" height="5.69" fill="#fbd0c2"/>
<rect x="115.97" y="652.85" width="5.84" height="5.69" fill="#fbd0c2"/>
<rect x="121.46" y="652.85" width="5.84" height="5.69" fill="#fbd0c2"/>
<rect x="126.95" y="652.85" width="5.84" height="5.69" fill="#fbd0c2"/>
<rect x="132.45" y="652.85" width="5.50" height="5.69" fill="#fbd0c2"/>
<rect x="22.55" y="658.20" width="5.84" height="5.69" fill="#8c6ef8"/>
<rect x="28.05" y="658.20" width="5.84" height="5.69" fill="#8c6ef8"/>
<rect x="33.54" y="658.20" width="5.84" height="5.69" fill="#a892f8"/>
<rect x="39.03" y="658.20" width="5.84" height="5.69" fill="#c8bcf6"/>
<rect x="44.53" y="658.20" width="5.84" height="5.69" fill="#ebe6f4"/>
<rect x="50.03" y="658.20" width="5.84" height="5.69" fill="#c8bcf6"/>
<rect x="55.52" y="658.20" width="5.84" height="5.69" fill="#c8bcf6"/>
<rect x="61.02" y="658.20" width="5.84" height="5.69" fill="#fbd0c2"/>
<rect x="66.51" y="658.20" width="5.84" height="5.69" fill="#c8bcf6"/>
<rect x="72.00" y="658.20" width="5.84" height="5.69" fill="#ffa68c"/>
<rect x="77.50" y="658.20" width="5.84" height="5.69" fill="#c8bcf6"/>
<rect x="83.00" y="658.20" width="5.84" height="5.69" fill="#c8bcf6"/>
<rect x="88.49" y="658.20" width="5.84" height="5.69" fill="#ff1a0c"/>
<rect x="93.98" y="658.20" width="5.84" height="5.69" fill="#c8bcf6"/>
<rect x="99.48" y="658.20" width="5.84" height="5.69" fill="#ebe6f4"/>
<rect x="104.97" y="658.20" width="5.84" height="5.69" fill="#fbd0c2"/>
<rect x="110.47" y="658.20" width="5.84" height="5.69" fill="#fbd0c2"/>
<rect x="115.97" y="658.20" width="5.84" height="5.69" fill="#fbd0c2"/>
<rect x="121.46" y="658.20" width="5.84" height="5.69" fill="#fbd0c2"/>
<rect x="126.95" y="658.20" width="5.84" height="5.69" fill="#ebe6f4"/>
<rect x="132.45" y="658.20" width="5.50" height="5.69" fill="#fbd0c2"/>
<rect x="22.55" y="663.54" width="5.84" height="5.69" fill="#ff6a4c"/>
<rect x="28.05" y="663.54" width="5.84" height="5.69" fill="#c8bcf6"/>
<rect x="33.54" y="663.54" width="5.84" height="5.69" fill="#c8bcf6"/>
<rect x="39.03" y="663.54" width="5.84" height="5.69" fill="#c8bcf6"/>
<rect x="44.53" y="663.54" width="5.84" height="5.69" fill="#c8bcf6"/>
<rect x="50.03" y="663.54" width="5.84" height="5.69" fill="#c8bcf6"/>
<rect x="55.52" y="663.54" width="5.84" height="5.69" fill="#c8bcf6"/>
<rect x="61.02" y="663.54" width="5.84" height="5.69" fill="#ebe6f4"/>
<rect x="66.51" y="663.54" width="5.84" height="5.69" fill="#ebe6f4"/>
<rect x="72.00" y="663.54" width="5.84" height="5.69" fill="#c8bcf6"/>
<rect x="77.50" y="663.54" width="5.84" height="5.69" fill="#ebe6f4"/>
<rect x="83.00" y="663.54" width="5.84" height="5.69" fill="#c8bcf6"/>
<rect x="88.49" y="663.54" width="5.84" height="5.69" fill="#ffa68c"/>
<rect x="93.98" y="663.54" width="5.84" height="5.69" fill="#c8bcf6"/>
<rect x="99.48" y="663.54" width="5.84" height="5.69" fill="#fbd0c2"/>
<rect x="104.97" y="663.54" width="5.84" height="5.69" fill="#ebe6f4"/>
<rect x="110.47" y="663.54" width="5.84" height="5.69" fill="#fbd0c2"/>
<rect x="115.97" y="663.54" width="5.84" height="5.69" fill="#ffa68c"/>
<rect x="121.46" y="663.54" width="5.84" height="5.69" fill="#c8bcf6"/>
<rect x="126.95" y="663.54" width="5.84" height="5.69" fill="#c8bcf6"/>
<rect x="132.45" y="663.54" width="5.50" height="5.69" fill="#ebe6f4"/>
<rect x="22.55" y="668.88" width="5.84" height="5.69" fill="#a892f8"/>
<rect x="28.05" y="668.88" width="5.84" height="5.69" fill="#a892f8"/>
<rect x="33.54" y="668.88" width="5.84" height="5.69" fill="#a892f8"/>
<rect x="39.03" y="668.88" width="5.84" height="5.69" fill="#ebe6f4"/>
<rect x="44.53" y="668.88" width="5.84" height="5.69" fill="#8c6ef8"/>
<rect x="50.03" y="668.88" width="5.84" height="5.69" fill="#a892f8"/>
<rect x="55.52" y="668.88" width="5.84" height="5.69" fill="#a892f8"/>
<rect x="61.02" y="668.88" width="5.84" height="5.69" fill="#ebe6f4"/>
<rect x="66.51" y="668.88" width="5.84" height="5.69" fill="#ffa68c"/>
<rect x="72.00" y="668.88" width="5.84" height="5.69" fill="#a892f8"/>
<rect x="77.50" y="668.88" width="5.84" height="5.69" fill="#fbd0c2"/>
<rect x="83.00" y="668.88" width="5.84" height="5.69" fill="#fbd0c2"/>
<rect x="88.49" y="668.88" width="5.84" height="5.69" fill="#ebe6f4"/>
<rect x="93.98" y="668.88" width="5.84" height="5.69" fill="#ffa68c"/>
<rect x="99.48" y="668.88" width="5.84" height="5.69" fill="#a892f8"/>
<rect x="104.97" y="668.88" width="5.84" height="5.69" fill="#fbd0c2"/>
<rect x="110.47" y="668.88" width="5.84" height="5.69" fill="#fbd0c2"/>
<rect x="115.97" y="668.88" width="5.84" height="5.69" fill="#fbd0c2"/>
<rect x="121.46" y="668.88" width="5.84" height="5.69" fill="#c8bcf6"/>
<rect x="126.95" y="668.88" width="5.84" height="5.69" fill="#ebe6f4"/>
<rect x="132.45" y="668.88" width="5.50" height="5.69" fill="#ebe6f4"/>
<rect x="22.55" y="674.22" width="5.84" height="5.69" fill="#8c6ef8"/>
<rect x="28.05" y="674.22" width="5.84" height="5.69" fill="#c8bcf6"/>
<rect x="33.54" y="674.22" width="5.84" height="5.69" fill="#8c6ef8"/>
<rect x="39.03" y="674.22" width="5.84" height="5.69" fill="#ebe6f4"/>
<rect x="44.53" y="674.22" width="5.84" height="5.69" fill="#c8bcf6"/>
<rect x="50.03" y="674.22" width="5.84" height="5.69" fill="#8c6ef8"/>
<rect x="55.52" y="674.22" width="5.84" height="5.69" fill="#c8bcf6"/>
<rect x="61.02" y="674.22" width="5.84" height="5.69" fill="#fbd0c2"/>
<rect x="66.51" y="674.22" width="5.84" height="5.69" fill="#ebe6f4"/>
<rect x="72.00" y="674.22" width="5.84" height="5.69" fill="#ebe6f4"/>
<rect x="77.50" y="674.22" width="5.84" height="5.69" fill="#ebe6f4"/>
<rect x="83.00" y="674.22" width="5.84" height="5.69" fill="#ebe6f4"/>
<rect x="88.49" y="674.22" width="5.84" height="5.69" fill="#ebe6f4"/>
<rect x="93.98" y="674.22" width="5.84" height="5.69" fill="#c8bcf6"/>
<rect x="99.48" y="674.22" width="5.84" height="5.69" fill="#c8bcf6"/>
<rect x="104.97" y="674.22" width="5.84" height="5.69" fill="#c8bcf6"/>
<rect x="110.47" y="674.22" width="5.84" height="5.69" fill="#a892f8"/>
<rect x="115.97" y="674.22" width="5.84" height="5.69" fill="#ffa68c"/>
<rect x="121.46" y="674.22" width="5.84" height="5.69" fill="#c8bcf6"/>
<rect x="126.95" y="674.22" width="5.84" height="5.69" fill="#fbd0c2"/>
<rect x="132.45" y="674.22" width="5.50" height="5.69" fill="#fbd0c2"/>
<rect x="22.55" y="679.56" width="5.84" height="5.69" fill="#c8bcf6"/>
<rect x="28.05" y="679.56" width="5.84" height="5.69" fill="#c8bcf6"/>
<rect x="33.54" y="679.56" width="5.84" height="5.69" fill="#c8bcf6"/>
<rect x="39.03" y="679.56" width="5.84" height="5.69" fill="#c8bcf6"/>
<rect x="44.53" y="679.56" width="5.84" height="5.69" fill="#c8bcf6"/>
<rect x="50.03" y="679.56" width="5.84" height="5.69" fill="#c8bcf6"/>
<rect x="55.52" y="679.56" width="5.84" height="5.69" fill="#c8bcf6"/>
<rect x="61.02" y="679.56" width="5.84" height="5.69" fill="#fbd0c2"/>
<rect x="66.51" y="679.56" width="5.84" height="5.69" fill="#a892f8"/>
<rect x="72.00" y="679.56" width="5.84" height="5.69" fill="#ebe6f4"/>
<rect x="77.50" y="679.56" width="5.84" height="5.69" fill="#ebe6f4"/>
<rect x="83.00" y="679.56" width="5.84" height="5.69" fill="#a892f8"/>
<rect x="88.49" y="679.56" width="5.84" height="5.69" fill="#fbd0c2"/>
<rect x="93.98" y="679.56" width="5.84" height="5.69" fill="#c8bcf6"/>
<rect x="99.48" y="679.56" width="5.84" height="5.69" fill="#c8bcf6"/>
<rect x="104.97" y="679.56" width="5.84" height="5.69" fill="#ebe6f4"/>
<rect x="110.47" y="679.56" width="5.84" height="5.69" fill="#c8bcf6"/>
<rect x="115.97" y="679.56" width="5.84" height="5.69" fill="#ffa68c"/>
<rect x="121.46" y="679.56" width="5.84" height="5.69" fill="#c8bcf6"/>
<rect x="126.95" y="679.56" width="5.84" height="5.69" fill="#ebe6f4"/>
<rect x="132.45" y="679.56" width="5.50" height="5.69" fill="#fbd0c2"/>
<rect x="22.55" y="684.91" width="5.84" height="5.69" fill="#a892f8"/>
<rect x="28.05" y="684.91" width="5.84" height="5.69" fill="#a892f8"/>
<rect x="33.54" y="684.91" width="5.84" height="5.69" fill="#a892f8"/>
<rect x="39.03" y="684.91" width="5.84" height="5.69" fill="#a892f8"/>
<rect x="44.53" y="684.91" width="5.84" height="5.69" fill="#a892f8"/>
<rect x="50.03" y="684.91" width="5.84" height="5.69" fill="#a892f8"/>
<rect x="55.52" y="684.91" width="5.84" height="5.69" fill="#a892f8"/>
<rect x="61.02" y="684.91" width="5.84" height="5.69" fill="#ebe6f4"/>
<rect x="66.51" y="684.91" width="5.84" height="5.69" fill="#ebe6f4"/>
<rect x="72.00" y="684.91" width="5.84" height="5.69" fill="#c8bcf6"/>
<rect x="77.50" y="684.91" width="5.84" height="5.69" fill="#ebe6f4"/>
<rect x="83.00" y="684.91" width="5.84" height="5.69" fill="#c8bcf6"/>
<rect x="88.49" y="684.91" width="5.84" height="5.69" fill="#ebe6f4"/>
<rect x="93.98" y="684.91" width="5.84" height="5.69" fill="#a892f8"/>
<rect x="99.48" y="684.91" width="5.84" height="5.69" fill="#c8bcf6"/>
<rect x="104.97" y="684.91" width="5.84" height="5.69" fill="#fbd0c2"/>
<rect x="110.47" y="684.91" width="5.84" height="5.69" fill="#fbd0c2"/>
<rect x="115.97" y="684.91" width="5.84" height="5.69" fill="#fbd0c2"/>
<rect x="121.46" y="684.91" width="5.84" height="5.69" fill="#ebe6f4"/>
<rect x="126.95" y="684.91" width="5.84" height="5.69" fill="#fbd0c2"/>
<rect x="132.45" y="684.91" width="5.50" height="5.69" fill="#fbd0c2"/>
<rect x="22.55" y="690.25" width="5.84" height="5.69" fill="#a892f8"/>
<rect x="28.05" y="690.25" width="5.84" height="5.69" fill="#a892f8"/>
<rect x="33.54" y="690.25" width="5.84" height="5.69" fill="#a892f8"/>
<rect x="39.03" y="690.25" width="5.84" height="5.69" fill="#c8bcf6"/>
<rect x="44.53" y="690.25" width="5.84" height="5.69" fill="#c8bcf6"/>
<rect x="50.03" y="690.25" width="5.84" height="5.69" fill="#8c6ef8"/>
<rect x="55.52" y="690.25" width="5.84" height="5.69" fill="#c8bcf6"/>
<rect x="61.02" y="690.25" width="5.84" height="5.69" fill="#fbd0c2"/>
<rect x="66.51" y="690.25" width="5.84" height="5.69" fill="#ebe6f4"/>
<rect x="72.00" y="690.25" width="5.84" height="5.69" fill="#c8bcf6"/>
<rect x="77.50" y="690.25" width="5.84" height="5.69" fill="#fbd0c2"/>
<rect x="83.00" y="690.25" width="5.84" height="5.69" fill="#ebe6f4"/>
<rect x="88.49" y="690.25" width="5.84" height="5.69" fill="#ebe6f4"/>
<rect x="93.98" y="690.25" width="5.84" height="5.69" fill="#a892f8"/>
<rect x="99.48" y="690.25" width="5.84" height="5.69" fill="#c8bcf6"/>
<rect x="104.97" y="690.25" width="5.84" height="5.69" fill="#c8bcf6"/>
<rect x="110.47" y="690.25" width="5.84" height="5.69" fill="#ebe6f4"/>
<rect x="115.97" y="690.25" width="5.84" height="5.69" fill="#fbd0c2"/>
<rect x="121.46" y="690.25" width="5.84" height="5.69" fill="#ebe6f4"/>
<rect x="126.95" y="690.25" width="5.84" height="5.69" fill="#fbd0c2"/>
<rect x="132.45" y="690.25" width="5.50" height="5.69" fill="#fbd0c2"/>
<rect x="22.55" y="695.59" width="5.84" height="5.69" fill="#a892f8"/>
<rect x="28.05" y="695.59" width="5.84" height="5.69" fill="#8c6ef8"/>
<rect x="33.54" y="695.59" width="5.84" height="5.69" fill="#6e4ef8"/>
<rect x="39.03" y="695.59" width="5.84" height="5.69" fill="#8c6ef8"/>
<rect x="44.53" y="695.59" width="5.84" height="5.69" fill="#c8bcf6"/>
<rect x="50.03" y="695.59" width="5.84" height="5.69" fill="#a892f8"/>
<rect x="55.52" y="695.59" width="5.84" height="5.69" fill="#c8bcf6"/>
<rect x="61.02" y="695.59" width="5.84" height="5.69" fill="#fbd0c2"/>
<rect x="66.51" y="695.59" width="5.84" height="5.69" fill="#fbd0c2"/>
<rect x="72.00" y="695.59" width="5.84" height="5.69" fill="#c8bcf6"/>
<rect x="77.50" y="695.59" width="5.84" height="5.69" fill="#fbd0c2"/>
<rect x="83.00" y="695.59" width="5.84" height="5.69" fill="#ebe6f4"/>
<rect x="88.49" y="695.59" width="5.84" height="5.69" fill="#fbd0c2"/>
<rect x="93.98" y="695.59" width="5.84" height="5.69" fill="#c8bcf6"/>
<rect x="99.48" y="695.59" width="5.84" height="5.69" fill="#c8bcf6"/>
<rect x="104.97" y="695.59" width="5.84" height="5.69" fill="#fbd0c2"/>
<rect x="110.47" y="695.59" width="5.84" height="5.69" fill="#ebe6f4"/>
<rect x="115.97" y="695.59" width="5.84" height="5.69" fill="#ffa68c"/>
<rect x="121.46" y="695.59" width="5.84" height="5.69" fill="#fbd0c2"/>
<rect x="126.95" y="695.59" width="5.84" height="5.69" fill="#fbd0c2"/>
<rect x="132.45" y="695.59" width="5.50" height="5.69" fill="#ffa68c"/>
<rect x="22.55" y="700.93" width="5.84" height="5.69" fill="#c8bcf6"/>
<rect x="28.05" y="700.93" width="5.84" height="5.69" fill="#8c6ef8"/>
<rect x="33.54" y="700.93" width="5.84" height="5.69" fill="#8c6ef8"/>
<rect x="39.03" y="700.93" width="5.84" height="5.69" fill="#a892f8"/>
<rect x="44.53" y="700.93" width="5.84" height="5.69" fill="#a892f8"/>
<rect x="50.03" y="700.93" width="5.84" height="5.69" fill="#6e4ef8"/>
<rect x="55.52" y="700.93" width="5.84" height="5.69" fill="#a892f8"/>
<rect x="61.02" y="700.93" width="5.84" height="5.69" fill="#ebe6f4"/>
<rect x="66.51" y="700.93" width="5.84" height="5.69" fill="#c8bcf6"/>
<rect x="72.00" y="700.93" width="5.84" height="5.69" fill="#ebe6f4"/>
<rect x="77.50" y="700.93" width="5.84" height="5.69" fill="#ebe6f4"/>
<rect x="83.00" y="700.93" width="5.84" height="5.69" fill="#fbd0c2"/>
<rect x="88.49" y="700.93" width="5.84" height="5.69" fill="#fbd0c2"/>
<rect x="93.98" y="700.93" width="5.84" height="5.69" fill="#a892f8"/>
<rect x="99.48" y="700.93" width="5.84" height="5.69" fill="#ebe6f4"/>
<rect x="104.97" y="700.93" width="5.84" height="5.69" fill="#ebe6f4"/>
<rect x="110.47" y="700.93" width="5.84" height="5.69" fill="#ebe6f4"/>
<rect x="115.97" y="700.93" width="5.84" height="5.69" fill="#fbd0c2"/>
<rect x="121.46" y="700.93" width="5.84" height="5.69" fill="#ebe6f4"/>
<rect x="126.95" y="700.93" width="5.84" height="5.69" fill="#fbd0c2"/>
<rect x="132.45" y="700.93" width="5.50" height="5.69" fill="#fbd0c2"/>
<rect x="22.55" y="706.27" width="5.84" height="5.69" fill="#c8bcf6"/>
<rect x="28.05" y="706.27" width="5.84" height="5.69" fill="#c8bcf6"/>
<rect x="33.54" y="706.27" width="5.84" height="5.69" fill="#fbd0c2"/>
<rect x="39.03" y="706.27" width="5.84" height="5.69" fill="#c8bcf6"/>
<rect x="44.53" y="706.27" width="5.84" height="5.69" fill="#c8bcf6"/>
<rect x="50.03" y="706.27" width="5.84" height="5.69" fill="#c8bcf6"/>
<rect x="55.52" y="706.27" width="5.84" height="5.69" fill="#ffa68c"/>
<rect x="61.02" y="706.27" width="5.84" height="5.69" fill="#c8bcf6"/>
<rect x="66.51" y="706.27" width="5.84" height="5.69" fill="#c8bcf6"/>
<rect x="72.00" y="706.27" width="5.84" height="5.69" fill="#c8bcf6"/>
<rect x="77.50" y="706.27" width="5.84" height="5.69" fill="#ebe6f4"/>
<rect x="83.00" y="706.27" width="5.84" height="5.69" fill="#c8bcf6"/>
<rect x="88.49" y="706.27" width="5.84" height="5.69" fill="#ff1a0c"/>
<rect x="93.98" y="706.27" width="5.84" height="5.69" fill="#c8bcf6"/>
<rect x="99.48" y="706.27" width="5.84" height="5.69" fill="#ff1a0c"/>
<rect x="104.97" y="706.27" width="5.84" height="5.69" fill="#c8bcf6"/>
<rect x="110.47" y="706.27" width="5.84" height="5.69" fill="#c8bcf6"/>
<rect x="115.97" y="706.27" width="5.84" height="5.69" fill="#c8bcf6"/>
<rect x="121.46" y="706.27" width="5.84" height="5.69" fill="#fbd0c2"/>
<rect x="126.95" y="706.27" width="5.84" height="5.69" fill="#c8bcf6"/>
<rect x="132.45" y="706.27" width="5.50" height="5.69" fill="#ffa68c"/>
<rect x="22.55" y="711.62" width="5.84" height="5.69" fill="#a892f8"/>
<rect x="28.05" y="711.62" width="5.84" height="5.69" fill="#a892f8"/>
<rect x="33.54" y="711.62" width="5.84" height="5.69" fill="#a892f8"/>
<rect x="39.03" y="711.62" width="5.84" height="5.69" fill="#c8bcf6"/>
<rect x="44.53" y="711.62" width="5.84" height="5.69" fill="#ebe6f4"/>
<rect x="50.03" y="711.62" width="5.84" height="5.69" fill="#a892f8"/>
<rect x="55.52" y="711.62" width="5.84" height="5.69" fill="#c8bcf6"/>
<rect x="61.02" y="711.62" width="5.84" height="5.69" fill="#c8bcf6"/>
<rect x="66.51" y="711.62" width="5.84" height="5.69" fill="#ebe6f4"/>
<rect x="72.00" y="711.62" width="5.84" height="5.69" fill="#c8bcf6"/>
<rect x="77.50" y="711.62" width="5.84" height="5.69" fill="#a892f8"/>
<rect x="83.00" y="711.62" width="5.84" height="5.69" fill="#a892f8"/>
<rect x="88.49" y="711.62" width="5.84" height="5.69" fill="#ff1a0c"/>
<rect x="93.98" y="711.62" width="5.84" height="5.69" fill="#ff1a0c"/>
<rect x="99.48" y="711.62" width="5.84" height="5.69" fill="#ebe6f4"/>
<rect x="104.97" y="711.62" width="5.84" height="5.69" fill="#c8bcf6"/>
<rect x="110.47" y="711.62" width="5.84" height="5.69" fill="#fbd0c2"/>
<rect x="115.97" y="711.62" width="5.84" height="5.69" fill="#fbd0c2"/>
<rect x="121.46" y="711.62" width="5.84" height="5.69" fill="#c8bcf6"/>
<rect x="126.95" y="711.62" width="5.84" height="5.69" fill="#ebe6f4"/>
<rect x="132.45" y="711.62" width="5.50" height="5.69" fill="#fbd0c2"/>
<rect x="22.55" y="716.96" width="5.84" height="5.69" fill="#a892f8"/>
<rect x="28.05" y="716.96" width="5.84" height="5.69" fill="#c8bcf6"/>
<rect x="33.54" y="716.96" width="5.84" height="5.69" fill="#a892f8"/>
<rect x="39.03" y="716.96" width="5.84" height="5.69" fill="#ebe6f4"/>
<rect x="44.53" y="716.96" width="5.84" height="5.69" fill="#c8bcf6"/>
<rect x="50.03" y="716.96" width="5.84" height="5.69" fill="#c8bcf6"/>
<rect x="55.52" y="716.96" width="5.84" height="5.69" fill="#a892f8"/>
<rect x="61.02" y="716.96" width="5.84" height="5.69" fill="#a892f8"/>
<rect x="66.51" y="716.96" width="5.84" height="5.69" fill="#ebe6f4"/>
<rect x="72.00" y="716.96" width="5.84" height="5.69" fill="#a892f8"/>
<rect x="77.50" y="716.96" width="5.84" height="5.69" fill="#a892f8"/>
<rect x="83.00" y="716.96" width="5.84" height="5.69" fill="#a892f8"/>
<rect x="88.49" y="716.96" width="5.84" height="5.69" fill="#ff1a0c"/>
<rect x="93.98" y="716.96" width="5.84" height="5.69" fill="#ff1a0c"/>
<rect x="99.48" y="716.96" width="5.84" height="5.69" fill="#ffa68c"/>
<rect x="104.97" y="716.96" width="5.84" height="5.69" fill="#a892f8"/>
<rect x="110.47" y="716.96" width="5.84" height="5.69" fill="#ebe6f4"/>
<rect x="115.97" y="716.96" width="5.84" height="5.69" fill="#fbd0c2"/>
<rect x="121.46" y="716.96" width="5.84" height="5.69" fill="#c8bcf6"/>
<rect x="126.95" y="716.96" width="5.84" height="5.69" fill="#ebe6f4"/>
<rect x="132.45" y="716.96" width="5.50" height="5.69" fill="#c8bcf6"/>
<rect x="22.55" y="722.30" width="5.84" height="5.69" fill="#a892f8"/>
<rect x="28.05" y="722.30" width="5.84" height="5.69" fill="#6e4ef8"/>
<rect x="33.54" y="722.30" width="5.84" height="5.69" fill="#a892f8"/>
<rect x="39.03" y="722.30" width="5.84" height="5.69" fill="#fbd0c2"/>
<rect x="44.53" y="722.30" width="5.84" height="5.69" fill="#ebe6f4"/>
<rect x="50.03" y="722.30" width="5.84" height="5.69" fill="#c8bcf6"/>
<rect x="55.52" y="722.30" width="5.84" height="5.69" fill="#c8bcf6"/>
<rect x="61.02" y="722.30" width="5.84" height="5.69" fill="#c8bcf6"/>
<rect x="66.51" y="722.30" width="5.84" height="5.69" fill="#ebe6f4"/>
<rect x="72.00" y="722.30" width="5.84" height="5.69" fill="#ebe6f4"/>
<rect x="77.50" y="722.30" width="5.84" height="5.69" fill="#ebe6f4"/>
<rect x="83.00" y="722.30" width="5.84" height="5.69" fill="#ebe6f4"/>
<rect x="88.49" y="722.30" width="5.84" height="5.69" fill="#ff6a4c"/>
<rect x="93.98" y="722.30" width="5.84" height="5.69" fill="#ebe6f4"/>
<rect x="99.48" y="722.30" width="5.84" height="5.69" fill="#fbd0c2"/>
<rect x="104.97" y="722.30" width="5.84" height="5.69" fill="#ffa68c"/>
<rect x="110.47" y="722.30" width="5.84" height="5.69" fill="#fbd0c2"/>
<rect x="115.97" y="722.30" width="5.84" height="5.69" fill="#fbd0c2"/>
<rect x="121.46" y="722.30" width="5.84" height="5.69" fill="#ebe6f4"/>
<rect x="126.95" y="722.30" width="5.84" height="5.69" fill="#fbd0c2"/>
<rect x="132.45" y="722.30" width="5.50" height="5.69" fill="#ebe6f4"/>
<rect x="22.55" y="727.64" width="5.84" height="5.69" fill="#8c6ef8"/>
<rect x="28.05" y="727.64" width="5.84" height="5.69" fill="#8c6ef8"/>
<rect x="33.54" y="727.64" width="5.84" height="5.69" fill="#a892f8"/>
<rect x="39.03" y="727.64" width="5.84" height="5.69" fill="#ebe6f4"/>
<rect x="44.53" y="727.64" width="5.84" height="5.69" fill="#c8bcf6"/>
<rect x="50.03" y="727.64" width="5.84" height="5.69" fill="#c8bcf6"/>
<rect x="55.52" y="727.64" width="5.84" height="5.69" fill="#a892f8"/>
<rect x="61.02" y="727.64" width="5.84" height="5.69" fill="#8c6ef8"/>
<rect x="66.51" y="727.64" width="5.84" height="5.69" fill="#ebe6f4"/>
<rect x="72.00" y="727.64" width="5.84" height="5.69" fill="#ebe6f4"/>
<rect x="77.50" y="727.64" width="5.84" height="5.69" fill="#a892f8"/>
<rect x="83.00" y="727.64" width="5.84" height="5.69" fill="#ebe6f4"/>
<rect x="88.49" y="727.64" width="5.84" height="5.69" fill="#ff6a4c"/>
<rect x="93.98" y="727.64" width="5.84" height="5.69" fill="#ffa68c"/>
<rect x="99.48" y="727.64" width="5.84" height="5.69" fill="#fbd0c2"/>
<rect x="104.97" y="727.64" width="5.84" height="5.69" fill="#ebe6f4"/>
<rect x="110.47" y="727.64" width="5.84" height="5.69" fill="#fbd0c2"/>
<rect x="115.97" y="727.64" width="5.84" height="5.69" fill="#fbd0c2"/>
<rect x="121.46" y="727.64" width="5.84" height="5.69" fill="#fbd0c2"/>
<rect x="126.95" y="727.64" width="5.84" height="5.69" fill="#ebe6f4"/>
<rect x="132.45" y="727.64" width="5.50" height="5.69" fill="#ebe6f4"/>
<rect x="22.55" y="732.98" width="5.84" height="5.69" fill="#8c6ef8"/>
<rect x="28.05" y="732.98" width="5.84" height="5.69" fill="#c8bcf6"/>
<rect x="33.54" y="732.98" width="5.84" height="5.69" fill="#c8bcf6"/>
<rect x="39.03" y="732.98" width="5.84" height="5.69" fill="#ebe6f4"/>
<rect x="44.53" y="732.98" width="5.84" height="5.69" fill="#ebe6f4"/>
<rect x="50.03" y="732.98" width="5.84" height="5.69" fill="#c8bcf6"/>
<rect x="55.52" y="732.98" width="5.84" height="5.69" fill="#c8bcf6"/>
<rect x="61.02" y="732.98" width="5.84" height="5.69" fill="#8c6ef8"/>
<rect x="66.51" y="732.98" width="5.84" height="5.69" fill="#c8bcf6"/>
<rect x="72.00" y="732.98" width="5.84" height="5.69" fill="#c8bcf6"/>
<rect x="77.50" y="732.98" width="5.84" height="5.69" fill="#ebe6f4"/>
<rect x="83.00" y="732.98" width="5.84" height="5.69" fill="#ebe6f4"/>
<rect x="88.49" y="732.98" width="5.84" height="5.69" fill="#ff1a0c"/>
<rect x="93.98" y="732.98" width="5.84" height="5.69" fill="#ebe6f4"/>
<rect x="99.48" y="732.98" width="5.84" height="5.69" fill="#fbd0c2"/>
<rect x="104.97" y="732.98" width="5.84" height="5.69" fill="#ebe6f4"/>
<rect x="110.47" y="732.98" width="5.84" height="5.69" fill="#fbd0c2"/>
<rect x="115.97" y="732.98" width="5.84" height="5.69" fill="#fbd0c2"/>
<rect x="121.46" y="732.98" width="5.84" height="5.69" fill="#ebe6f4"/>
<rect x="126.95" y="732.98" width="5.84" height="5.69" fill="#fbd0c2"/>
<rect x="132.45" y="732.98" width="5.50" height="5.69" fill="#ebe6f4"/>
<rect x="22.55" y="738.33" width="5.84" height="5.69" fill="#a892f8"/>
<rect x="28.05" y="738.33" width="5.84" height="5.69" fill="#a892f8"/>
<rect x="33.54" y="738.33" width="5.84" height="5.69" fill="#8c6ef8"/>
<rect x="39.03" y="738.33" width="5.84" height="5.69" fill="#ebe6f4"/>
<rect x="44.53" y="738.33" width="5.84" height="5.69" fill="#ebe6f4"/>
<rect x="50.03" y="738.33" width="5.84" height="5.69" fill="#c8bcf6"/>
<rect x="55.52" y="738.33" width="5.84" height="5.69" fill="#c8bcf6"/>
<rect x="61.02" y="738.33" width="5.84" height="5.69" fill="#a892f8"/>
<rect x="66.51" y="738.33" width="5.84" height="5.69" fill="#ebe6f4"/>
<rect x="72.00" y="738.33" width="5.84" height="5.69" fill="#c8bcf6"/>
<rect x="77.50" y="738.33" width="5.84" height="5.69" fill="#c8bcf6"/>
<rect x="83.00" y="738.33" width="5.84" height="5.69" fill="#c8bcf6"/>
<rect x="88.49" y="738.33" width="5.84" height="5.69" fill="#ff1a0c"/>
<rect x="93.98" y="738.33" width="5.84" height="5.69" fill="#ebe6f4"/>
<rect x="99.48" y="738.33" width="5.84" height="5.69" fill="#fbd0c2"/>
<rect x="104.97" y="738.33" width="5.84" height="5.69" fill="#ffa68c"/>
<rect x="110.47" y="738.33" width="5.84" height="5.69" fill="#fbd0c2"/>
<rect x="115.97" y="738.33" width="5.84" height="5.69" fill="#fbd0c2"/>
<rect x="121.46" y="738.33" width="5.84" height="5.69" fill="#ebe6f4"/>
<rect x="126.95" y="738.33" width="5.84" height="5.69" fill="#fbd0c2"/>
<rect x="132.45" y="738.33" width="5.50" height="5.69" fill="#fbd0c2"/>
<rect x="22.55" y="743.67" width="5.84" height="5.69" fill="#6e4ef8"/>
<rect x="28.05" y="743.67" width="5.84" height="5.69" fill="#2a1cf8"/>
<rect x="33.54" y="743.67" width="5.84" height="5.69" fill="#6e4ef8"/>
<rect x="39.03" y="743.67" width="5.84" height="5.69" fill="#c8bcf6"/>
<rect x="44.53" y="743.67" width="5.84" height="5.69" fill="#c8bcf6"/>
<rect x="50.03" y="743.67" width="5.84" height="5.69" fill="#8c6ef8"/>
<rect x="55.52" y="743.67" width="5.84" height="5.69" fill="#c8bcf6"/>
<rect x="61.02" y="743.67" width="5.84" height="5.69" fill="#ebe6f4"/>
<rect x="66.51" y="743.67" width="5.84" height="5.69" fill="#ebe6f4"/>
<rect x="72.00" y="743.67" width="5.84" height="5.69" fill="#fbd0c2"/>
<rect x="77.50" y="743.67" width="5.84" height="5.69" fill="#ebe6f4"/>
<rect x="83.00" y="743.67" width="5.84" height="5.69" fill="#c8bcf6"/>
<rect x="88.49" y="743.67" width="5.84" height="5.69" fill="#ff1a0c"/>
<rect x="93.98" y="743.67" width="5.84" height="5.69" fill="#c8bcf6"/>
<rect x="99.48" y="743.67" width="5.84" height="5.69" fill="#fbd0c2"/>
<rect x="104.97" y="743.67" width="5.84" height="5.69" fill="#fbd0c2"/>
<rect x="110.47" y="743.67" width="5.84" height="5.69" fill="#fbd0c2"/>
<rect x="115.97" y="743.67" width="5.84" height="5.69" fill="#ffa68c"/>
<rect x="121.46" y="743.67" width="5.84" height="5.69" fill="#fbd0c2"/>
<rect x="126.95" y="743.67" width="5.84" height="5.69" fill="#fbd0c2"/>
<rect x="132.45" y="743.67" width="5.50" height="5.69" fill="#ebe6f4"/>
<rect x="22.55" y="749.01" width="5.84" height="5.69" fill="#8c6ef8"/>
<rect x="28.05" y="749.01" width="5.84" height="5.69" fill="#a892f8"/>
<rect x="33.54" y="749.01" width="5.84" height="5.69" fill="#8c6ef8"/>
<rect x="39.03" y="749.01" width="5.84" height="5.69" fill="#c8bcf6"/>
<rect x="44.53" y="749.01" width="5.84" height="5.69" fill="#ebe6f4"/>
<rect x="50.03" y="749.01" width="5.84" height="5.69" fill="#a892f8"/>
<rect x="55.52" y="749.01" width="5.84" height="5.69" fill="#a892f8"/>
<rect x="61.02" y="749.01" width="5.84" height="5.69" fill="#c8bcf6"/>
<rect x="66.51" y="749.01" width="5.84" height="5.69" fill="#ebe6f4"/>
<rect x="72.00" y="749.01" width="5.84" height="5.69" fill="#8c6ef8"/>
<rect x="77.50" y="749.01" width="5.84" height="5.69" fill="#c8bcf6"/>
<rect x="83.00" y="749.01" width="5.84" height="5.69" fill="#ebe6f4"/>
<rect x="88.49" y="749.01" width="5.84" height="5.69" fill="#ff6a4c"/>
<rect x="93.98" y="749.01" width="5.84" height="5.69" fill="#ebe6f4"/>
<rect x="99.48" y="749.01" width="5.84" height="5.69" fill="#c8bcf6"/>
<rect x="104.97" y="749.01" width="5.84" height="5.69" fill="#fbd0c2"/>
<rect x="110.47" y="749.01" width="5.84" height="5.69" fill="#fbd0c2"/>
<rect x="115.97" y="749.01" width="5.84" height="5.69" fill="#ffa68c"/>
<rect x="121.46" y="749.01" width="5.84" height="5.69" fill="#ebe6f4"/>
<rect x="126.95" y="749.01" width="5.84" height="5.69" fill="#fbd0c2"/>
<rect x="132.45" y="749.01" width="5.50" height="5.69" fill="#fbd0c2"/>
<rect x="22.55" y="754.35" width="5.84" height="5.34" fill="#a892f8"/>
<rect x="28.05" y="754.35" width="5.84" height="5.34" fill="#6e4ef8"/>
<rect x="33.54" y="754.35" width="5.84" height="5.34" fill="#2a1cf8"/>
<rect x="39.03" y="754.35" width="5.84" height="5.34" fill="#c8bcf6"/>
<rect x="44.53" y="754.35" width="5.84" height="5.34" fill="#c8bcf6"/>
<rect x="50.03" y="754.35" width="5.84" height="5.34" fill="#a892f8"/>
<rect x="55.52" y="754.35" width="5.84" height="5.34" fill="#a892f8"/>
<rect x="61.02" y="754.35" width="5.84" height="5.34" fill="#c8bcf6"/>
<rect x="66.51" y="754.35" width="5.84" height="5.34" fill="#a892f8"/>
<rect x="72.00" y="754.35" width="5.84" height="5.34" fill="#c8bcf6"/>
<rect x="77.50" y="754.35" width="5.84" height="5.34" fill="#c8bcf6"/>
<rect x="83.00" y="754.35" width="5.84" height="5.34" fill="#c8bcf6"/>
<rect x="88.49" y="754.35" width="5.84" height="5.34" fill="#ffa68c"/>
<rect x="93.98" y="754.35" width="5.84" height="5.34" fill="#ebe6f4"/>
<rect x="99.48" y="754.35" width="5.84" height="5.34" fill="#c8bcf6"/>
<rect x="104.97" y="754.35" width="5.84" height="5.34" fill="#ebe6f4"/>
<rect x="110.47" y="754.35" width="5.84" height="5.34" fill="#fbd0c2"/>
<rect x="115.97" y="754.35" width="5.84" height="5.34" fill="#fbd0c2"/>
<rect x="121.46" y="754.35" width="5.84" height="5.34" fill="#ebe6f4"/>
<rect x="126.95" y="754.35" width="5.84" height="5.34" fill="#ebe6f4"/>
<rect x="132.45" y="754.35" width="5.50" height="5.34" fill="#ebe6f4"/>
<text x="139.00" y="460.05" font-size="5.25" fill="#111" stroke="#111" stroke-width="0.12">PIK3C2G</text>
<text x="139.00" y="465.39" font-size="5.25" fill="#111" stroke="#111" stroke-width="0.12">TNXB</text>
<text x="139.00" y="470.73" font-size="5.25" fill="#111" stroke="#111" stroke-width="0.12">SCN4A</text>
<text x="139.00" y="476.08" font-size="5.25" fill="#111" stroke="#111" stroke-width="0.12">AQP7P1</text>
<text x="139.00" y="481.42" font-size="5.25" fill="#111" stroke="#111" stroke-width="0.12">ADH1B</text>
<text x="139.00" y="486.76" font-size="5.25" fill="#111" stroke="#111" stroke-width="0.12">SLC19A3</text>
<text x="139.00" y="492.10" font-size="5.25" fill="#111" stroke="#111" stroke-width="0.12">ADH1C</text>
<text x="139.00" y="497.44" font-size="5.25" fill="#111" stroke="#111" stroke-width="0.12">PDE3B</text>
<text x="139.00" y="502.79" font-size="5.25" fill="#111" stroke="#111" stroke-width="0.12">PFKFB1</text>
<text x="139.00" y="508.13" font-size="5.25" fill="#111" stroke="#111" stroke-width="0.12">MEOX1</text>
<text x="139.00" y="513.47" font-size="5.25" fill="#111" stroke="#111" stroke-width="0.12">DLK2</text>
<text x="139.00" y="518.81" font-size="5.25" fill="#111" stroke="#111" stroke-width="0.12">NKPD1</text>
<text x="139.00" y="524.15" font-size="5.25" fill="#111" stroke="#111" stroke-width="0.12">MIA</text>
<text x="139.00" y="529.50" font-size="5.25" fill="#111" stroke="#111" stroke-width="0.12">EFCAB1</text>
<text x="139.00" y="534.84" font-size="5.25" fill="#111" stroke="#111" stroke-width="0.12">SOX10</text>
<text x="139.00" y="540.18" font-size="5.25" fill="#111" stroke="#111" stroke-width="0.12">CLDN19</text>
<text x="139.00" y="545.52" font-size="5.25" fill="#111" stroke="#111" stroke-width="0.12">GFAP</text>
<text x="139.00" y="550.86" font-size="5.25" fill="#111" stroke="#111" stroke-width="0.12">KLK5</text>
<text x="139.00" y="556.21" font-size="5.25" fill="#111" stroke="#111" stroke-width="0.12">SCARA5</text>
<text x="139.00" y="561.55" font-size="5.25" fill="#111" stroke="#111" stroke-width="0.12">C2orf40</text>
<text x="139.00" y="566.89" font-size="5.25" fill="#111" stroke="#111" stroke-width="0.12">SFRP1</text>
<text x="139.00" y="572.23" font-size="5.25" fill="#111" stroke="#111" stroke-width="0.12">GPX3</text>
<text x="139.00" y="577.57" font-size="5.25" fill="#111" stroke="#111" stroke-width="0.12">G0S2</text>
<text x="139.00" y="582.92" font-size="5.25" fill="#111" stroke="#111" stroke-width="0.12">LIPE</text>
<text x="139.00" y="588.26" font-size="5.25" fill="#111" stroke="#111" stroke-width="0.12">TNMD</text>
<text x="139.00" y="593.60" font-size="5.25" fill="#111" stroke="#111" stroke-width="0.12">PLP1</text>
<text x="139.00" y="598.94" font-size="5.25" fill="#111" stroke="#111" stroke-width="0.12">STX11</text>
<text x="139.00" y="604.28" font-size="5.25" fill="#111" stroke="#111" stroke-width="0.12">RDH5</text>
<text x="139.00" y="609.63" font-size="5.25" fill="#111" stroke="#111" stroke-width="0.12">CD300LG</text>
<text x="139.00" y="614.97" font-size="5.25" fill="#111" stroke="#111" stroke-width="0.12">S100B</text>
<text x="139.00" y="620.31" font-size="5.25" fill="#111" stroke="#111" stroke-width="0.12">GRIA4</text>
<text x="139.00" y="625.65" font-size="5.25" fill="#111" stroke="#111" stroke-width="0.12">SLC27A6</text>
<text x="139.00" y="630.99" font-size="5.25" fill="#111" stroke="#111" stroke-width="0.12">HIF3A</text>
<text x="139.00" y="636.34" font-size="5.25" fill="#111" stroke="#111" stroke-width="0.12">FAT2</text>
<text x="139.00" y="641.68" font-size="5.25" fill="#111" stroke="#111" stroke-width="0.12">KY</text>
<text x="139.00" y="647.02" font-size="5.25" fill="#111" stroke="#111" stroke-width="0.12">CHRDL1</text>
<text x="139.00" y="652.36" font-size="5.25" fill="#111" stroke="#111" stroke-width="0.12">PI16</text>
<text x="139.00" y="657.70" font-size="5.25" fill="#111" stroke="#111" stroke-width="0.12">CAPN6</text>
<text x="139.00" y="663.05" font-size="5.25" fill="#111" stroke="#111" stroke-width="0.12">TMEM132C</text>
<text x="139.00" y="668.39" font-size="5.25" fill="#111" stroke="#111" stroke-width="0.12">FIGF</text>
<text x="139.00" y="673.73" font-size="5.25" fill="#111" stroke="#111" stroke-width="0.12">BBOX1</text>
<text x="139.00" y="679.07" font-size="5.25" fill="#111" stroke="#111" stroke-width="0.12">LGR6</text>
<text x="139.00" y="684.41" font-size="5.25" fill="#111" stroke="#111" stroke-width="0.12">PAK7</text>
<text x="139.00" y="689.76" font-size="5.25" fill="#111" stroke="#111" stroke-width="0.12">STAC2</text>
<text x="139.00" y="695.10" font-size="5.25" fill="#111" stroke="#111" stroke-width="0.12">TP63</text>
<text x="139.00" y="700.44" font-size="5.25" fill="#111" stroke="#111" stroke-width="0.12">COL17A1</text>
<text x="139.00" y="705.78" font-size="5.25" fill="#111" stroke="#111" stroke-width="0.12">KLHL13</text>
<text x="139.00" y="711.12" font-size="5.25" fill="#111" stroke="#111" stroke-width="0.12">FFAR3</text>
<text x="139.00" y="716.47" font-size="5.25" fill="#111" stroke="#111" stroke-width="0.12">ALDH1L1</text>
<text x="139.00" y="721.81" font-size="5.25" fill="#111" stroke="#111" stroke-width="0.12">KLB</text>
<text x="139.00" y="727.15" font-size="5.25" fill="#111" stroke="#111" stroke-width="0.12">FABP4</text>
<text x="139.00" y="732.49" font-size="5.25" fill="#111" stroke="#111" stroke-width="0.12">PCOLCE2</text>
<text x="139.00" y="737.83" font-size="5.25" fill="#111" stroke="#111" stroke-width="0.12">KCNIP2</text>
<text x="139.00" y="743.18" font-size="5.25" fill="#111" stroke="#111" stroke-width="0.12">LPL</text>
<text x="139.00" y="748.52" font-size="5.25" fill="#111" stroke="#111" stroke-width="0.12">ITIH5</text>
<text x="139.00" y="753.86" font-size="5.25" fill="#111" stroke="#111" stroke-width="0.12">CNTFR</text>
<text x="139.00" y="759.20" font-size="5.25" fill="#111" stroke="#111" stroke-width="0.12">CRYAB</text>
<text x="27.20" y="761.20" font-size="5.05" text-anchor="end" fill="#111" transform="rotate(-90 27.20 761.20)">TP18_M86</text>
<text x="32.69" y="761.20" font-size="5.05" text-anchor="end" fill="#111" transform="rotate(-90 32.69 761.20)">TP17_M376</text>
<text x="38.19" y="761.20" font-size="5.05" text-anchor="end" fill="#111" transform="rotate(-90 38.19 761.20)">TP18_M261</text>
<text x="43.68" y="761.20" font-size="5.05" text-anchor="end" fill="#111" transform="rotate(-90 43.68 761.20)">TP17_M002</text>
<text x="49.18" y="761.20" font-size="5.05" text-anchor="end" fill="#111" transform="rotate(-90 49.18 761.20)">TP17_M384</text>
<text x="54.67" y="761.20" font-size="5.05" text-anchor="end" fill="#111" transform="rotate(-90 54.67 761.20)">TP17_M382</text>
<text x="60.17" y="761.20" font-size="5.05" text-anchor="end" fill="#111" transform="rotate(-90 60.17 761.20)">TP18_M372</text>
<text x="65.66" y="761.20" font-size="5.05" text-anchor="end" fill="#111" transform="rotate(-90 65.66 761.20)">TP17_M389</text>
<text x="71.16" y="761.20" font-size="5.05" text-anchor="end" fill="#111" transform="rotate(-90 71.16 761.20)">TP17_M310</text>
<text x="76.65" y="761.20" font-size="5.05" text-anchor="end" fill="#111" transform="rotate(-90 76.65 761.20)">TP17_M363</text>
<text x="82.15" y="761.20" font-size="5.05" text-anchor="end" fill="#111" transform="rotate(-90 82.15 761.20)">TP18_M339</text>
<text x="87.64" y="761.20" font-size="5.05" text-anchor="end" fill="#111" transform="rotate(-90 87.64 761.20)">TP17_M422</text>
<text x="93.14" y="761.20" font-size="5.05" text-anchor="end" fill="#111" transform="rotate(-90 93.14 761.20)">TP17_M005</text>
<text x="98.63" y="761.20" font-size="5.05" text-anchor="end" fill="#111" transform="rotate(-90 98.63 761.20)">TP17_M301</text>
<text x="104.13" y="761.20" font-size="5.05" text-anchor="end" fill="#111" transform="rotate(-90 104.13 761.20)">TP17_M229</text>
<text x="109.62" y="761.20" font-size="5.05" text-anchor="end" fill="#111" transform="rotate(-90 109.62 761.20)">TP18_M418</text>
<text x="115.12" y="761.20" font-size="5.05" text-anchor="end" fill="#111" transform="rotate(-90 115.12 761.20)">TP18_M278</text>
<text x="120.61" y="761.20" font-size="5.05" text-anchor="end" fill="#111" transform="rotate(-90 120.61 761.20)">TP18_M121</text>
<text x="126.11" y="761.20" font-size="5.05" text-anchor="end" fill="#111" transform="rotate(-90 126.11 761.20)">TP18_M332</text>
<text x="131.60" y="761.20" font-size="5.05" text-anchor="end" fill="#111" transform="rotate(-90 131.60 761.20)">TP18_M102</text>
<text x="137.10" y="761.20" font-size="5.05" text-anchor="end" fill="#111" transform="rotate(-90 137.10 761.20)">TP18_M002</text>
<rect x="22.20" y="281.60" width="67.30" height="28.00" fill="#f1d5c6" stroke="#24365f" stroke-width="1.3"/>
<rect x="89.50" y="281.60" width="49.20" height="27.00" fill="#c6cfe2" stroke="#24365f" stroke-width="1.3"/>
<path d="M44.4,281.6 L44.4,266.4 L97.5,266.4 L97.5,281.6" fill="none" stroke="#888" stroke-width="0.7"/>
<line x1="44.40" y1="281.60" x2="44.40" y2="286.20" stroke="#6a6a6a" stroke-width="0.6"/>
<path d="M29.20,296.8 L29.20,286.2 L59.60,286.2 L59.60,292.1" fill="none" stroke="#6a6a6a" stroke-width="0.6"/>
<path d="M26.90,308.6 L26.90,296.8 L33.90,296.8 L33.90,302.6" fill="none" stroke="#6a6a6a" stroke-width="0.6"/>
<path d="M30.79,308.6 L30.79,302.6 L36.29,302.6 L36.29,308.6" fill="none" stroke="#6a6a6a" stroke-width="0.6"/>
<path d="M50.20,295.6 L50.20,292.1 L70.10,292.1 L70.10,296.8" fill="none" stroke="#6a6a6a" stroke-width="0.6"/>
<path d="M44.40,302.6 L44.40,295.6 L54.90,295.6 L54.90,300.3" fill="none" stroke="#6a6a6a" stroke-width="0.6"/>
<path d="M41.78,308.6 L41.78,302.6 L47.28,302.6 L47.28,308.6" fill="none" stroke="#6a6a6a" stroke-width="0.6"/>
<path d="M52.77,308.6 L52.77,300.3 L58.27,300.3 L58.27,308.6" fill="none" stroke="#6a6a6a" stroke-width="0.6"/>
<path d="M66.00,300.3 L66.00,296.8 L78.30,296.8 L78.30,300.3" fill="none" stroke="#6a6a6a" stroke-width="0.6"/>
<path d="M63.76,308.6 L63.76,300.3 L69.26,300.3 L69.26,308.6" fill="none" stroke="#6a6a6a" stroke-width="0.6"/>
<path d="M74.80,302.6 L74.80,300.3 L85.74,300.3 L85.74,308.6" fill="none" stroke="#6a6a6a" stroke-width="0.6"/>
<path d="M74.75,308.6 L74.75,302.6 L80.25,302.6 L80.25,308.6" fill="none" stroke="#6a6a6a" stroke-width="0.6"/>
<line x1="97.50" y1="281.60" x2="97.50" y2="283.00" stroke="#6a6a6a" stroke-width="0.6"/>
<line x1="103.40" y1="281.60" x2="103.40" y2="287.40" stroke="#6a6a6a" stroke-width="0.6"/>
<path d="M91.24,308.6 L91.24,287.4 L109.20,287.4 L109.20,294.4" fill="none" stroke="#6a6a6a" stroke-width="0.6"/>
<path d="M103.40,308.6 L103.40,294.4 L117.40,294.4 L117.40,297.5" fill="none" stroke="#6a6a6a" stroke-width="0.6"/>
<path d="M110.50,300.5 L110.50,297.5 L124.50,297.5 L124.50,300.5" fill="none" stroke="#6a6a6a" stroke-width="0.6"/>
<path d="M102.23,308.6 L102.23,300.5 L107.72,300.5 L107.72,308.6" fill="none" stroke="#6a6a6a" stroke-width="0.6"/>
<path d="M113.22,308.6 L113.22,300.5 L130.00,300.5 L130.00,303" fill="none" stroke="#6a6a6a" stroke-width="0.6"/>
<path d="M118.71,308.6 L118.71,303 L124.21,303 L124.21,308.6" fill="none" stroke="#6a6a6a" stroke-width="0.6"/>
<path d="M129.70,308.6 L129.70,303 L135.20,303 L135.20,308.6" fill="none" stroke="#6a6a6a" stroke-width="0.6"/>
<line x1="96.73" y1="294.40" x2="96.73" y2="308.60" stroke="#6a6a6a" stroke-width="0.6"/>
<line x1="11.90" y1="472.00" x2="11.90" y2="620.00" stroke="#6a6a6a" stroke-width="0.6"/>
<line x1="11.90" y1="472.00" x2="17.50" y2="472.00" stroke="#6a6a6a" stroke-width="0.6"/>
<line x1="17.50" y1="463.21" x2="17.50" y2="497.94" stroke="#6a6a6a" stroke-width="0.6"/>
<line x1="19.50" y1="457.87" x2="19.50" y2="468.56" stroke="#6a6a6a" stroke-width="0.6"/>
<line x1="20.30" y1="473.90" x2="20.30" y2="500.61" stroke="#6a6a6a" stroke-width="0.6"/>
<line x1="20.80" y1="457.87" x2="20.80" y2="463.21" stroke="#6a6a6a" stroke-width="0.6"/>
<line x1="21.20" y1="484.58" x2="21.20" y2="495.26" stroke="#6a6a6a" stroke-width="0.6"/>
<line x1="17.50" y1="463.21" x2="19.50" y2="463.21" stroke="#6a6a6a" stroke-width="0.6"/>
<line x1="17.50" y1="497.94" x2="20.30" y2="497.94" stroke="#6a6a6a" stroke-width="0.6"/>
<line x1="11.90" y1="620.00" x2="15.00" y2="620.00" stroke="#6a6a6a" stroke-width="0.6"/>
<line x1="15.00" y1="555.00" x2="15.00" y2="690.00" stroke="#6a6a6a" stroke-width="0.6"/>
<line x1="15.00" y1="555.00" x2="18.50" y2="555.00" stroke="#6a6a6a" stroke-width="0.6"/>
<line x1="15.00" y1="690.00" x2="18.50" y2="690.00" stroke="#6a6a6a" stroke-width="0.6"/>
<line x1="18.50" y1="516.63" x2="18.50" y2="586.08" stroke="#6a6a6a" stroke-width="0.6"/>
<line x1="18.50" y1="687.58" x2="18.50" y2="746.34" stroke="#6a6a6a" stroke-width="0.6"/>
<line x1="18.50" y1="516.63" x2="20.00" y2="516.63" stroke="#6a6a6a" stroke-width="0.6"/>
<line x1="18.50" y1="586.08" x2="20.00" y2="586.08" stroke="#6a6a6a" stroke-width="0.6"/>
<line x1="18.50" y1="687.58" x2="20.00" y2="687.58" stroke="#6a6a6a" stroke-width="0.6"/>
<line x1="18.50" y1="746.34" x2="20.00" y2="746.34" stroke="#6a6a6a" stroke-width="0.6"/>
<line x1="15.00" y1="640.00" x2="17.50" y2="640.00" stroke="#6a6a6a" stroke-width="0.6"/>
<line x1="17.50" y1="618.13" x2="17.50" y2="671.55" stroke="#6a6a6a" stroke-width="0.6"/>
<line x1="20.80" y1="505.95" x2="20.80" y2="527.32" stroke="#6a6a6a" stroke-width="0.6"/>
<line x1="19.60" y1="516.63" x2="20.80" y2="516.63" stroke="#6a6a6a" stroke-width="0.6"/>
<line x1="20.60" y1="532.66" x2="20.60" y2="559.37" stroke="#6a6a6a" stroke-width="0.6"/>
<line x1="19.40" y1="546.01" x2="20.60" y2="546.01" stroke="#6a6a6a" stroke-width="0.6"/>
<line x1="20.90" y1="564.71" x2="20.90" y2="586.08" stroke="#6a6a6a" stroke-width="0.6"/>
<line x1="19.70" y1="575.39" x2="20.90" y2="575.39" stroke="#6a6a6a" stroke-width="0.6"/>
<line x1="20.60" y1="591.42" x2="20.60" y2="612.79" stroke="#6a6a6a" stroke-width="0.6"/>
<line x1="19.40" y1="602.11" x2="20.60" y2="602.11" stroke="#6a6a6a" stroke-width="0.6"/>
<line x1="21.00" y1="618.13" x2="21.00" y2="639.50" stroke="#6a6a6a" stroke-width="0.6"/>
<line x1="19.80" y1="628.82" x2="21.00" y2="628.82" stroke="#6a6a6a" stroke-width="0.6"/>
<line x1="20.70" y1="644.84" x2="20.70" y2="671.55" stroke="#6a6a6a" stroke-width="0.6"/>
<line x1="19.50" y1="658.20" x2="20.70" y2="658.20" stroke="#6a6a6a" stroke-width="0.6"/>
<line x1="20.90" y1="676.89" x2="20.90" y2="703.60" stroke="#6a6a6a" stroke-width="0.6"/>
<line x1="19.70" y1="690.25" x2="20.90" y2="690.25" stroke="#6a6a6a" stroke-width="0.6"/>
<line x1="20.60" y1="708.94" x2="20.60" y2="730.31" stroke="#6a6a6a" stroke-width="0.6"/>
<line x1="19.40" y1="719.63" x2="20.60" y2="719.63" stroke="#6a6a6a" stroke-width="0.6"/>
<line x1="20.90" y1="735.65" x2="20.90" y2="757.02" stroke="#6a6a6a" stroke-width="0.6"/>
<line x1="19.70" y1="746.34" x2="20.90" y2="746.34" stroke="#6a6a6a" stroke-width="0.6"/>
<line x1="20.00" y1="505.95" x2="20.00" y2="757.02" stroke="#6a6a6a" stroke-width="0.6"/>
<line x1="21.20" y1="457.87" x2="22.50" y2="457.87" stroke="#6a6a6a" stroke-width="0.45"/>
<line x1="21.60" y1="463.21" x2="22.50" y2="463.21" stroke="#6a6a6a" stroke-width="0.45"/>
<line x1="21.20" y1="468.56" x2="22.50" y2="468.56" stroke="#6a6a6a" stroke-width="0.45"/>
<line x1="21.60" y1="473.90" x2="22.50" y2="473.90" stroke="#6a6a6a" stroke-width="0.45"/>
<line x1="21.20" y1="479.24" x2="22.50" y2="479.24" stroke="#6a6a6a" stroke-width="0.45"/>
<line x1="21.60" y1="484.58" x2="22.50" y2="484.58" stroke="#6a6a6a" stroke-width="0.45"/>
<line x1="21.20" y1="489.92" x2="22.50" y2="489.92" stroke="#6a6a6a" stroke-width="0.45"/>
<line x1="21.60" y1="495.26" x2="22.50" y2="495.26" stroke="#6a6a6a" stroke-width="0.45"/>
<line x1="21.20" y1="500.61" x2="22.50" y2="500.61" stroke="#6a6a6a" stroke-width="0.45"/>
<line x1="21.60" y1="505.95" x2="22.50" y2="505.95" stroke="#6a6a6a" stroke-width="0.45"/>
<line x1="21.20" y1="511.29" x2="22.50" y2="511.29" stroke="#6a6a6a" stroke-width="0.45"/>
<line x1="21.60" y1="516.63" x2="22.50" y2="516.63" stroke="#6a6a6a" stroke-width="0.45"/>
<line x1="21.20" y1="521.98" x2="22.50" y2="521.98" stroke="#6a6a6a" stroke-width="0.45"/>
<line x1="21.60" y1="527.32" x2="22.50" y2="527.32" stroke="#6a6a6a" stroke-width="0.45"/>
<line x1="21.20" y1="532.66" x2="22.50" y2="532.66" stroke="#6a6a6a" stroke-width="0.45"/>
<line x1="21.60" y1="538.00" x2="22.50" y2="538.00" stroke="#6a6a6a" stroke-width="0.45"/>
<line x1="21.20" y1="543.34" x2="22.50" y2="543.34" stroke="#6a6a6a" stroke-width="0.45"/>
<line x1="21.60" y1="548.68" x2="22.50" y2="548.68" stroke="#6a6a6a" stroke-width="0.45"/>
<line x1="21.20" y1="554.03" x2="22.50" y2="554.03" stroke="#6a6a6a" stroke-width="0.45"/>
<line x1="21.60" y1="559.37" x2="22.50" y2="559.37" stroke="#6a6a6a" stroke-width="0.45"/>
<line x1="21.20" y1="564.71" x2="22.50" y2="564.71" stroke="#6a6a6a" stroke-width="0.45"/>
<line x1="21.60" y1="570.05" x2="22.50" y2="570.05" stroke="#6a6a6a" stroke-width="0.45"/>
<line x1="21.20" y1="575.39" x2="22.50" y2="575.39" stroke="#6a6a6a" stroke-width="0.45"/>
<line x1="21.60" y1="580.74" x2="22.50" y2="580.74" stroke="#6a6a6a" stroke-width="0.45"/>
<line x1="21.20" y1="586.08" x2="22.50" y2="586.08" stroke="#6a6a6a" stroke-width="0.45"/>
<line x1="21.60" y1="591.42" x2="22.50" y2="591.42" stroke="#6a6a6a" stroke-width="0.45"/>
<line x1="21.20" y1="596.76" x2="22.50" y2="596.76" stroke="#6a6a6a" stroke-width="0.45"/>
<line x1="21.60" y1="602.11" x2="22.50" y2="602.11" stroke="#6a6a6a" stroke-width="0.45"/>
<line x1="21.20" y1="607.45" x2="22.50" y2="607.45" stroke="#6a6a6a" stroke-width="0.45"/>
<line x1="21.60" y1="612.79" x2="22.50" y2="612.79" stroke="#6a6a6a" stroke-width="0.45"/>
<line x1="21.20" y1="618.13" x2="22.50" y2="618.13" stroke="#6a6a6a" stroke-width="0.45"/>
<line x1="21.60" y1="623.47" x2="22.50" y2="623.47" stroke="#6a6a6a" stroke-width="0.45"/>
<line x1="21.20" y1="628.81" x2="22.50" y2="628.81" stroke="#6a6a6a" stroke-width="0.45"/>
<line x1="21.60" y1="634.16" x2="22.50" y2="634.16" stroke="#6a6a6a" stroke-width="0.45"/>
<line x1="21.20" y1="639.50" x2="22.50" y2="639.50" stroke="#6a6a6a" stroke-width="0.45"/>
<line x1="21.60" y1="644.84" x2="22.50" y2="644.84" stroke="#6a6a6a" stroke-width="0.45"/>
<line x1="21.20" y1="650.18" x2="22.50" y2="650.18" stroke="#6a6a6a" stroke-width="0.45"/>
<line x1="21.60" y1="655.52" x2="22.50" y2="655.52" stroke="#6a6a6a" stroke-width="0.45"/>
<line x1="21.20" y1="660.87" x2="22.50" y2="660.87" stroke="#6a6a6a" stroke-width="0.45"/>
<line x1="21.60" y1="666.21" x2="22.50" y2="666.21" stroke="#6a6a6a" stroke-width="0.45"/>
<line x1="21.20" y1="671.55" x2="22.50" y2="671.55" stroke="#6a6a6a" stroke-width="0.45"/>
<line x1="21.60" y1="676.89" x2="22.50" y2="676.89" stroke="#6a6a6a" stroke-width="0.45"/>
<line x1="21.20" y1="682.24" x2="22.50" y2="682.24" stroke="#6a6a6a" stroke-width="0.45"/>
<line x1="21.60" y1="687.58" x2="22.50" y2="687.58" stroke="#6a6a6a" stroke-width="0.45"/>
<line x1="21.20" y1="692.92" x2="22.50" y2="692.92" stroke="#6a6a6a" stroke-width="0.45"/>
<line x1="21.60" y1="698.26" x2="22.50" y2="698.26" stroke="#6a6a6a" stroke-width="0.45"/>
<line x1="21.20" y1="703.60" x2="22.50" y2="703.60" stroke="#6a6a6a" stroke-width="0.45"/>
<line x1="21.60" y1="708.94" x2="22.50" y2="708.94" stroke="#6a6a6a" stroke-width="0.45"/>
<line x1="21.20" y1="714.29" x2="22.50" y2="714.29" stroke="#6a6a6a" stroke-width="0.45"/>
<line x1="21.60" y1="719.63" x2="22.50" y2="719.63" stroke="#6a6a6a" stroke-width="0.45"/>
<line x1="21.20" y1="724.97" x2="22.50" y2="724.97" stroke="#6a6a6a" stroke-width="0.45"/>
<line x1="21.60" y1="730.31" x2="22.50" y2="730.31" stroke="#6a6a6a" stroke-width="0.45"/>
<line x1="21.20" y1="735.65" x2="22.50" y2="735.65" stroke="#6a6a6a" stroke-width="0.45"/>
<line x1="21.60" y1="741.00" x2="22.50" y2="741.00" stroke="#6a6a6a" stroke-width="0.45"/>
<line x1="21.20" y1="746.34" x2="22.50" y2="746.34" stroke="#6a6a6a" stroke-width="0.45"/>
<line x1="21.60" y1="751.68" x2="22.50" y2="751.68" stroke="#6a6a6a" stroke-width="0.45"/>
<line x1="21.20" y1="757.02" x2="22.50" y2="757.02" stroke="#6a6a6a" stroke-width="0.45"/>
<rect x="222" y="263.5" width="5" height="51.2" fill="url(#gcb)"/>
<text x="220.00" y="281.50" font-size="8.4" text-anchor="middle" font-weight="bold" stroke="#000" stroke-width="0.15" transform="rotate(-90 220.00 281.50)">log2TPM</text>
<text x="228.00" y="267.60" font-size="8" fill="#111" stroke="#111" stroke-width="0.15">4</text>
<text x="228.00" y="292.50" font-size="8" fill="#111" stroke="#111" stroke-width="0.15">0</text>
<text x="227.40" y="316.60" font-size="8" fill="#111" stroke="#111" stroke-width="0.15">−4</text>
<text x="239.60" y="270.00" font-size="8.5" font-weight="bold" stroke="#000" stroke-width="0.15">ILC Subtype</text>
<rect x="239.60" y="272.60" width="3.40" height="7.70" fill="#4a7bd6"/>
<text x="244.80" y="278.70" font-size="8.45" fill="#222" stroke="#222" stroke-width="0.15">Non−proliferative</text>
<rect x="239.60" y="280.20" width="3.40" height="7.70" fill="#ee8748"/>
<text x="244.80" y="286.30" font-size="8.45" fill="#222" stroke="#222" stroke-width="0.15">Proliferative</text>
<text x="239.60" y="297.70" font-size="8.5" font-weight="bold" stroke="#000" stroke-width="0.15">TCGA ILC Subtype</text>
<rect x="239.60" y="300.30" width="3.40" height="7.70" fill="#add8e6"/>
<text x="244.80" y="306.40" font-size="8.45" fill="#222" stroke="#222" stroke-width="0.15">Immune−related</text>
<rect x="239.60" y="307.90" width="3.40" height="7.70" fill="#ee8748"/>
<text x="244.80" y="314.00" font-size="8.45" fill="#222" stroke="#222" stroke-width="0.15">Proliferative</text>
<rect x="239.60" y="315.50" width="3.40" height="7.70" fill="#62cdc7"/>
<text x="244.80" y="321.60" font-size="8.45" fill="#222" stroke="#222" stroke-width="0.15">Reactive−like</text>
<text x="239.60" y="332.30" font-size="8.5" font-weight="bold" stroke="#000" stroke-width="0.15">PAM50</text>
<rect x="239.60" y="334.90" width="3.40" height="7.70" fill="#4a7bd6"/>
<text x="244.80" y="341.00" font-size="8.45" fill="#222" stroke="#222" stroke-width="0.15">LumA</text>
<rect x="239.60" y="342.60" width="3.40" height="7.70" fill="#ee8748"/>
<text x="244.80" y="348.70" font-size="8.45" fill="#222" stroke="#222" stroke-width="0.15">LumB</text>
<rect x="239.60" y="350.30" width="3.40" height="7.70" fill="#66cc66"/>
<text x="244.80" y="356.40" font-size="8.45" fill="#222" stroke="#222" stroke-width="0.15">Her2</text>
<rect x="239.60" y="358.00" width="3.40" height="7.70" fill="#de6262"/>
<text x="244.80" y="364.10" font-size="8.45" fill="#222" stroke="#222" stroke-width="0.15">Basal</text>
<rect x="239.60" y="365.70" width="3.40" height="7.70" fill="#9a6abf"/>
<text x="244.80" y="371.80" font-size="8.45" fill="#222" stroke="#222" stroke-width="0.15">Normal</text>
<text x="239.60" y="382.40" font-size="8.5" font-weight="bold" stroke="#000" stroke-width="0.15">Age at Diagnosis</text>
<rect x="239.6" y="385" width="3.6" height="39.5" fill="url(#gpk)"/>
<text x="244.80" y="388.70" font-size="8.45" fill="#222" stroke="#222" stroke-width="0.15">80</text>
<text x="244.80" y="397.90" font-size="8.45" fill="#222" stroke="#222" stroke-width="0.15">70</text>
<text x="244.80" y="407.00" font-size="8.45" fill="#222" stroke="#222" stroke-width="0.15">60</text>
<text x="244.80" y="416.40" font-size="8.45" fill="#222" stroke="#222" stroke-width="0.15">50</text>
<text x="244.80" y="425.60" font-size="8.45" fill="#222" stroke="#222" stroke-width="0.15">40</text>
<text x="244.80" y="434.70" font-size="8.45" fill="#222" stroke="#222" stroke-width="0.15">30</text>
<text x="239.60" y="442.70" font-size="8.5" font-weight="bold" stroke="#000" stroke-width="0.15">Race</text>
<rect x="239.60" y="445.30" width="3.40" height="7.70" fill="#ee8748"/>
<text x="244.80" y="451.40" font-size="8.45" fill="#222" stroke="#222" stroke-width="0.15">Other</text>
<rect x="239.60" y="452.90" width="3.40" height="7.70" fill="#4a7bd6"/>
<text x="244.80" y="459.00" font-size="8.45" fill="#222" stroke="#222" stroke-width="0.15">White</text>
<text x="239.60" y="469.90" font-size="8.5" font-weight="bold" stroke="#000" stroke-width="0.15">Postmenopausal</text>
<rect x="239.60" y="472.60" width="3.40" height="7.70" fill="#bebebe"/>
<text x="244.80" y="478.70" font-size="8.45" fill="#222" stroke="#222" stroke-width="0.15">No</text>
<rect x="239.60" y="480.30" width="3.40" height="7.70" fill="#b03060"/>
<text x="244.80" y="486.40" font-size="8.45" fill="#222" stroke="#222" stroke-width="0.15">Yes</text>
<text x="239.60" y="497.40" font-size="8.5" font-weight="bold" stroke="#000" stroke-width="0.15">Pathological Grade</text>
<rect x="239.60" y="499.90" width="3.40" height="7.70" fill="#ffc0cb"/>
<text x="244.80" y="506.00" font-size="8.45" fill="#222" stroke="#222" stroke-width="0.15">1</text>
<rect x="239.60" y="507.60" width="3.40" height="7.70" fill="#ff00ff"/>
<text x="244.80" y="513.70" font-size="8.45" fill="#222" stroke="#222" stroke-width="0.15">2</text>
<rect x="239.60" y="515.20" width="3.40" height="7.70" fill="#b03060"/>
<text x="244.80" y="521.30" font-size="8.45" fill="#222" stroke="#222" stroke-width="0.15">3</text>
<text x="239.60" y="532.30" font-size="8.5" font-weight="bold" stroke="#000" stroke-width="0.15">Pathological Stage</text>
<rect x="239.60" y="535.30" width="3.40" height="7.70" fill="#add8e6"/>
<text x="244.80" y="541.40" font-size="8.45" fill="#222" stroke="#222" stroke-width="0.15">1A</text>
<rect x="239.60" y="542.90" width="3.40" height="7.70" fill="#87ceeb"/>
<text x="244.80" y="549.00" font-size="8.45" fill="#222" stroke="#222" stroke-width="0.15">1B</text>
<rect x="239.60" y="550.60" width="3.40" height="7.70" fill="#1e90ff"/>
<text x="244.80" y="556.70" font-size="8.45" fill="#222" stroke="#222" stroke-width="0.15">2A</text>
<rect x="239.60" y="558.30" width="3.40" height="7.70" fill="#0000cd"/>
<text x="244.80" y="564.40" font-size="8.45" fill="#222" stroke="#222" stroke-width="0.15">2B</text>
<rect x="239.60" y="565.90" width="3.40" height="7.70" fill="#000080"/>
<text x="244.80" y="572.00" font-size="8.45" fill="#222" stroke="#222" stroke-width="0.15">3A</text>
<rect x="239.60" y="573.40" width="3.40" height="7.70" fill="#000000"/>
<text x="244.80" y="579.50" font-size="8.45" fill="#222" stroke="#222" stroke-width="0.15">3C</text>
<text x="239.60" y="590.10" font-size="8.5" font-weight="bold" stroke="#000" stroke-width="0.15">Ki67</text>
<rect x="239.6" y="592" width="3.6" height="39" fill="url(#gpk)"/>
<text x="244.80" y="596.40" font-size="8.45" fill="#222" stroke="#222" stroke-width="0.15">80</text>
<text x="244.80" y="605.60" font-size="8.45" fill="#222" stroke="#222" stroke-width="0.15">60</text>
<text x="244.80" y="615.00" font-size="8.45" fill="#222" stroke="#222" stroke-width="0.15">40</text>
<text x="244.80" y="624.30" font-size="8.45" fill="#222" stroke="#222" stroke-width="0.15">20</text>
<text x="244.80" y="633.90" font-size="8.45" fill="#222" stroke="#222" stroke-width="0.15">0</text>
<text x="239.60" y="641.60" font-size="8.5" font-weight="bold" stroke="#000" stroke-width="0.15">ER</text>
<rect x="239.60" y="644.60" width="3.40" height="7.70" fill="#e07ad8"/>
<text x="244.80" y="650.70" font-size="8.45" fill="#222" stroke="#222" stroke-width="0.15">Positive</text>
<text x="239.60" y="661.60" font-size="8.5" font-weight="bold" stroke="#000" stroke-width="0.15">PR</text>
<rect x="239.60" y="664.30" width="3.40" height="7.70" fill="#8ea3cf"/>
<text x="244.80" y="670.40" font-size="8.45" fill="#222" stroke="#222" stroke-width="0.15">Negative</text>
<rect x="239.60" y="672.00" width="3.40" height="7.70" fill="#e07ad8"/>
<text x="244.80" y="678.10" font-size="8.45" fill="#222" stroke="#222" stroke-width="0.15">Positive</text>
<text x="239.60" y="688.90" font-size="8.5" font-weight="bold" stroke="#000" stroke-width="0.15">HER2</text>
<rect x="239.60" y="691.90" width="3.40" height="7.70" fill="#8ea3cf"/>
<text x="244.80" y="698.00" font-size="8.45" fill="#222" stroke="#222" stroke-width="0.15">Negative</text>
<rect x="239.60" y="699.40" width="3.40" height="7.70" fill="#bebebe"/>
<text x="244.80" y="705.50" font-size="8.45" fill="#222" stroke="#222" stroke-width="0.15">None</text>
<text x="239.60" y="716.50" font-size="8.5" font-weight="bold" stroke="#000" stroke-width="0.15">ER IHC Score</text>
<rect x="239.6" y="718.8" width="3.6" height="41.6" fill="url(#gpk)"/>
<text x="244.80" y="722.40" font-size="8.45" fill="#222" stroke="#222" stroke-width="0.15">300</text>
<text x="244.80" y="731.60" font-size="8.45" fill="#222" stroke="#222" stroke-width="0.15">250</text>
<text x="244.80" y="740.70" font-size="8.45" fill="#222" stroke="#222" stroke-width="0.15">200</text>
<text x="244.80" y="749.80" font-size="8.45" fill="#222" stroke="#222" stroke-width="0.15">150</text>
<text x="244.80" y="758.90" font-size="8.45" fill="#222" stroke="#222" stroke-width="0.15">100</text>
<text x="244.80" y="768.40" font-size="8.45" fill="#222" stroke="#222" stroke-width="0.15">50</text>
<text x="239.60" y="776.90" font-size="8.5" font-weight="bold" stroke="#000" stroke-width="0.15">mIHC Availability</text>
<rect x="239.60" y="779.10" width="3.40" height="7.70" fill="#bebebe"/>
<text x="244.80" y="785.20" font-size="8.45" fill="#222" stroke="#222" stroke-width="0.15">N</text>
<rect x="239.60" y="786.50" width="3.40" height="7.70" fill="#ee8748"/>
<text x="244.80" y="792.60" font-size="8.45" fill="#222" stroke="#222" stroke-width="0.15">Y</text>
<text x="327.60" y="238.30" font-size="19.5" font-weight="bold" stroke="#000" stroke-width="0.15">C</text>
<text x="452.30" y="247.30" font-size="10.2" fill="#111" stroke="#111" stroke-width="0.15">ILC subtype</text>
<circle cx="520.80" cy="243.70" r="4.1" fill="#88a0cc" stroke="#333" stroke-width="0.8"/>
<text x="529.40" y="247.30" font-size="10.2" fill="#111" stroke="#111" stroke-width="0.15">Non-proliferative</text>
<circle cx="613.10" cy="243.70" r="4.1" fill="#e2a98a" stroke="#333" stroke-width="0.8"/>
<text x="621.70" y="247.30" font-size="10.2" fill="#111" stroke="#111" stroke-width="0.15">Proliferative</text>
<text x="360.20" y="267.60" font-size="10.3" font-weight="bold" stroke="#000" stroke-width="0.15" textLength="309.40" lengthAdjust="spacingAndGlyphs">Immune-related pathways (RATHER immune-related subtypes )</text>
<text x="360.20" y="792.70" font-size="10.3" font-weight="bold" stroke="#000" stroke-width="0.15" textLength="313.10" lengthAdjust="spacingAndGlyphs">Cell-cycle related pathways (RATHER hormone-related subtype)</text>
<text x="390.60" y="276.40" font-size="5.5" text-anchor="middle" fill="#222">KEGG</text>
<text x="390.60" y="282.10" font-size="5.5" text-anchor="middle" fill="#222">JAK STAT SIGNALING</text>
<text x="390.60" y="287.80" font-size="5.5" text-anchor="middle" fill="#222">PATHWAY</text>
<text x="356.80" y="306.80" font-size="6.2" text-anchor="end" fill="#222">0.16</text>
<text x="356.80" y="329.20" font-size="6.2" text-anchor="end" fill="#222">0.14</text>
<text x="356.80" y="351.80" font-size="6.2" text-anchor="end" fill="#222">0.12</text>
<text x="356.80" y="374.70" font-size="6.2" text-anchor="end" fill="#222">0.10</text>
<line x1="376.40" y1="322.10" x2="376.40" y2="327.20" stroke="#4a4a4a" stroke-width="1.0"/>
<line x1="376.40" y1="335.70" x2="376.40" y2="345.20" stroke="#4a4a4a" stroke-width="1.0"/>
<line x1="371.60" y1="322.10" x2="381.20" y2="322.10" stroke="#4a4a4a" stroke-width="1.0"/>
<line x1="371.60" y1="345.20" x2="381.20" y2="345.20" stroke="#4a4a4a" stroke-width="1.0"/>
<rect x="365.00" y="327.20" width="22.80" height="8.50" fill="#88a0cc" stroke="#4a4a4a" stroke-width="1.0"/>
<line x1="365.00" y1="330.10" x2="387.80" y2="330.10" stroke="#4a4a4a" stroke-width="1.3"/>
<circle cx="376.38" cy="322.10" r="0.9" fill="#555" opacity="0.55"/>
<circle cx="376.15" cy="345.20" r="0.9" fill="#555" opacity="0.55"/>
<circle cx="377.16" cy="327.20" r="0.9" fill="#555" opacity="0.55"/>
<circle cx="377.84" cy="335.70" r="0.9" fill="#555" opacity="0.55"/>
<circle cx="374.37" cy="330.10" r="0.9" fill="#555" opacity="0.55"/>
<circle cx="374.04" cy="328.34" r="0.9" fill="#555" opacity="0.55"/>
<circle cx="378.08" cy="334.40" r="0.9" fill="#555" opacity="0.55"/>
<circle cx="376.06" cy="333.69" r="0.9" fill="#555" opacity="0.55"/>
<circle cx="377.71" cy="329.37" r="0.9" fill="#555" opacity="0.55"/>
<line x1="404.50" y1="335.40" x2="404.50" y2="338.30" stroke="#4a4a4a" stroke-width="1.0"/>
<line x1="404.50" y1="355.70" x2="404.50" y2="378.80" stroke="#4a4a4a" stroke-width="1.0"/>
<line x1="399.70" y1="335.40" x2="409.30" y2="335.40" stroke="#4a4a4a" stroke-width="1.0"/>
<line x1="399.70" y1="378.80" x2="409.30" y2="378.80" stroke="#4a4a4a" stroke-width="1.0"/>
<rect x="393.10" y="338.30" width="22.80" height="17.40" fill="#e2a98a" stroke="#4a4a4a" stroke-width="1.0"/>
<line x1="393.10" y1="348.10" x2="415.90" y2="348.10" stroke="#4a4a4a" stroke-width="1.3"/>
<path d="M404.50,309.40 L406.00,311.30 L404.50,313.20 L403.00,311.30 Z" fill="#333"/>
<circle cx="403.54" cy="335.40" r="0.9" fill="#555" opacity="0.55"/>
<circle cx="405.03" cy="378.80" r="0.9" fill="#555" opacity="0.55"/>
<circle cx="405.03" cy="338.30" r="0.9" fill="#555" opacity="0.55"/>
<circle cx="404.91" cy="355.70" r="0.9" fill="#555" opacity="0.55"/>
<circle cx="402.79" cy="348.10" r="0.9" fill="#555" opacity="0.55"/>
<circle cx="404.15" cy="354.93" r="0.9" fill="#555" opacity="0.55"/>
<circle cx="403.97" cy="354.79" r="0.9" fill="#555" opacity="0.55"/>
<circle cx="405.62" cy="339.28" r="0.9" fill="#555" opacity="0.55"/>
<circle cx="406.97" cy="339.78" r="0.9" fill="#555" opacity="0.55"/>
<circle cx="406.75" cy="352.84" r="0.9" fill="#555" opacity="0.55"/>
<circle cx="404.72" cy="351.11" r="0.9" fill="#555" opacity="0.55"/>
<circle cx="404.22" cy="349.95" r="0.9" fill="#555" opacity="0.55"/>
<rect x="362.40" y="294.80" width="56.40" height="87.60" fill="none" stroke="#333" stroke-width="0.9"/>
<path d="M376.40,306.20 L376.40,304.60 L404.50,304.60 L404.50,306.20" fill="none" stroke="#333" stroke-width="0.7"/>
<text x="390.45" y="302.40" font-size="6.5" text-anchor="middle" fill="#222">*</text>
<text x="474.50" y="282.10" font-size="5.5" text-anchor="middle" fill="#222">BIOCARTA</text>
<text x="474.50" y="287.80" font-size="5.5" text-anchor="middle" fill="#222">KERATINOCYTE PATHWAY</text>
<text x="440.70" y="312.40" font-size="6.2" text-anchor="end" fill="#222">0.30</text>
<text x="440.70" y="332.80" font-size="6.2" text-anchor="end" fill="#222">0.28</text>
<text x="440.70" y="353.60" font-size="6.2" text-anchor="end" fill="#222">0.26</text>
<text x="440.70" y="374.70" font-size="6.2" text-anchor="end" fill="#222">0.24</text>
<line x1="460.30" y1="310.10" x2="460.30" y2="324.00" stroke="#4a4a4a" stroke-width="1.0"/>
<line x1="460.30" y1="334.50" x2="460.30" y2="339.50" stroke="#4a4a4a" stroke-width="1.0"/>
<line x1="455.50" y1="310.10" x2="465.10" y2="310.10" stroke="#4a4a4a" stroke-width="1.0"/>
<line x1="455.50" y1="339.50" x2="465.10" y2="339.50" stroke="#4a4a4a" stroke-width="1.0"/>
<rect x="448.90" y="324.00" width="22.80" height="10.50" fill="#88a0cc" stroke="#4a4a4a" stroke-width="1.0"/>
<line x1="448.90" y1="328.40" x2="471.70" y2="328.40" stroke="#4a4a4a" stroke-width="1.3"/>
<circle cx="460.93" cy="310.10" r="0.9" fill="#555" opacity="0.55"/>
<circle cx="458.13" cy="339.50" r="0.9" fill="#555" opacity="0.55"/>
<circle cx="457.87" cy="324.00" r="0.9" fill="#555" opacity="0.55"/>
<circle cx="461.99" cy="334.50" r="0.9" fill="#555" opacity="0.55"/>
<circle cx="459.10" cy="328.40" r="0.9" fill="#555" opacity="0.55"/>
<circle cx="458.97" cy="326.50" r="0.9" fill="#555" opacity="0.55"/>
<circle cx="462.78" cy="329.71" r="0.9" fill="#555" opacity="0.55"/>
<circle cx="460.15" cy="327.88" r="0.9" fill="#555" opacity="0.55"/>
<circle cx="461.98" cy="330.34" r="0.9" fill="#555" opacity="0.55"/>
<line x1="488.40" y1="312.60" x2="488.40" y2="339.50" stroke="#4a4a4a" stroke-width="1.0"/>
<line x1="488.40" y1="360.50" x2="488.40" y2="378.80" stroke="#4a4a4a" stroke-width="1.0"/>
<line x1="483.60" y1="312.60" x2="493.20" y2="312.60" stroke="#4a4a4a" stroke-width="1.0"/>
<line x1="483.60" y1="378.80" x2="493.20" y2="378.80" stroke="#4a4a4a" stroke-width="1.0"/>
<rect x="477.00" y="339.50" width="22.80" height="21.00" fill="#e2a98a" stroke="#4a4a4a" stroke-width="1.0"/>
<line x1="477.00" y1="345.90" x2="499.80" y2="345.90" stroke="#4a4a4a" stroke-width="1.3"/>
<circle cx="489.90" cy="312.60" r="0.9" fill="#555" opacity="0.55"/>
<circle cx="489.73" cy="378.80" r="0.9" fill="#555" opacity="0.55"/>
<circle cx="487.01" cy="339.50" r="0.9" fill="#555" opacity="0.55"/>
<circle cx="488.58" cy="360.50" r="0.9" fill="#555" opacity="0.55"/>
<circle cx="487.28" cy="345.90" r="0.9" fill="#555" opacity="0.55"/>
<circle cx="486.76" cy="344.46" r="0.9" fill="#555" opacity="0.55"/>
<circle cx="486.43" cy="341.67" r="0.9" fill="#555" opacity="0.55"/>
<circle cx="486.97" cy="347.82" r="0.9" fill="#555" opacity="0.55"/>
<circle cx="490.54" cy="342.75" r="0.9" fill="#555" opacity="0.55"/>
<circle cx="490.04" cy="340.90" r="0.9" fill="#555" opacity="0.55"/>
<circle cx="489.93" cy="347.93" r="0.9" fill="#555" opacity="0.55"/>
<circle cx="489.90" cy="358.78" r="0.9" fill="#555" opacity="0.55"/>
<rect x="446.30" y="294.80" width="56.40" height="87.60" fill="none" stroke="#333" stroke-width="0.9"/>
<path d="M460.30,306.20 L460.30,304.60 L488.40,304.60 L488.40,306.20" fill="none" stroke="#333" stroke-width="0.7"/>
<text x="474.35" y="302.40" font-size="6.5" text-anchor="middle" fill="#222">**</text>
<text x="559.50" y="282.10" font-size="5.5" text-anchor="middle" fill="#222">PID</text>
<text x="559.50" y="287.80" font-size="5.5" text-anchor="middle" fill="#222">TXA2PATHWAY</text>
<text x="525.70" y="302.90" font-size="6.2" text-anchor="end" fill="#222">0.275</text>
<text x="525.70" y="318.20" font-size="6.2" text-anchor="end" fill="#222">0.250</text>
<text x="525.70" y="333.80" font-size="6.2" text-anchor="end" fill="#222">0.225</text>
<text x="525.70" y="349.20" font-size="6.2" text-anchor="end" fill="#222">0.200</text>
<text x="525.70" y="364.80" font-size="6.2" text-anchor="end" fill="#222">0.175</text>
<text x="525.70" y="380.30" font-size="6.2" text-anchor="end" fill="#222">0.150</text>
<line x1="545.30" y1="319.20" x2="545.30" y2="322.30" stroke="#4a4a4a" stroke-width="1.0"/>
<line x1="545.30" y1="337.40" x2="545.30" y2="351.20" stroke="#4a4a4a" stroke-width="1.0"/>
<line x1="540.50" y1="319.20" x2="550.10" y2="319.20" stroke="#4a4a4a" stroke-width="1.0"/>
<line x1="540.50" y1="351.20" x2="550.10" y2="351.20" stroke="#4a4a4a" stroke-width="1.0"/>
<rect x="533.90" y="322.30" width="22.80" height="15.10" fill="#88a0cc" stroke="#4a4a4a" stroke-width="1.0"/>
<line x1="533.90" y1="329.10" x2="556.70" y2="329.10" stroke="#4a4a4a" stroke-width="1.3"/>
<circle cx="546.50" cy="319.20" r="0.9" fill="#555" opacity="0.55"/>
<circle cx="547.41" cy="351.20" r="0.9" fill="#555" opacity="0.55"/>
<circle cx="542.95" cy="322.30" r="0.9" fill="#555" opacity="0.55"/>
<circle cx="545.13" cy="337.40" r="0.9" fill="#555" opacity="0.55"/>
<circle cx="547.52" cy="329.10" r="0.9" fill="#555" opacity="0.55"/>
<circle cx="546.04" cy="331.71" r="0.9" fill="#555" opacity="0.55"/>
<circle cx="547.30" cy="333.50" r="0.9" fill="#555" opacity="0.55"/>
<circle cx="543.37" cy="334.31" r="0.9" fill="#555" opacity="0.55"/>
<circle cx="545.15" cy="336.53" r="0.9" fill="#555" opacity="0.55"/>
<line x1="573.40" y1="333.80" x2="573.40" y2="339.30" stroke="#4a4a4a" stroke-width="1.0"/>
<line x1="573.40" y1="355.40" x2="573.40" y2="378.80" stroke="#4a4a4a" stroke-width="1.0"/>
<line x1="568.60" y1="333.80" x2="578.20" y2="333.80" stroke="#4a4a4a" stroke-width="1.0"/>
<line x1="568.60" y1="378.80" x2="578.20" y2="378.80" stroke="#4a4a4a" stroke-width="1.0"/>
<rect x="562.00" y="339.30" width="22.80" height="16.10" fill="#e2a98a" stroke="#4a4a4a" stroke-width="1.0"/>
<line x1="562.00" y1="345.20" x2="584.80" y2="345.20" stroke="#4a4a4a" stroke-width="1.3"/>
<path d="M573.40,309.30 L574.90,311.20 L573.40,313.10 L571.90,311.20 Z" fill="#333"/>
<circle cx="574.70" cy="333.80" r="0.9" fill="#555" opacity="0.55"/>
<circle cx="572.77" cy="378.80" r="0.9" fill="#555" opacity="0.55"/>
<circle cx="574.75" cy="339.30" r="0.9" fill="#555" opacity="0.55"/>
<circle cx="572.26" cy="355.40" r="0.9" fill="#555" opacity="0.55"/>
<circle cx="574.91" cy="345.20" r="0.9" fill="#555" opacity="0.55"/>
<circle cx="574.55" cy="352.07" r="0.9" fill="#555" opacity="0.55"/>
<circle cx="572.97" cy="352.53" r="0.9" fill="#555" opacity="0.55"/>
<circle cx="573.59" cy="347.11" r="0.9" fill="#555" opacity="0.55"/>
<circle cx="574.31" cy="343.51" r="0.9" fill="#555" opacity="0.55"/>
<circle cx="571.86" cy="339.31" r="0.9" fill="#555" opacity="0.55"/>
<circle cx="573.67" cy="349.97" r="0.9" fill="#555" opacity="0.55"/>
<circle cx="574.93" cy="346.87" r="0.9" fill="#555" opacity="0.55"/>
<rect x="531.30" y="294.80" width="56.40" height="87.60" fill="none" stroke="#333" stroke-width="0.9"/>
<path d="M545.30,306.20 L545.30,304.60 L573.40,304.60 L573.40,306.20" fill="none" stroke="#333" stroke-width="0.7"/>
<text x="559.35" y="302.40" font-size="6.5" text-anchor="middle" fill="#222">*</text>
<text x="643.60" y="276.40" font-size="5.5" text-anchor="middle" fill="#222">REACTOME</text>
<text x="643.60" y="282.10" font-size="5.5" text-anchor="middle" fill="#222">SYNTHESIS SECRETION AND</text>
<text x="643.60" y="287.80" font-size="5.5" text-anchor="middle" fill="#222">DEACYLATION OF GHRELIN</text>
<text x="609.80" y="308.80" font-size="6.2" text-anchor="end" fill="#222">0.150</text>
<text x="609.80" y="324.40" font-size="6.2" text-anchor="end" fill="#222">0.125</text>
<text x="609.80" y="339.70" font-size="6.2" text-anchor="end" fill="#222">0.100</text>
<text x="609.80" y="355.30" font-size="6.2" text-anchor="end" fill="#222">0.075</text>
<text x="609.80" y="370.60" font-size="6.2" text-anchor="end" fill="#222">0.050</text>
<line x1="629.40" y1="316.40" x2="629.40" y2="332.50" stroke="#4a4a4a" stroke-width="1.0"/>
<line x1="629.40" y1="345.90" x2="629.40" y2="354.40" stroke="#4a4a4a" stroke-width="1.0"/>
<line x1="624.60" y1="316.40" x2="634.20" y2="316.40" stroke="#4a4a4a" stroke-width="1.0"/>
<line x1="624.60" y1="354.40" x2="634.20" y2="354.40" stroke="#4a4a4a" stroke-width="1.0"/>
<rect x="618.00" y="332.50" width="22.80" height="13.40" fill="#88a0cc" stroke="#4a4a4a" stroke-width="1.0"/>
<line x1="618.00" y1="335.30" x2="640.80" y2="335.30" stroke="#4a4a4a" stroke-width="1.3"/>
<path d="M629.40,309.30 L630.90,311.20 L629.40,313.10 L627.90,311.20 Z" fill="#333"/>
<circle cx="629.58" cy="316.40" r="0.9" fill="#555" opacity="0.55"/>
<circle cx="628.73" cy="354.40" r="0.9" fill="#555" opacity="0.55"/>
<circle cx="627.19" cy="332.50" r="0.9" fill="#555" opacity="0.55"/>
<circle cx="629.44" cy="345.90" r="0.9" fill="#555" opacity="0.55"/>
<circle cx="627.09" cy="335.30" r="0.9" fill="#555" opacity="0.55"/>
<circle cx="629.07" cy="336.84" r="0.9" fill="#555" opacity="0.55"/>
<circle cx="627.25" cy="334.52" r="0.9" fill="#555" opacity="0.55"/>
<circle cx="627.35" cy="341.22" r="0.9" fill="#555" opacity="0.55"/>
<circle cx="629.02" cy="333.47" r="0.9" fill="#555" opacity="0.55"/>
<line x1="657.50" y1="337.20" x2="657.50" y2="346.40" stroke="#4a4a4a" stroke-width="1.0"/>
<line x1="657.50" y1="367.50" x2="657.50" y2="378.80" stroke="#4a4a4a" stroke-width="1.0"/>
<line x1="652.70" y1="337.20" x2="662.30" y2="337.20" stroke="#4a4a4a" stroke-width="1.0"/>
<line x1="652.70" y1="378.80" x2="662.30" y2="378.80" stroke="#4a4a4a" stroke-width="1.0"/>
<rect x="646.10" y="346.40" width="22.80" height="21.10" fill="#e2a98a" stroke="#4a4a4a" stroke-width="1.0"/>
<line x1="646.10" y1="359.30" x2="668.90" y2="359.30" stroke="#4a4a4a" stroke-width="1.3"/>
<circle cx="656.05" cy="337.20" r="0.9" fill="#555" opacity="0.55"/>
<circle cx="658.21" cy="378.80" r="0.9" fill="#555" opacity="0.55"/>
<circle cx="657.30" cy="346.40" r="0.9" fill="#555" opacity="0.55"/>
<circle cx="657.27" cy="367.50" r="0.9" fill="#555" opacity="0.55"/>
<circle cx="657.47" cy="359.30" r="0.9" fill="#555" opacity="0.55"/>
<circle cx="655.96" cy="351.18" r="0.9" fill="#555" opacity="0.55"/>
<circle cx="659.15" cy="366.70" r="0.9" fill="#555" opacity="0.55"/>
<circle cx="655.45" cy="349.07" r="0.9" fill="#555" opacity="0.55"/>
<circle cx="656.17" cy="361.27" r="0.9" fill="#555" opacity="0.55"/>
<circle cx="655.10" cy="348.20" r="0.9" fill="#555" opacity="0.55"/>
<circle cx="656.33" cy="351.62" r="0.9" fill="#555" opacity="0.55"/>
<circle cx="657.04" cy="367.48" r="0.9" fill="#555" opacity="0.55"/>
<rect x="615.40" y="294.80" width="56.40" height="87.60" fill="none" stroke="#333" stroke-width="0.9"/>
<path d="M629.40,306.20 L629.40,304.60 L657.50,304.60 L657.50,306.20" fill="none" stroke="#333" stroke-width="0.7"/>
<text x="643.45" y="302.40" font-size="6.5" text-anchor="middle" fill="#222">**</text>
<text x="341.50" y="338.60" font-size="6.6" text-anchor="middle" fill="#222" transform="rotate(-90 341.50 338.60)">Signature Score</text>
<text x="390.60" y="413.40" font-size="5.5" text-anchor="middle" fill="#222">KEGG</text>
<text x="390.60" y="419.10" font-size="5.5" text-anchor="middle" fill="#222">CALCIUM SIGNALING PATHWAY</text>
<text x="356.80" y="436.20" font-size="6.2" text-anchor="end" fill="#222">0.12</text>
<text x="356.80" y="456.90" font-size="6.2" text-anchor="end" fill="#222">0.10</text>
<text x="356.80" y="478.10" font-size="6.2" text-anchor="end" fill="#222">0.08</text>
<text x="356.80" y="499.40" font-size="6.2" text-anchor="end" fill="#222">0.06</text>
<line x1="376.40" y1="441.40" x2="376.40" y2="451.20" stroke="#4a4a4a" stroke-width="1.0"/>
<line x1="376.40" y1="460.70" x2="376.40" y2="461.00" stroke="#4a4a4a" stroke-width="1.0"/>
<line x1="371.60" y1="441.40" x2="381.20" y2="441.40" stroke="#4a4a4a" stroke-width="1.0"/>
<line x1="371.60" y1="461.00" x2="381.20" y2="461.00" stroke="#4a4a4a" stroke-width="1.0"/>
<rect x="365.00" y="451.20" width="22.80" height="9.50" fill="#88a0cc" stroke="#4a4a4a" stroke-width="1.0"/>
<line x1="365.00" y1="455.10" x2="387.80" y2="455.10" stroke="#4a4a4a" stroke-width="1.3"/>
<path d="M376.40,472.70 L377.90,474.60 L376.40,476.50 L374.90,474.60 Z" fill="#333"/>
<circle cx="373.93" cy="441.40" r="0.9" fill="#555" opacity="0.55"/>
<circle cx="376.41" cy="461.00" r="0.9" fill="#555" opacity="0.55"/>
<circle cx="378.39" cy="451.20" r="0.9" fill="#555" opacity="0.55"/>
<circle cx="374.30" cy="460.70" r="0.9" fill="#555" opacity="0.55"/>
<circle cx="376.67" cy="455.10" r="0.9" fill="#555" opacity="0.55"/>
<circle cx="376.98" cy="455.60" r="0.9" fill="#555" opacity="0.55"/>
<circle cx="374.10" cy="454.75" r="0.9" fill="#555" opacity="0.55"/>
<circle cx="375.80" cy="452.52" r="0.9" fill="#555" opacity="0.55"/>
<circle cx="377.42" cy="459.43" r="0.9" fill="#555" opacity="0.55"/>
<line x1="404.50" y1="449.00" x2="404.50" y2="463.90" stroke="#4a4a4a" stroke-width="1.0"/>
<line x1="404.50" y1="488.40" x2="404.50" y2="510.30" stroke="#4a4a4a" stroke-width="1.0"/>
<line x1="399.70" y1="449.00" x2="409.30" y2="449.00" stroke="#4a4a4a" stroke-width="1.0"/>
<line x1="399.70" y1="510.30" x2="409.30" y2="510.30" stroke="#4a4a4a" stroke-width="1.0"/>
<rect x="393.10" y="463.90" width="22.80" height="24.50" fill="#e2a98a" stroke="#4a4a4a" stroke-width="1.0"/>
<line x1="393.10" y1="469.70" x2="415.90" y2="469.70" stroke="#4a4a4a" stroke-width="1.3"/>
<circle cx="402.80" cy="449.00" r="0.9" fill="#555" opacity="0.55"/>
<circle cx="404.60" cy="510.30" r="0.9" fill="#555" opacity="0.55"/>
<circle cx="403.64" cy="463.90" r="0.9" fill="#555" opacity="0.55"/>
<circle cx="403.25" cy="488.40" r="0.9" fill="#555" opacity="0.55"/>
<circle cx="406.76" cy="469.70" r="0.9" fill="#555" opacity="0.55"/>
<circle cx="406.98" cy="477.90" r="0.9" fill="#555" opacity="0.55"/>
<circle cx="402.22" cy="474.41" r="0.9" fill="#555" opacity="0.55"/>
<circle cx="406.30" cy="478.06" r="0.9" fill="#555" opacity="0.55"/>
<circle cx="405.02" cy="468.95" r="0.9" fill="#555" opacity="0.55"/>
<circle cx="403.91" cy="483.83" r="0.9" fill="#555" opacity="0.55"/>
<circle cx="403.42" cy="484.08" r="0.9" fill="#555" opacity="0.55"/>
<circle cx="405.37" cy="479.91" r="0.9" fill="#555" opacity="0.55"/>
<rect x="362.40" y="426.10" width="56.40" height="87.50" fill="none" stroke="#333" stroke-width="0.9"/>
<path d="M376.40,437.50 L376.40,435.90 L404.50,435.90 L404.50,437.50" fill="none" stroke="#333" stroke-width="0.7"/>
<text x="390.45" y="433.70" font-size="6.5" text-anchor="middle" fill="#222">**</text>
<text x="474.50" y="413.40" font-size="5.5" text-anchor="middle" fill="#222">BIOCARTA</text>
<text x="474.50" y="419.10" font-size="5.5" text-anchor="middle" fill="#222">LAIR PATHWAY</text>
<text x="440.70" y="428.90" font-size="6.2" text-anchor="end" fill="#222">0.35</text>
<text x="440.70" y="446.00" font-size="6.2" text-anchor="end" fill="#222">0.30</text>
<text x="440.70" y="463.20" font-size="6.2" text-anchor="end" fill="#222">0.25</text>
<text x="440.70" y="480.00" font-size="6.2" text-anchor="end" fill="#222">0.20</text>
<text x="440.70" y="497.20" font-size="6.2" text-anchor="end" fill="#222">0.15</text>
<text x="440.70" y="514.30" font-size="6.2" text-anchor="end" fill="#222">0.10</text>
<line x1="460.30" y1="441.40" x2="460.30" y2="460.30" stroke="#4a4a4a" stroke-width="1.0"/>
<line x1="460.30" y1="475.30" x2="460.30" y2="482.60" stroke="#4a4a4a" stroke-width="1.0"/>
<line x1="455.50" y1="441.40" x2="465.10" y2="441.40" stroke="#4a4a4a" stroke-width="1.0"/>
<line x1="455.50" y1="482.60" x2="465.10" y2="482.60" stroke="#4a4a4a" stroke-width="1.0"/>
<rect x="448.90" y="460.30" width="22.80" height="15.00" fill="#88a0cc" stroke="#4a4a4a" stroke-width="1.0"/>
<line x1="448.90" y1="468.70" x2="471.70" y2="468.70" stroke="#4a4a4a" stroke-width="1.3"/>
<circle cx="460.34" cy="441.40" r="0.9" fill="#555" opacity="0.55"/>
<circle cx="460.74" cy="482.60" r="0.9" fill="#555" opacity="0.55"/>
<circle cx="458.72" cy="460.30" r="0.9" fill="#555" opacity="0.55"/>
<circle cx="460.36" cy="475.30" r="0.9" fill="#555" opacity="0.55"/>
<circle cx="460.95" cy="468.70" r="0.9" fill="#555" opacity="0.55"/>
<circle cx="461.76" cy="467.09" r="0.9" fill="#555" opacity="0.55"/>
<circle cx="458.27" cy="468.70" r="0.9" fill="#555" opacity="0.55"/>
<circle cx="459.32" cy="474.16" r="0.9" fill="#555" opacity="0.55"/>
<circle cx="458.25" cy="467.28" r="0.9" fill="#555" opacity="0.55"/>
<line x1="488.40" y1="454.60" x2="488.40" y2="476.80" stroke="#4a4a4a" stroke-width="1.0"/>
<line x1="488.40" y1="495.40" x2="488.40" y2="510.30" stroke="#4a4a4a" stroke-width="1.0"/>
<line x1="483.60" y1="454.60" x2="493.20" y2="454.60" stroke="#4a4a4a" stroke-width="1.0"/>
<line x1="483.60" y1="510.30" x2="493.20" y2="510.30" stroke="#4a4a4a" stroke-width="1.0"/>
<rect x="477.00" y="476.80" width="22.80" height="18.60" fill="#e2a98a" stroke="#4a4a4a" stroke-width="1.0"/>
<line x1="477.00" y1="486.20" x2="499.80" y2="486.20" stroke="#4a4a4a" stroke-width="1.3"/>
<circle cx="489.95" cy="454.60" r="0.9" fill="#555" opacity="0.55"/>
<circle cx="489.35" cy="510.30" r="0.9" fill="#555" opacity="0.55"/>
<circle cx="488.91" cy="476.80" r="0.9" fill="#555" opacity="0.55"/>
<circle cx="488.69" cy="495.40" r="0.9" fill="#555" opacity="0.55"/>
<circle cx="489.21" cy="486.20" r="0.9" fill="#555" opacity="0.55"/>
<circle cx="486.63" cy="485.63" r="0.9" fill="#555" opacity="0.55"/>
<circle cx="488.10" cy="489.03" r="0.9" fill="#555" opacity="0.55"/>
<circle cx="486.71" cy="489.20" r="0.9" fill="#555" opacity="0.55"/>
<circle cx="490.43" cy="479.45" r="0.9" fill="#555" opacity="0.55"/>
<circle cx="486.19" cy="477.00" r="0.9" fill="#555" opacity="0.55"/>
<circle cx="489.99" cy="483.77" r="0.9" fill="#555" opacity="0.55"/>
<circle cx="486.27" cy="481.90" r="0.9" fill="#555" opacity="0.55"/>
<rect x="446.30" y="426.10" width="56.40" height="87.50" fill="none" stroke="#333" stroke-width="0.9"/>
<path d="M460.30,437.50 L460.30,435.90 L488.40,435.90 L488.40,437.50" fill="none" stroke="#333" stroke-width="0.7"/>
<text x="474.35" y="433.70" font-size="6.5" text-anchor="middle" fill="#222">*</text>
<text x="559.50" y="407.70" font-size="5.5" text-anchor="middle" fill="#222">REACTOME</text>
<text x="559.50" y="413.40" font-size="5.5" text-anchor="middle" fill="#222">G ALPHA Q</text>
<text x="559.50" y="419.10" font-size="5.5" text-anchor="middle" fill="#222">SIGNALLING EVENTS</text>
<text x="525.70" y="436.20" font-size="6.2" text-anchor="end" fill="#222">0.06</text>
<text x="525.70" y="456.40" font-size="6.2" text-anchor="end" fill="#222">0.04</text>
<text x="525.70" y="476.70" font-size="6.2" text-anchor="end" fill="#222">0.02</text>
<text x="525.70" y="496.80" font-size="6.2" text-anchor="end" fill="#222">0.00</text>
<line x1="545.30" y1="441.40" x2="545.30" y2="454.10" stroke="#4a4a4a" stroke-width="1.0"/>
<line x1="545.30" y1="466.50" x2="545.30" y2="475.00" stroke="#4a4a4a" stroke-width="1.0"/>
<line x1="540.50" y1="441.40" x2="550.10" y2="441.40" stroke="#4a4a4a" stroke-width="1.0"/>
<line x1="540.50" y1="475.00" x2="550.10" y2="475.00" stroke="#4a4a4a" stroke-width="1.0"/>
<rect x="533.90" y="454.10" width="22.80" height="12.40" fill="#88a0cc" stroke="#4a4a4a" stroke-width="1.0"/>
<line x1="533.90" y1="459.20" x2="556.70" y2="459.20" stroke="#4a4a4a" stroke-width="1.3"/>
<circle cx="543.73" cy="441.40" r="0.9" fill="#555" opacity="0.55"/>
<circle cx="543.95" cy="475.00" r="0.9" fill="#555" opacity="0.55"/>
<circle cx="543.54" cy="454.10" r="0.9" fill="#555" opacity="0.55"/>
<circle cx="543.93" cy="466.50" r="0.9" fill="#555" opacity="0.55"/>
<circle cx="546.47" cy="459.20" r="0.9" fill="#555" opacity="0.55"/>
<circle cx="543.45" cy="457.31" r="0.9" fill="#555" opacity="0.55"/>
<circle cx="545.46" cy="462.60" r="0.9" fill="#555" opacity="0.55"/>
<circle cx="543.87" cy="462.58" r="0.9" fill="#555" opacity="0.55"/>
<circle cx="544.27" cy="464.63" r="0.9" fill="#555" opacity="0.55"/>
<line x1="573.40" y1="444.90" x2="573.40" y2="467.60" stroke="#4a4a4a" stroke-width="1.0"/>
<line x1="573.40" y1="489.20" x2="573.40" y2="510.00" stroke="#4a4a4a" stroke-width="1.0"/>
<line x1="568.60" y1="444.90" x2="578.20" y2="444.90" stroke="#4a4a4a" stroke-width="1.0"/>
<line x1="568.60" y1="510.00" x2="578.20" y2="510.00" stroke="#4a4a4a" stroke-width="1.0"/>
<rect x="562.00" y="467.60" width="22.80" height="21.60" fill="#e2a98a" stroke="#4a4a4a" stroke-width="1.0"/>
<line x1="562.00" y1="476.00" x2="584.80" y2="476.00" stroke="#4a4a4a" stroke-width="1.3"/>
<circle cx="574.19" cy="444.90" r="0.9" fill="#555" opacity="0.55"/>
<circle cx="572.41" cy="510.00" r="0.9" fill="#555" opacity="0.55"/>
<circle cx="574.32" cy="467.60" r="0.9" fill="#555" opacity="0.55"/>
<circle cx="572.88" cy="489.20" r="0.9" fill="#555" opacity="0.55"/>
<circle cx="574.79" cy="476.00" r="0.9" fill="#555" opacity="0.55"/>
<circle cx="571.49" cy="469.91" r="0.9" fill="#555" opacity="0.55"/>
<circle cx="572.02" cy="482.78" r="0.9" fill="#555" opacity="0.55"/>
<circle cx="575.41" cy="481.68" r="0.9" fill="#555" opacity="0.55"/>
<circle cx="572.69" cy="487.91" r="0.9" fill="#555" opacity="0.55"/>
<circle cx="572.20" cy="473.46" r="0.9" fill="#555" opacity="0.55"/>
<circle cx="574.92" cy="473.12" r="0.9" fill="#555" opacity="0.55"/>
<circle cx="574.06" cy="483.46" r="0.9" fill="#555" opacity="0.55"/>
<rect x="531.30" y="426.10" width="56.40" height="87.50" fill="none" stroke="#333" stroke-width="0.9"/>
<path d="M545.30,437.50 L545.30,435.90 L573.40,435.90 L573.40,437.50" fill="none" stroke="#333" stroke-width="0.7"/>
<text x="559.35" y="433.70" font-size="6.5" text-anchor="middle" fill="#222">*</text>
<text x="643.60" y="407.70" font-size="5.5" text-anchor="middle" fill="#222">REACTOME</text>
<text x="643.60" y="413.40" font-size="5.5" text-anchor="middle" fill="#222">INTERACTION BETWEEN L1</text>
<text x="643.60" y="419.10" font-size="5.5" text-anchor="middle" fill="#222">AND ANKYRINS</text>
<text x="609.80" y="440.60" font-size="6.2" text-anchor="end" fill="#222">0.150</text>
<text x="609.80" y="454.90" font-size="6.2" text-anchor="end" fill="#222">0.125</text>
<text x="609.80" y="469.10" font-size="6.2" text-anchor="end" fill="#222">0.100</text>
<text x="609.80" y="483.20" font-size="6.2" text-anchor="end" fill="#222">0.075</text>
<text x="609.80" y="497.50" font-size="6.2" text-anchor="end" fill="#222">0.050</text>
<text x="609.80" y="511.70" font-size="6.2" text-anchor="end" fill="#222">0.025</text>
<line x1="629.40" y1="460.30" x2="629.40" y2="461.40" stroke="#4a4a4a" stroke-width="1.0"/>
<line x1="629.40" y1="466.50" x2="629.40" y2="467.00" stroke="#4a4a4a" stroke-width="1.0"/>
<line x1="624.60" y1="460.30" x2="634.20" y2="460.30" stroke="#4a4a4a" stroke-width="1.0"/>
<line x1="624.60" y1="467.00" x2="634.20" y2="467.00" stroke="#4a4a4a" stroke-width="1.0"/>
<rect x="618.00" y="461.40" width="22.80" height="5.10" fill="#88a0cc" stroke="#4a4a4a" stroke-width="1.0"/>
<line x1="618.00" y1="465.00" x2="640.80" y2="465.00" stroke="#4a4a4a" stroke-width="1.3"/>
<path d="M629.40,440.50 L630.90,442.40 L629.40,444.30 L627.90,442.40 Z" fill="#333"/>
<path d="M629.40,482.40 L630.90,484.30 L629.40,486.20 L627.90,484.30 Z" fill="#333"/>
<circle cx="631.83" cy="460.30" r="0.9" fill="#555" opacity="0.55"/>
<circle cx="626.98" cy="467.00" r="0.9" fill="#555" opacity="0.55"/>
<circle cx="631.30" cy="461.40" r="0.9" fill="#555" opacity="0.55"/>
<circle cx="630.31" cy="466.50" r="0.9" fill="#555" opacity="0.55"/>
<circle cx="631.19" cy="465.00" r="0.9" fill="#555" opacity="0.55"/>
<circle cx="631.90" cy="466.32" r="0.9" fill="#555" opacity="0.55"/>
<circle cx="628.10" cy="461.46" r="0.9" fill="#555" opacity="0.55"/>
<circle cx="628.59" cy="465.15" r="0.9" fill="#555" opacity="0.55"/>
<circle cx="630.44" cy="462.21" r="0.9" fill="#555" opacity="0.55"/>
<line x1="657.50" y1="471.60" x2="657.50" y2="475.30" stroke="#4a4a4a" stroke-width="1.0"/>
<line x1="657.50" y1="494.70" x2="657.50" y2="510.30" stroke="#4a4a4a" stroke-width="1.0"/>
<line x1="652.70" y1="471.60" x2="662.30" y2="471.60" stroke="#4a4a4a" stroke-width="1.0"/>
<line x1="652.70" y1="510.30" x2="662.30" y2="510.30" stroke="#4a4a4a" stroke-width="1.0"/>
<rect x="646.10" y="475.30" width="22.80" height="19.40" fill="#e2a98a" stroke="#4a4a4a" stroke-width="1.0"/>
<line x1="646.10" y1="484.30" x2="668.90" y2="484.30" stroke="#4a4a4a" stroke-width="1.3"/>
<circle cx="658.17" cy="471.60" r="0.9" fill="#555" opacity="0.55"/>
<circle cx="655.05" cy="510.30" r="0.9" fill="#555" opacity="0.55"/>
<circle cx="656.51" cy="475.30" r="0.9" fill="#555" opacity="0.55"/>
<circle cx="656.68" cy="494.70" r="0.9" fill="#555" opacity="0.55"/>
<circle cx="655.71" cy="484.30" r="0.9" fill="#555" opacity="0.55"/>
<circle cx="658.72" cy="482.31" r="0.9" fill="#555" opacity="0.55"/>
<circle cx="656.55" cy="484.62" r="0.9" fill="#555" opacity="0.55"/>
<circle cx="658.95" cy="483.39" r="0.9" fill="#555" opacity="0.55"/>
<circle cx="659.78" cy="483.97" r="0.9" fill="#555" opacity="0.55"/>
<circle cx="656.27" cy="483.24" r="0.9" fill="#555" opacity="0.55"/>
<circle cx="659.47" cy="488.06" r="0.9" fill="#555" opacity="0.55"/>
<circle cx="659.04" cy="480.32" r="0.9" fill="#555" opacity="0.55"/>
<rect x="615.40" y="426.10" width="56.40" height="87.50" fill="none" stroke="#333" stroke-width="0.9"/>
<path d="M629.40,437.50 L629.40,435.90 L657.50,435.90 L657.50,437.50" fill="none" stroke="#333" stroke-width="0.7"/>
<text x="643.45" y="433.70" font-size="6.5" text-anchor="middle" fill="#222">***</text>
<text x="341.50" y="469.85" font-size="6.6" text-anchor="middle" fill="#222" transform="rotate(-90 341.50 469.85)">Signature Score</text>
<text x="390.60" y="533.20" font-size="5.5" text-anchor="middle" fill="#222">REACTOME</text>
<text x="390.60" y="538.90" font-size="5.5" text-anchor="middle" fill="#222">GASTRIN CREB SIGNALLING</text>
<text x="390.60" y="544.60" font-size="5.5" text-anchor="middle" fill="#222">PATHWAY VIA PKC</text>
<text x="390.60" y="550.30" font-size="5.5" text-anchor="middle" fill="#222">AND MAPK</text>
<text x="356.80" y="562.10" font-size="6.2" text-anchor="end" fill="#222">0.26</text>
<text x="356.80" y="576.90" font-size="6.2" text-anchor="end" fill="#222">0.24</text>
<text x="356.80" y="592.00" font-size="6.2" text-anchor="end" fill="#222">0.22</text>
<text x="356.80" y="607.00" font-size="6.2" text-anchor="end" fill="#222">0.20</text>
<text x="356.80" y="622.20" font-size="6.2" text-anchor="end" fill="#222">0.18</text>
<text x="356.80" y="637.20" font-size="6.2" text-anchor="end" fill="#222">0.16</text>
<line x1="376.40" y1="572.40" x2="376.40" y2="576.30" stroke="#4a4a4a" stroke-width="1.0"/>
<line x1="376.40" y1="594.60" x2="376.40" y2="609.50" stroke="#4a4a4a" stroke-width="1.0"/>
<line x1="371.60" y1="572.40" x2="381.20" y2="572.40" stroke="#4a4a4a" stroke-width="1.0"/>
<line x1="371.60" y1="609.50" x2="381.20" y2="609.50" stroke="#4a4a4a" stroke-width="1.0"/>
<rect x="365.00" y="576.30" width="22.80" height="18.30" fill="#88a0cc" stroke="#4a4a4a" stroke-width="1.0"/>
<line x1="365.00" y1="582.90" x2="387.80" y2="582.90" stroke="#4a4a4a" stroke-width="1.3"/>
<circle cx="377.73" cy="572.40" r="0.9" fill="#555" opacity="0.55"/>
<circle cx="377.42" cy="609.50" r="0.9" fill="#555" opacity="0.55"/>
<circle cx="377.21" cy="576.30" r="0.9" fill="#555" opacity="0.55"/>
<circle cx="374.45" cy="594.60" r="0.9" fill="#555" opacity="0.55"/>
<circle cx="374.03" cy="582.90" r="0.9" fill="#555" opacity="0.55"/>
<circle cx="375.82" cy="585.85" r="0.9" fill="#555" opacity="0.55"/>
<circle cx="377.63" cy="591.06" r="0.9" fill="#555" opacity="0.55"/>
<circle cx="375.16" cy="593.88" r="0.9" fill="#555" opacity="0.55"/>
<circle cx="376.41" cy="581.60" r="0.9" fill="#555" opacity="0.55"/>
<line x1="404.50" y1="575.30" x2="404.50" y2="595.30" stroke="#4a4a4a" stroke-width="1.0"/>
<line x1="404.50" y1="613.50" x2="404.50" y2="627.00" stroke="#4a4a4a" stroke-width="1.0"/>
<line x1="399.70" y1="575.30" x2="409.30" y2="575.30" stroke="#4a4a4a" stroke-width="1.0"/>
<line x1="399.70" y1="627.00" x2="409.30" y2="627.00" stroke="#4a4a4a" stroke-width="1.0"/>
<rect x="393.10" y="595.30" width="22.80" height="18.20" fill="#e2a98a" stroke="#4a4a4a" stroke-width="1.0"/>
<line x1="393.10" y1="605.50" x2="415.90" y2="605.50" stroke="#4a4a4a" stroke-width="1.3"/>
<path d="M404.50,639.80 L406.00,641.70 L404.50,643.60 L403.00,641.70 Z" fill="#333"/>
<circle cx="404.29" cy="575.30" r="0.9" fill="#555" opacity="0.55"/>
<circle cx="403.32" cy="627.00" r="0.9" fill="#555" opacity="0.55"/>
<circle cx="403.27" cy="595.30" r="0.9" fill="#555" opacity="0.55"/>
<circle cx="405.46" cy="613.50" r="0.9" fill="#555" opacity="0.55"/>
<circle cx="403.62" cy="605.50" r="0.9" fill="#555" opacity="0.55"/>
<circle cx="405.37" cy="598.60" r="0.9" fill="#555" opacity="0.55"/>
<circle cx="405.94" cy="607.34" r="0.9" fill="#555" opacity="0.55"/>
<circle cx="406.33" cy="601.39" r="0.9" fill="#555" opacity="0.55"/>
<circle cx="406.72" cy="598.90" r="0.9" fill="#555" opacity="0.55"/>
<circle cx="403.17" cy="604.21" r="0.9" fill="#555" opacity="0.55"/>
<circle cx="403.19" cy="604.29" r="0.9" fill="#555" opacity="0.55"/>
<circle cx="405.67" cy="604.03" r="0.9" fill="#555" opacity="0.55"/>
<rect x="362.40" y="557.30" width="56.40" height="88.10" fill="none" stroke="#333" stroke-width="0.9"/>
<path d="M376.40,568.70 L376.40,567.10 L404.50,567.10 L404.50,568.70" fill="none" stroke="#333" stroke-width="0.7"/>
<text x="390.45" y="564.90" font-size="6.5" text-anchor="middle" fill="#222">*</text>
<text x="474.50" y="538.90" font-size="5.5" text-anchor="middle" fill="#222">REACTOME</text>
<text x="474.50" y="544.60" font-size="5.5" text-anchor="middle" fill="#222">ION TRANSPORT BY</text>
<text x="474.50" y="550.30" font-size="5.5" text-anchor="middle" fill="#222">P TYPE ATPASES</text>
<text x="440.70" y="566.40" font-size="6.2" text-anchor="end" fill="#222">0.20</text>
<text x="440.70" y="586.10" font-size="6.2" text-anchor="end" fill="#222">0.19</text>
<text x="440.70" y="605.80" font-size="6.2" text-anchor="end" fill="#222">0.18</text>
<text x="440.70" y="625.60" font-size="6.2" text-anchor="end" fill="#222">0.17</text>
<text x="440.70" y="645.30" font-size="6.2" text-anchor="end" fill="#222">0.16</text>
<line x1="460.30" y1="572.40" x2="460.30" y2="574.40" stroke="#4a4a4a" stroke-width="1.0"/>
<line x1="460.30" y1="594.60" x2="460.30" y2="619.00" stroke="#4a4a4a" stroke-width="1.0"/>
<line x1="455.50" y1="572.40" x2="465.10" y2="572.40" stroke="#4a4a4a" stroke-width="1.0"/>
<line x1="455.50" y1="619.00" x2="465.10" y2="619.00" stroke="#4a4a4a" stroke-width="1.0"/>
<rect x="448.90" y="574.40" width="22.80" height="20.20" fill="#88a0cc" stroke="#4a4a4a" stroke-width="1.0"/>
<line x1="448.90" y1="587.60" x2="471.70" y2="587.60" stroke="#4a4a4a" stroke-width="1.3"/>
<circle cx="459.77" cy="572.40" r="0.9" fill="#555" opacity="0.55"/>
<circle cx="462.78" cy="619.00" r="0.9" fill="#555" opacity="0.55"/>
<circle cx="459.25" cy="574.40" r="0.9" fill="#555" opacity="0.55"/>
<circle cx="458.54" cy="594.60" r="0.9" fill="#555" opacity="0.55"/>
<circle cx="459.11" cy="587.60" r="0.9" fill="#555" opacity="0.55"/>
<circle cx="459.10" cy="588.08" r="0.9" fill="#555" opacity="0.55"/>
<circle cx="459.44" cy="590.26" r="0.9" fill="#555" opacity="0.55"/>
<circle cx="459.14" cy="584.91" r="0.9" fill="#555" opacity="0.55"/>
<circle cx="458.34" cy="584.73" r="0.9" fill="#555" opacity="0.55"/>
<line x1="488.40" y1="582.40" x2="488.40" y2="597.50" stroke="#4a4a4a" stroke-width="1.0"/>
<line x1="488.40" y1="615.40" x2="488.40" y2="641.60" stroke="#4a4a4a" stroke-width="1.0"/>
<line x1="483.60" y1="582.40" x2="493.20" y2="582.40" stroke="#4a4a4a" stroke-width="1.0"/>
<line x1="483.60" y1="641.60" x2="493.20" y2="641.60" stroke="#4a4a4a" stroke-width="1.0"/>
<rect x="477.00" y="597.50" width="22.80" height="17.90" fill="#e2a98a" stroke="#4a4a4a" stroke-width="1.0"/>
<line x1="477.00" y1="605.50" x2="499.80" y2="605.50" stroke="#4a4a4a" stroke-width="1.3"/>
<circle cx="490.26" cy="582.40" r="0.9" fill="#555" opacity="0.55"/>
<circle cx="488.76" cy="641.60" r="0.9" fill="#555" opacity="0.55"/>
<circle cx="486.75" cy="597.50" r="0.9" fill="#555" opacity="0.55"/>
<circle cx="487.96" cy="615.40" r="0.9" fill="#555" opacity="0.55"/>
<circle cx="490.87" cy="605.50" r="0.9" fill="#555" opacity="0.55"/>
<circle cx="486.42" cy="613.71" r="0.9" fill="#555" opacity="0.55"/>
<circle cx="487.50" cy="609.78" r="0.9" fill="#555" opacity="0.55"/>
<circle cx="490.65" cy="611.22" r="0.9" fill="#555" opacity="0.55"/>
<circle cx="488.15" cy="613.69" r="0.9" fill="#555" opacity="0.55"/>
<circle cx="486.94" cy="602.15" r="0.9" fill="#555" opacity="0.55"/>
<circle cx="487.48" cy="608.88" r="0.9" fill="#555" opacity="0.55"/>
<circle cx="490.44" cy="613.70" r="0.9" fill="#555" opacity="0.55"/>
<rect x="446.30" y="557.30" width="56.40" height="88.10" fill="none" stroke="#333" stroke-width="0.9"/>
<path d="M460.30,568.70 L460.30,567.10 L488.40,567.10 L488.40,568.70" fill="none" stroke="#333" stroke-width="0.7"/>
<text x="474.35" y="564.90" font-size="6.5" text-anchor="middle" fill="#222">*</text>
<text x="559.50" y="544.60" font-size="5.5" text-anchor="middle" fill="#222">PID</text>
<text x="559.50" y="550.30" font-size="5.5" text-anchor="middle" fill="#222">FOXM1 PATHWAY</text>
<text x="525.70" y="562.10" font-size="6.2" text-anchor="end" fill="#222">0.32</text>
<text x="525.70" y="576.70" font-size="6.2" text-anchor="end" fill="#222">0.30</text>
<text x="525.70" y="591.50" font-size="6.2" text-anchor="end" fill="#222">0.28</text>
<text x="525.70" y="606.10" font-size="6.2" text-anchor="end" fill="#222">0.26</text>
<text x="525.70" y="620.90" font-size="6.2" text-anchor="end" fill="#222">0.24</text>
<text x="525.70" y="635.30" font-size="6.2" text-anchor="end" fill="#222">0.22</text>
<line x1="545.30" y1="625.20" x2="545.30" y2="626.20" stroke="#4a4a4a" stroke-width="1.0"/>
<line x1="545.30" y1="633.20" x2="545.30" y2="641.40" stroke="#4a4a4a" stroke-width="1.0"/>
<line x1="540.50" y1="625.20" x2="550.10" y2="625.20" stroke="#4a4a4a" stroke-width="1.0"/>
<line x1="540.50" y1="641.40" x2="550.10" y2="641.40" stroke="#4a4a4a" stroke-width="1.0"/>
<rect x="533.90" y="626.20" width="22.80" height="7.00" fill="#88a0cc" stroke="#4a4a4a" stroke-width="1.0"/>
<line x1="533.90" y1="628.90" x2="556.70" y2="628.90" stroke="#4a4a4a" stroke-width="1.3"/>
<circle cx="543.88" cy="625.20" r="0.9" fill="#555" opacity="0.55"/>
<circle cx="546.76" cy="641.40" r="0.9" fill="#555" opacity="0.55"/>
<circle cx="546.84" cy="626.20" r="0.9" fill="#555" opacity="0.55"/>
<circle cx="545.36" cy="633.20" r="0.9" fill="#555" opacity="0.55"/>
<circle cx="545.33" cy="628.90" r="0.9" fill="#555" opacity="0.55"/>
<circle cx="543.98" cy="627.35" r="0.9" fill="#555" opacity="0.55"/>
<circle cx="542.82" cy="631.03" r="0.9" fill="#555" opacity="0.55"/>
<circle cx="544.66" cy="630.64" r="0.9" fill="#555" opacity="0.55"/>
<circle cx="545.73" cy="629.55" r="0.9" fill="#555" opacity="0.55"/>
<line x1="573.40" y1="582.60" x2="573.40" y2="606.50" stroke="#4a4a4a" stroke-width="1.0"/>
<line x1="573.40" y1="627.40" x2="573.40" y2="632.20" stroke="#4a4a4a" stroke-width="1.0"/>
<line x1="568.60" y1="582.60" x2="578.20" y2="582.60" stroke="#4a4a4a" stroke-width="1.0"/>
<line x1="568.60" y1="632.20" x2="578.20" y2="632.20" stroke="#4a4a4a" stroke-width="1.0"/>
<rect x="562.00" y="606.50" width="22.80" height="20.90" fill="#e2a98a" stroke="#4a4a4a" stroke-width="1.0"/>
<line x1="562.00" y1="620.10" x2="584.80" y2="620.10" stroke="#4a4a4a" stroke-width="1.3"/>
<path d="M573.40,571.80 L574.90,573.70 L573.40,575.60 L571.90,573.70 Z" fill="#333"/>
<circle cx="572.63" cy="582.60" r="0.9" fill="#555" opacity="0.55"/>
<circle cx="575.35" cy="632.20" r="0.9" fill="#555" opacity="0.55"/>
<circle cx="572.06" cy="606.50" r="0.9" fill="#555" opacity="0.55"/>
<circle cx="575.70" cy="627.40" r="0.9" fill="#555" opacity="0.55"/>
<circle cx="572.50" cy="620.10" r="0.9" fill="#555" opacity="0.55"/>
<circle cx="573.91" cy="626.53" r="0.9" fill="#555" opacity="0.55"/>
<circle cx="575.56" cy="609.43" r="0.9" fill="#555" opacity="0.55"/>
<circle cx="574.33" cy="606.99" r="0.9" fill="#555" opacity="0.55"/>
<circle cx="575.52" cy="627.37" r="0.9" fill="#555" opacity="0.55"/>
<circle cx="574.44" cy="610.35" r="0.9" fill="#555" opacity="0.55"/>
<circle cx="571.14" cy="609.02" r="0.9" fill="#555" opacity="0.55"/>
<circle cx="575.31" cy="620.11" r="0.9" fill="#555" opacity="0.55"/>
<rect x="531.30" y="557.30" width="56.40" height="88.10" fill="none" stroke="#333" stroke-width="0.9"/>
<path d="M545.30,568.70 L545.30,567.10 L573.40,567.10 L573.40,568.70" fill="none" stroke="#333" stroke-width="0.7"/>
<text x="559.35" y="564.90" font-size="6.5" text-anchor="middle" fill="#222">*</text>
<text x="643.60" y="538.90" font-size="5.5" text-anchor="middle" fill="#222">REACTOME</text>
<text x="643.60" y="544.60" font-size="5.5" text-anchor="middle" fill="#222">MITOTIC G2 G2</text>
<text x="643.60" y="550.30" font-size="5.5" text-anchor="middle" fill="#222">M PHASES</text>
<text x="609.80" y="578.10" font-size="6.2" text-anchor="end" fill="#222">0.34</text>
<text x="609.80" y="601.20" font-size="6.2" text-anchor="end" fill="#222">0.32</text>
<text x="609.80" y="624.10" font-size="6.2" text-anchor="end" fill="#222">0.30</text>
<line x1="629.40" y1="613.80" x2="629.40" y2="617.50" stroke="#4a4a4a" stroke-width="1.0"/>
<line x1="629.40" y1="624.80" x2="629.40" y2="625.50" stroke="#4a4a4a" stroke-width="1.0"/>
<line x1="624.60" y1="613.80" x2="634.20" y2="613.80" stroke="#4a4a4a" stroke-width="1.0"/>
<line x1="624.60" y1="625.50" x2="634.20" y2="625.50" stroke="#4a4a4a" stroke-width="1.0"/>
<rect x="618.00" y="617.50" width="22.80" height="7.30" fill="#88a0cc" stroke="#4a4a4a" stroke-width="1.0"/>
<line x1="618.00" y1="619.00" x2="640.80" y2="619.00" stroke="#4a4a4a" stroke-width="1.3"/>
<path d="M629.40,639.80 L630.90,641.70 L629.40,643.60 L627.90,641.70 Z" fill="#333"/>
<circle cx="629.86" cy="613.80" r="0.9" fill="#555" opacity="0.55"/>
<circle cx="629.02" cy="625.50" r="0.9" fill="#555" opacity="0.55"/>
<circle cx="629.55" cy="617.50" r="0.9" fill="#555" opacity="0.55"/>
<circle cx="627.55" cy="624.80" r="0.9" fill="#555" opacity="0.55"/>
<circle cx="627.86" cy="619.00" r="0.9" fill="#555" opacity="0.55"/>
<circle cx="629.12" cy="624.25" r="0.9" fill="#555" opacity="0.55"/>
<circle cx="628.01" cy="624.42" r="0.9" fill="#555" opacity="0.55"/>
<circle cx="629.18" cy="624.01" r="0.9" fill="#555" opacity="0.55"/>
<circle cx="627.02" cy="618.11" r="0.9" fill="#555" opacity="0.55"/>
<line x1="657.50" y1="586.50" x2="657.50" y2="602.30" stroke="#4a4a4a" stroke-width="1.0"/>
<line x1="657.50" y1="615.70" x2="657.50" y2="622.70" stroke="#4a4a4a" stroke-width="1.0"/>
<line x1="652.70" y1="586.50" x2="662.30" y2="586.50" stroke="#4a4a4a" stroke-width="1.0"/>
<line x1="652.70" y1="622.70" x2="662.30" y2="622.70" stroke="#4a4a4a" stroke-width="1.0"/>
<rect x="646.10" y="602.30" width="22.80" height="13.40" fill="#e2a98a" stroke="#4a4a4a" stroke-width="1.0"/>
<line x1="646.10" y1="609.50" x2="668.90" y2="609.50" stroke="#4a4a4a" stroke-width="1.3"/>
<path d="M657.50,572.20 L659.00,574.10 L657.50,576.00 L656.00,574.10 Z" fill="#333"/>
<circle cx="658.79" cy="586.50" r="0.9" fill="#555" opacity="0.55"/>
<circle cx="655.76" cy="622.70" r="0.9" fill="#555" opacity="0.55"/>
<circle cx="658.53" cy="602.30" r="0.9" fill="#555" opacity="0.55"/>
<circle cx="658.62" cy="615.70" r="0.9" fill="#555" opacity="0.55"/>
<circle cx="658.83" cy="609.50" r="0.9" fill="#555" opacity="0.55"/>
<circle cx="657.21" cy="611.85" r="0.9" fill="#555" opacity="0.55"/>
<circle cx="659.33" cy="613.55" r="0.9" fill="#555" opacity="0.55"/>
<circle cx="659.94" cy="604.75" r="0.9" fill="#555" opacity="0.55"/>
<circle cx="655.58" cy="615.68" r="0.9" fill="#555" opacity="0.55"/>
<circle cx="657.58" cy="604.90" r="0.9" fill="#555" opacity="0.55"/>
<circle cx="659.79" cy="611.29" r="0.9" fill="#555" opacity="0.55"/>
<circle cx="658.70" cy="603.53" r="0.9" fill="#555" opacity="0.55"/>
<rect x="615.40" y="557.30" width="56.40" height="88.10" fill="none" stroke="#333" stroke-width="0.9"/>
<path d="M629.40,568.70 L629.40,567.10 L657.50,567.10 L657.50,568.70" fill="none" stroke="#333" stroke-width="0.7"/>
<text x="643.45" y="564.90" font-size="6.5" text-anchor="middle" fill="#222">**</text>
<text x="341.50" y="601.35" font-size="6.6" text-anchor="middle" fill="#222" transform="rotate(-90 341.50 601.35)">Signature Score</text>
<text x="390.60" y="675.80" font-size="5.5" text-anchor="middle" fill="#222">KEGG</text>
<text x="390.60" y="681.50" font-size="5.5" text-anchor="middle" fill="#222">CELL CYCLE</text>
<text x="356.80" y="695.00" font-size="6.2" text-anchor="end" fill="#222">0.32</text>
<text x="356.80" y="710.60" font-size="6.2" text-anchor="end" fill="#222">0.30</text>
<text x="356.80" y="726.40" font-size="6.2" text-anchor="end" fill="#222">0.28</text>
<text x="356.80" y="741.70" font-size="6.2" text-anchor="end" fill="#222">0.26</text>
<text x="356.80" y="757.00" font-size="6.2" text-anchor="end" fill="#222">0.24</text>
<text x="356.80" y="772.60" font-size="6.2" text-anchor="end" fill="#222">0.22</text>
<line x1="376.40" y1="747.20" x2="376.40" y2="750.80" stroke="#4a4a4a" stroke-width="1.0"/>
<line x1="376.40" y1="756.20" x2="376.40" y2="761.40" stroke="#4a4a4a" stroke-width="1.0"/>
<line x1="371.60" y1="747.20" x2="381.20" y2="747.20" stroke="#4a4a4a" stroke-width="1.0"/>
<line x1="371.60" y1="761.40" x2="381.20" y2="761.40" stroke="#4a4a4a" stroke-width="1.0"/>
<rect x="365.00" y="750.80" width="22.80" height="5.40" fill="#88a0cc" stroke="#4a4a4a" stroke-width="1.0"/>
<line x1="365.00" y1="753.80" x2="387.80" y2="753.80" stroke="#4a4a4a" stroke-width="1.3"/>
<path d="M376.40,771.10 L377.90,773.00 L376.40,774.90 L374.90,773.00 Z" fill="#333"/>
<circle cx="378.26" cy="747.20" r="0.9" fill="#555" opacity="0.55"/>
<circle cx="377.08" cy="761.40" r="0.9" fill="#555" opacity="0.55"/>
<circle cx="374.11" cy="750.80" r="0.9" fill="#555" opacity="0.55"/>
<circle cx="378.66" cy="756.20" r="0.9" fill="#555" opacity="0.55"/>
<circle cx="375.18" cy="753.80" r="0.9" fill="#555" opacity="0.55"/>
<circle cx="375.43" cy="752.84" r="0.9" fill="#555" opacity="0.55"/>
<circle cx="376.02" cy="755.80" r="0.9" fill="#555" opacity="0.55"/>
<circle cx="376.84" cy="755.35" r="0.9" fill="#555" opacity="0.55"/>
<circle cx="374.52" cy="751.96" r="0.9" fill="#555" opacity="0.55"/>
<line x1="404.50" y1="725.30" x2="404.50" y2="735.80" stroke="#4a4a4a" stroke-width="1.0"/>
<line x1="404.50" y1="745.00" x2="404.50" y2="750.40" stroke="#4a4a4a" stroke-width="1.0"/>
<line x1="399.70" y1="725.30" x2="409.30" y2="725.30" stroke="#4a4a4a" stroke-width="1.0"/>
<line x1="399.70" y1="750.40" x2="409.30" y2="750.40" stroke="#4a4a4a" stroke-width="1.0"/>
<rect x="393.10" y="735.80" width="22.80" height="9.20" fill="#e2a98a" stroke="#4a4a4a" stroke-width="1.0"/>
<line x1="393.10" y1="741.40" x2="415.90" y2="741.40" stroke="#4a4a4a" stroke-width="1.3"/>
<path d="M404.50,703.00 L406.00,704.90 L404.50,706.80 L403.00,704.90 Z" fill="#333"/>
<path d="M404.50,710.00 L406.00,711.90 L404.50,713.80 L403.00,711.90 Z" fill="#333"/>
<circle cx="402.21" cy="725.30" r="0.9" fill="#555" opacity="0.55"/>
<circle cx="405.42" cy="750.40" r="0.9" fill="#555" opacity="0.55"/>
<circle cx="404.51" cy="735.80" r="0.9" fill="#555" opacity="0.55"/>
<circle cx="405.18" cy="745.00" r="0.9" fill="#555" opacity="0.55"/>
<circle cx="406.77" cy="741.40" r="0.9" fill="#555" opacity="0.55"/>
<circle cx="406.93" cy="742.68" r="0.9" fill="#555" opacity="0.55"/>
<circle cx="404.05" cy="737.67" r="0.9" fill="#555" opacity="0.55"/>
<circle cx="406.22" cy="737.69" r="0.9" fill="#555" opacity="0.55"/>
<circle cx="405.93" cy="741.33" r="0.9" fill="#555" opacity="0.55"/>
<circle cx="406.86" cy="736.32" r="0.9" fill="#555" opacity="0.55"/>
<circle cx="402.14" cy="742.94" r="0.9" fill="#555" opacity="0.55"/>
<circle cx="406.69" cy="742.83" r="0.9" fill="#555" opacity="0.55"/>
<rect x="362.40" y="688.50" width="56.40" height="87.90" fill="none" stroke="#333" stroke-width="0.9"/>
<path d="M376.40,699.90 L376.40,698.30 L404.50,698.30 L404.50,699.90" fill="none" stroke="#333" stroke-width="0.7"/>
<text x="390.45" y="696.10" font-size="6.5" text-anchor="middle" fill="#222">***</text>
<text x="474.50" y="675.80" font-size="5.5" text-anchor="middle" fill="#222">PID</text>
<text x="474.50" y="681.50" font-size="5.5" text-anchor="middle" fill="#222">PLK1 PATHWAY</text>
<text x="440.70" y="712.80" font-size="6.2" text-anchor="end" fill="#222">0.35</text>
<text x="440.70" y="736.90" font-size="6.2" text-anchor="end" fill="#222">0.30</text>
<text x="440.70" y="761.00" font-size="6.2" text-anchor="end" fill="#222">0.25</text>
<line x1="460.30" y1="754.20" x2="460.30" y2="759.20" stroke="#4a4a4a" stroke-width="1.0"/>
<line x1="460.30" y1="762.50" x2="460.30" y2="765.40" stroke="#4a4a4a" stroke-width="1.0"/>
<line x1="455.50" y1="754.20" x2="465.10" y2="754.20" stroke="#4a4a4a" stroke-width="1.0"/>
<line x1="455.50" y1="765.40" x2="465.10" y2="765.40" stroke="#4a4a4a" stroke-width="1.0"/>
<rect x="448.90" y="759.20" width="22.80" height="3.30" fill="#88a0cc" stroke="#4a4a4a" stroke-width="1.0"/>
<line x1="448.90" y1="760.80" x2="471.70" y2="760.80" stroke="#4a4a4a" stroke-width="1.3"/>
<path d="M460.30,771.10 L461.80,773.00 L460.30,774.90 L458.80,773.00 Z" fill="#333"/>
<circle cx="458.13" cy="754.20" r="0.9" fill="#555" opacity="0.55"/>
<circle cx="461.92" cy="765.40" r="0.9" fill="#555" opacity="0.55"/>
<circle cx="459.47" cy="759.20" r="0.9" fill="#555" opacity="0.55"/>
<circle cx="459.66" cy="762.50" r="0.9" fill="#555" opacity="0.55"/>
<circle cx="461.87" cy="760.80" r="0.9" fill="#555" opacity="0.55"/>
<circle cx="458.72" cy="761.34" r="0.9" fill="#555" opacity="0.55"/>
<circle cx="462.35" cy="761.51" r="0.9" fill="#555" opacity="0.55"/>
<circle cx="460.26" cy="762.36" r="0.9" fill="#555" opacity="0.55"/>
<circle cx="458.16" cy="759.85" r="0.9" fill="#555" opacity="0.55"/>
<line x1="488.40" y1="725.00" x2="488.40" y2="737.40" stroke="#4a4a4a" stroke-width="1.0"/>
<line x1="488.40" y1="749.70" x2="488.40" y2="761.80" stroke="#4a4a4a" stroke-width="1.0"/>
<line x1="483.60" y1="725.00" x2="493.20" y2="725.00" stroke="#4a4a4a" stroke-width="1.0"/>
<line x1="483.60" y1="761.80" x2="493.20" y2="761.80" stroke="#4a4a4a" stroke-width="1.0"/>
<rect x="477.00" y="737.40" width="22.80" height="12.30" fill="#e2a98a" stroke="#4a4a4a" stroke-width="1.0"/>
<line x1="477.00" y1="745.40" x2="499.80" y2="745.40" stroke="#4a4a4a" stroke-width="1.3"/>
<path d="M488.40,703.00 L489.90,704.90 L488.40,706.80 L486.90,704.90 Z" fill="#333"/>
<path d="M488.40,714.20 L489.90,716.10 L488.40,718.00 L486.90,716.10 Z" fill="#333"/>
<circle cx="486.97" cy="725.00" r="0.9" fill="#555" opacity="0.55"/>
<circle cx="487.86" cy="761.80" r="0.9" fill="#555" opacity="0.55"/>
<circle cx="490.11" cy="737.40" r="0.9" fill="#555" opacity="0.55"/>
<circle cx="486.56" cy="749.70" r="0.9" fill="#555" opacity="0.55"/>
<circle cx="486.84" cy="745.40" r="0.9" fill="#555" opacity="0.55"/>
<circle cx="486.04" cy="738.79" r="0.9" fill="#555" opacity="0.55"/>
<circle cx="487.10" cy="739.01" r="0.9" fill="#555" opacity="0.55"/>
<circle cx="486.37" cy="744.75" r="0.9" fill="#555" opacity="0.55"/>
<circle cx="490.82" cy="739.59" r="0.9" fill="#555" opacity="0.55"/>
<circle cx="487.47" cy="739.03" r="0.9" fill="#555" opacity="0.55"/>
<circle cx="490.85" cy="743.11" r="0.9" fill="#555" opacity="0.55"/>
<circle cx="486.55" cy="742.54" r="0.9" fill="#555" opacity="0.55"/>
<rect x="446.30" y="688.50" width="56.40" height="87.90" fill="none" stroke="#333" stroke-width="0.9"/>
<path d="M460.30,699.90 L460.30,698.30 L488.40,698.30 L488.40,699.90" fill="none" stroke="#333" stroke-width="0.7"/>
<text x="474.35" y="696.10" font-size="6.5" text-anchor="middle" fill="#222">***</text>
<text x="559.50" y="675.80" font-size="5.5" text-anchor="middle" fill="#222">REACTOME</text>
<text x="559.50" y="681.50" font-size="5.5" text-anchor="middle" fill="#222">MITOTIC PROMETAPHASE</text>
<text x="525.70" y="699.60" font-size="6.2" text-anchor="end" fill="#222">0.34</text>
<text x="525.70" y="714.40" font-size="6.2" text-anchor="end" fill="#222">0.32</text>
<text x="525.70" y="729.30" font-size="6.2" text-anchor="end" fill="#222">0.30</text>
<text x="525.70" y="744.20" font-size="6.2" text-anchor="end" fill="#222">0.28</text>
<text x="525.70" y="758.90" font-size="6.2" text-anchor="end" fill="#222">0.26</text>
<text x="525.70" y="773.80" font-size="6.2" text-anchor="end" fill="#222">0.24</text>
<line x1="545.30" y1="743.50" x2="545.30" y2="748.20" stroke="#4a4a4a" stroke-width="1.0"/>
<line x1="545.30" y1="752.70" x2="545.30" y2="753.80" stroke="#4a4a4a" stroke-width="1.0"/>
<line x1="540.50" y1="743.50" x2="550.10" y2="743.50" stroke="#4a4a4a" stroke-width="1.0"/>
<line x1="540.50" y1="753.80" x2="550.10" y2="753.80" stroke="#4a4a4a" stroke-width="1.0"/>
<rect x="533.90" y="748.20" width="22.80" height="4.50" fill="#88a0cc" stroke="#4a4a4a" stroke-width="1.0"/>
<line x1="533.90" y1="749.40" x2="556.70" y2="749.40" stroke="#4a4a4a" stroke-width="1.3"/>
<path d="M545.30,771.10 L546.80,773.00 L545.30,774.90 L543.80,773.00 Z" fill="#333"/>
<circle cx="545.35" cy="743.50" r="0.9" fill="#555" opacity="0.55"/>
<circle cx="544.52" cy="753.80" r="0.9" fill="#555" opacity="0.55"/>
<circle cx="544.88" cy="748.20" r="0.9" fill="#555" opacity="0.55"/>
<circle cx="547.67" cy="752.70" r="0.9" fill="#555" opacity="0.55"/>
<circle cx="543.32" cy="749.40" r="0.9" fill="#555" opacity="0.55"/>
<circle cx="545.02" cy="750.67" r="0.9" fill="#555" opacity="0.55"/>
<circle cx="543.92" cy="749.76" r="0.9" fill="#555" opacity="0.55"/>
<circle cx="544.55" cy="752.00" r="0.9" fill="#555" opacity="0.55"/>
<circle cx="547.79" cy="749.50" r="0.9" fill="#555" opacity="0.55"/>
<line x1="573.40" y1="711.00" x2="573.40" y2="731.10" stroke="#4a4a4a" stroke-width="1.0"/>
<line x1="573.40" y1="745.40" x2="573.40" y2="748.40" stroke="#4a4a4a" stroke-width="1.0"/>
<line x1="568.60" y1="711.00" x2="578.20" y2="711.00" stroke="#4a4a4a" stroke-width="1.0"/>
<line x1="568.60" y1="748.40" x2="578.20" y2="748.40" stroke="#4a4a4a" stroke-width="1.0"/>
<rect x="562.00" y="731.10" width="22.80" height="14.30" fill="#e2a98a" stroke="#4a4a4a" stroke-width="1.0"/>
<line x1="562.00" y1="737.40" x2="584.80" y2="737.40" stroke="#4a4a4a" stroke-width="1.3"/>
<path d="M573.40,703.00 L574.90,704.90 L573.40,706.80 L571.90,704.90 Z" fill="#333"/>
<circle cx="574.11" cy="711.00" r="0.9" fill="#555" opacity="0.55"/>
<circle cx="575.84" cy="748.40" r="0.9" fill="#555" opacity="0.55"/>
<circle cx="573.21" cy="731.10" r="0.9" fill="#555" opacity="0.55"/>
<circle cx="575.87" cy="745.40" r="0.9" fill="#555" opacity="0.55"/>
<circle cx="575.86" cy="737.40" r="0.9" fill="#555" opacity="0.55"/>
<circle cx="572.11" cy="738.81" r="0.9" fill="#555" opacity="0.55"/>
<circle cx="571.26" cy="735.24" r="0.9" fill="#555" opacity="0.55"/>
<circle cx="571.70" cy="731.53" r="0.9" fill="#555" opacity="0.55"/>
<circle cx="575.11" cy="740.45" r="0.9" fill="#555" opacity="0.55"/>
<circle cx="573.90" cy="734.10" r="0.9" fill="#555" opacity="0.55"/>
<circle cx="575.49" cy="734.78" r="0.9" fill="#555" opacity="0.55"/>
<circle cx="575.76" cy="736.78" r="0.9" fill="#555" opacity="0.55"/>
<rect x="531.30" y="688.50" width="56.40" height="87.90" fill="none" stroke="#333" stroke-width="0.9"/>
<path d="M545.30,699.90 L545.30,698.30 L573.40,698.30 L573.40,699.90" fill="none" stroke="#333" stroke-width="0.7"/>
<text x="559.35" y="696.10" font-size="6.5" text-anchor="middle" fill="#222">***</text>
<text x="643.60" y="664.40" font-size="5.5" text-anchor="middle" fill="#222">REACTOME</text>
<text x="643.60" y="670.10" font-size="5.5" text-anchor="middle" fill="#222">RECRUITMENT OF MITOTIC</text>
<text x="643.60" y="675.80" font-size="5.5" text-anchor="middle" fill="#222">CENTROSOME PROTEINS AND</text>
<text x="643.60" y="681.50" font-size="5.5" text-anchor="middle" fill="#222">COMPLEXES</text>
<text x="609.80" y="714.20" font-size="6.2" text-anchor="end" fill="#222">0.34</text>
<text x="609.80" y="738.50" font-size="6.2" text-anchor="end" fill="#222">0.32</text>
<text x="609.80" y="763.20" font-size="6.2" text-anchor="end" fill="#222">0.30</text>
<line x1="629.40" y1="727.00" x2="629.40" y2="729.40" stroke="#4a4a4a" stroke-width="1.0"/>
<line x1="629.40" y1="737.40" x2="629.40" y2="738.40" stroke="#4a4a4a" stroke-width="1.0"/>
<line x1="624.60" y1="727.00" x2="634.20" y2="727.00" stroke="#4a4a4a" stroke-width="1.0"/>
<line x1="624.60" y1="738.40" x2="634.20" y2="738.40" stroke="#4a4a4a" stroke-width="1.0"/>
<rect x="618.00" y="729.40" width="22.80" height="8.00" fill="#88a0cc" stroke="#4a4a4a" stroke-width="1.0"/>
<line x1="618.00" y1="730.00" x2="640.80" y2="730.00" stroke="#4a4a4a" stroke-width="1.3"/>
<path d="M629.40,771.10 L630.90,773.00 L629.40,774.90 L627.90,773.00 Z" fill="#333"/>
<circle cx="627.59" cy="727.00" r="0.9" fill="#555" opacity="0.55"/>
<circle cx="627.46" cy="738.40" r="0.9" fill="#555" opacity="0.55"/>
<circle cx="628.06" cy="729.40" r="0.9" fill="#555" opacity="0.55"/>
<circle cx="630.69" cy="737.40" r="0.9" fill="#555" opacity="0.55"/>
<circle cx="627.64" cy="730.00" r="0.9" fill="#555" opacity="0.55"/>
<circle cx="630.60" cy="729.50" r="0.9" fill="#555" opacity="0.55"/>
<circle cx="630.21" cy="730.30" r="0.9" fill="#555" opacity="0.55"/>
<circle cx="627.58" cy="732.54" r="0.9" fill="#555" opacity="0.55"/>
<circle cx="629.58" cy="734.87" r="0.9" fill="#555" opacity="0.55"/>
<line x1="657.50" y1="704.10" x2="657.50" y2="713.30" stroke="#4a4a4a" stroke-width="1.0"/>
<line x1="657.50" y1="731.40" x2="657.50" y2="749.40" stroke="#4a4a4a" stroke-width="1.0"/>
<line x1="652.70" y1="704.10" x2="662.30" y2="704.10" stroke="#4a4a4a" stroke-width="1.0"/>
<line x1="652.70" y1="749.40" x2="662.30" y2="749.40" stroke="#4a4a4a" stroke-width="1.0"/>
<rect x="646.10" y="713.30" width="22.80" height="18.10" fill="#e2a98a" stroke="#4a4a4a" stroke-width="1.0"/>
<line x1="646.10" y1="722.40" x2="668.90" y2="722.40" stroke="#4a4a4a" stroke-width="1.3"/>
<circle cx="657.54" cy="704.10" r="0.9" fill="#555" opacity="0.55"/>
<circle cx="659.22" cy="749.40" r="0.9" fill="#555" opacity="0.55"/>
<circle cx="657.61" cy="713.30" r="0.9" fill="#555" opacity="0.55"/>
<circle cx="659.72" cy="731.40" r="0.9" fill="#555" opacity="0.55"/>
<circle cx="659.41" cy="722.40" r="0.9" fill="#555" opacity="0.55"/>
<circle cx="656.85" cy="714.70" r="0.9" fill="#555" opacity="0.55"/>
<circle cx="655.00" cy="717.17" r="0.9" fill="#555" opacity="0.55"/>
<circle cx="658.78" cy="718.79" r="0.9" fill="#555" opacity="0.55"/>
<circle cx="655.63" cy="729.59" r="0.9" fill="#555" opacity="0.55"/>
<circle cx="655.05" cy="722.28" r="0.9" fill="#555" opacity="0.55"/>
<circle cx="658.65" cy="726.34" r="0.9" fill="#555" opacity="0.55"/>
<circle cx="659.21" cy="715.11" r="0.9" fill="#555" opacity="0.55"/>
<rect x="615.40" y="688.50" width="56.40" height="87.90" fill="none" stroke="#333" stroke-width="0.9"/>
<path d="M629.40,699.90 L629.40,698.30 L657.50,698.30 L657.50,699.90" fill="none" stroke="#333" stroke-width="0.7"/>
<text x="643.45" y="696.10" font-size="6.5" text-anchor="middle" fill="#222">*</text>
<text x="341.50" y="732.45" font-size="6.6" text-anchor="middle" fill="#222" transform="rotate(-90 341.50 732.45)">Signature Score</text>
<path d="M340.2,661.4 L511.2,661.4 L511.2,527.2 L685,527.2" fill="none" stroke="#111" stroke-width="1.7" stroke-dasharray="1.5 1.3"/>
<text x="16.80" y="837.50" font-size="19.5" font-weight="bold" stroke="#000" stroke-width="0.15">D</text>
<text x="139.00" y="843.90" font-size="10.2" text-anchor="middle" fill="#111" stroke="#111" stroke-width="0.15">ILC subtype</text>
<circle cx="59.50" cy="853.20" r="4.1" fill="#88a0cc" stroke="#333" stroke-width="0.8"/>
<text x="68.50" y="856.50" font-size="10.2" fill="#111" stroke="#111" stroke-width="0.15">Non-proliferative</text>
<circle cx="151.80" cy="853.20" r="4.1" fill="#e2a98a" stroke="#333" stroke-width="0.8"/>
<text x="160.50" y="856.50" font-size="10.2" fill="#111" stroke="#111" stroke-width="0.15">Proliferative</text>
<text x="62.85" y="871.70" font-size="8.5" text-anchor="middle" fill="#2a2a2a" stroke="none">Purity</text>
<text x="31.90" y="892.10" font-size="8.3" text-anchor="end" fill="#2a2a2a" stroke="none">0.9</text>
<text x="31.90" y="916.40" font-size="8.3" text-anchor="end" fill="#2a2a2a" stroke="none">0.8</text>
<text x="31.90" y="940.90" font-size="8.3" text-anchor="end" fill="#2a2a2a" stroke="none">0.7</text>
<text x="31.90" y="965.70" font-size="8.3" text-anchor="end" fill="#2a2a2a" stroke="none">0.6</text>
<text x="31.90" y="990.00" font-size="8.3" text-anchor="end" fill="#2a2a2a" stroke="none">0.5</text>
<line x1="51.10" y1="959.90" x2="51.10" y2="963.20" stroke="#4a4a4a" stroke-width="1.2"/>
<line x1="51.10" y1="975.40" x2="51.10" y2="985.40" stroke="#4a4a4a" stroke-width="1.2"/>
<line x1="45.90" y1="959.90" x2="56.30" y2="959.90" stroke="#4a4a4a" stroke-width="1.2"/>
<line x1="45.90" y1="985.40" x2="56.30" y2="985.40" stroke="#4a4a4a" stroke-width="1.2"/>
<rect x="41.40" y="963.20" width="19.40" height="12.20" fill="#88a0cc" stroke="#4a4a4a" stroke-width="1.2"/>
<line x1="41.40" y1="966.50" x2="60.80" y2="966.50" stroke="#4a4a4a" stroke-width="1.56"/>
<circle cx="50.77" cy="959.90" r="1.5" fill="#666" opacity="0.5"/>
<circle cx="52.60" cy="985.40" r="1.5" fill="#666" opacity="0.5"/>
<circle cx="51.26" cy="963.20" r="1.5" fill="#666" opacity="0.5"/>
<circle cx="49.00" cy="975.40" r="1.5" fill="#666" opacity="0.5"/>
<circle cx="50.88" cy="966.50" r="1.5" fill="#666" opacity="0.5"/>
<circle cx="48.84" cy="964.98" r="1.5" fill="#666" opacity="0.5"/>
<circle cx="53.26" cy="968.75" r="1.5" fill="#666" opacity="0.5"/>
<circle cx="53.34" cy="972.60" r="1.5" fill="#666" opacity="0.5"/>
<circle cx="50.28" cy="971.81" r="1.5" fill="#666" opacity="0.5"/>
<circle cx="50.15" cy="972.13" r="1.5" fill="#666" opacity="0.5"/>
<line x1="74.60" y1="896.00" x2="74.60" y2="917.20" stroke="#4a4a4a" stroke-width="1.2"/>
<line x1="74.60" y1="960.60" x2="74.60" y2="988.70" stroke="#4a4a4a" stroke-width="1.2"/>
<line x1="69.40" y1="896.00" x2="79.80" y2="896.00" stroke="#4a4a4a" stroke-width="1.2"/>
<line x1="69.40" y1="988.70" x2="79.80" y2="988.70" stroke="#4a4a4a" stroke-width="1.2"/>
<rect x="64.90" y="917.20" width="19.40" height="43.40" fill="#e2a98a" stroke="#4a4a4a" stroke-width="1.2"/>
<line x1="64.90" y1="951.20" x2="84.30" y2="951.20" stroke="#4a4a4a" stroke-width="1.56"/>
<circle cx="73.54" cy="896.00" r="1.5" fill="#666" opacity="0.5"/>
<circle cx="75.56" cy="988.70" r="1.5" fill="#666" opacity="0.5"/>
<circle cx="73.16" cy="917.20" r="1.5" fill="#666" opacity="0.5"/>
<circle cx="76.96" cy="960.60" r="1.5" fill="#666" opacity="0.5"/>
<circle cx="72.45" cy="951.20" r="1.5" fill="#666" opacity="0.5"/>
<circle cx="73.07" cy="942.42" r="1.5" fill="#666" opacity="0.5"/>
<circle cx="72.54" cy="925.65" r="1.5" fill="#666" opacity="0.5"/>
<circle cx="75.95" cy="959.09" r="1.5" fill="#666" opacity="0.5"/>
<circle cx="73.93" cy="957.30" r="1.5" fill="#666" opacity="0.5"/>
<circle cx="74.46" cy="937.47" r="1.5" fill="#666" opacity="0.5"/>
<circle cx="73.73" cy="945.99" r="1.5" fill="#666" opacity="0.5"/>
<circle cx="75.29" cy="926.51" r="1.5" fill="#666" opacity="0.5"/>
<circle cx="74.12" cy="926.82" r="1.5" fill="#666" opacity="0.5"/>
<rect x="38.80" y="875.60" width="48.10" height="117.50" fill="none" stroke="#333" stroke-width="0.9"/>
<path d="M51.10,890.10 L51.10,888.30 L74.60,888.30 L74.60,890.10" fill="none" stroke="#333" stroke-width="0.8"/>
<text x="62.85" y="885.60" font-size="7.5" text-anchor="middle" fill="#222">**</text>
<text x="138.95" y="871.70" font-size="8.5" text-anchor="middle" fill="#2a2a2a" stroke="none">Stromal Score</text>
<text x="108.10" y="885.00" font-size="8.3" text-anchor="end" fill="#2a2a2a" stroke="none">2000</text>
<text x="108.10" y="905.60" font-size="8.3" text-anchor="end" fill="#2a2a2a" stroke="none">1500</text>
<text x="108.10" y="926.00" font-size="8.3" text-anchor="end" fill="#2a2a2a" stroke="none">1000</text>
<text x="108.10" y="947.00" font-size="8.3" text-anchor="end" fill="#2a2a2a" stroke="none">500</text>
<text x="108.10" y="968.00" font-size="8.3" text-anchor="end" fill="#2a2a2a" stroke="none">0</text>
<text x="108.10" y="988.70" font-size="8.3" text-anchor="end" fill="#2a2a2a" stroke="none">−500</text>
<line x1="127.30" y1="896.00" x2="127.30" y2="911.60" stroke="#4a4a4a" stroke-width="1.2"/>
<line x1="127.30" y1="928.20" x2="127.30" y2="950.90" stroke="#4a4a4a" stroke-width="1.2"/>
<line x1="122.10" y1="896.00" x2="132.50" y2="896.00" stroke="#4a4a4a" stroke-width="1.2"/>
<line x1="122.10" y1="950.90" x2="132.50" y2="950.90" stroke="#4a4a4a" stroke-width="1.2"/>
<rect x="117.60" y="911.60" width="19.40" height="16.60" fill="#88a0cc" stroke="#4a4a4a" stroke-width="1.2"/>
<line x1="117.60" y1="912.00" x2="137.00" y2="912.00" stroke="#4a4a4a" stroke-width="1.56"/>
<circle cx="126.72" cy="896.00" r="1.5" fill="#666" opacity="0.5"/>
<circle cx="127.89" cy="950.90" r="1.5" fill="#666" opacity="0.5"/>
<circle cx="127.63" cy="911.60" r="1.5" fill="#666" opacity="0.5"/>
<circle cx="125.02" cy="928.20" r="1.5" fill="#666" opacity="0.5"/>
<circle cx="127.45" cy="912.00" r="1.5" fill="#666" opacity="0.5"/>
<circle cx="127.90" cy="914.06" r="1.5" fill="#666" opacity="0.5"/>
<circle cx="127.40" cy="921.83" r="1.5" fill="#666" opacity="0.5"/>
<circle cx="129.20" cy="914.42" r="1.5" fill="#666" opacity="0.5"/>
<circle cx="128.48" cy="923.43" r="1.5" fill="#666" opacity="0.5"/>
<circle cx="126.69" cy="921.69" r="1.5" fill="#666" opacity="0.5"/>
<line x1="150.80" y1="913.40" x2="150.80" y2="932.50" stroke="#4a4a4a" stroke-width="1.2"/>
<line x1="150.80" y1="965.20" x2="150.80" y2="988.20" stroke="#4a4a4a" stroke-width="1.2"/>
<line x1="145.60" y1="913.40" x2="156.00" y2="913.40" stroke="#4a4a4a" stroke-width="1.2"/>
<line x1="145.60" y1="988.20" x2="156.00" y2="988.20" stroke="#4a4a4a" stroke-width="1.2"/>
<rect x="141.10" y="932.50" width="19.40" height="32.70" fill="#e2a98a" stroke="#4a4a4a" stroke-width="1.2"/>
<line x1="141.10" y1="940.20" x2="160.50" y2="940.20" stroke="#4a4a4a" stroke-width="1.56"/>
<circle cx="150.21" cy="913.40" r="1.5" fill="#666" opacity="0.5"/>
<circle cx="152.75" cy="988.20" r="1.5" fill="#666" opacity="0.5"/>
<circle cx="152.66" cy="932.50" r="1.5" fill="#666" opacity="0.5"/>
<circle cx="148.89" cy="965.20" r="1.5" fill="#666" opacity="0.5"/>
<circle cx="148.71" cy="940.20" r="1.5" fill="#666" opacity="0.5"/>
<circle cx="149.41" cy="964.51" r="1.5" fill="#666" opacity="0.5"/>
<circle cx="152.44" cy="947.42" r="1.5" fill="#666" opacity="0.5"/>
<circle cx="148.42" cy="956.01" r="1.5" fill="#666" opacity="0.5"/>
<circle cx="149.43" cy="956.53" r="1.5" fill="#666" opacity="0.5"/>
<circle cx="148.84" cy="939.53" r="1.5" fill="#666" opacity="0.5"/>
<circle cx="148.94" cy="935.05" r="1.5" fill="#666" opacity="0.5"/>
<circle cx="150.92" cy="952.21" r="1.5" fill="#666" opacity="0.5"/>
<circle cx="149.22" cy="936.49" r="1.5" fill="#666" opacity="0.5"/>
<rect x="115.00" y="875.60" width="47.90" height="117.50" fill="none" stroke="#333" stroke-width="0.9"/>
<path d="M127.30,890.10 L127.30,888.30 L150.80,888.30 L150.80,890.10" fill="none" stroke="#333" stroke-width="0.8"/>
<text x="139.05" y="885.60" font-size="7.5" text-anchor="middle" fill="#222">**</text>
<text x="215.50" y="871.70" font-size="8.5" text-anchor="middle" fill="#2a2a2a" stroke="none">Immune Score</text>
<text x="184.40" y="884.50" font-size="8.3" text-anchor="end" fill="#2a2a2a" stroke="none">2500</text>
<text x="184.40" y="901.50" font-size="8.3" text-anchor="end" fill="#2a2a2a" stroke="none">2000</text>
<text x="184.40" y="918.20" font-size="8.3" text-anchor="end" fill="#2a2a2a" stroke="none">1500</text>
<text x="184.40" y="935.30" font-size="8.3" text-anchor="end" fill="#2a2a2a" stroke="none">1000</text>
<text x="184.40" y="952.40" font-size="8.3" text-anchor="end" fill="#2a2a2a" stroke="none">500</text>
<text x="184.40" y="969.50" font-size="8.3" text-anchor="end" fill="#2a2a2a" stroke="none">0</text>
<text x="184.40" y="986.60" font-size="8.3" text-anchor="end" fill="#2a2a2a" stroke="none">−500</text>
<line x1="203.60" y1="917.10" x2="203.60" y2="922.80" stroke="#4a4a4a" stroke-width="1.2"/>
<line x1="203.60" y1="935.60" x2="203.60" y2="944.10" stroke="#4a4a4a" stroke-width="1.2"/>
<line x1="198.40" y1="917.10" x2="208.80" y2="917.10" stroke="#4a4a4a" stroke-width="1.2"/>
<line x1="198.40" y1="944.10" x2="208.80" y2="944.10" stroke="#4a4a4a" stroke-width="1.2"/>
<rect x="193.90" y="922.80" width="19.40" height="12.80" fill="#88a0cc" stroke="#4a4a4a" stroke-width="1.2"/>
<line x1="193.90" y1="930.40" x2="213.30" y2="930.40" stroke="#4a4a4a" stroke-width="1.56"/>
<path d="M203.60,899.80 L205.60,902.30 L203.60,904.80 L201.60,902.30 Z" fill="#333"/>
<path d="M203.60,972.90 L205.60,975.40 L203.60,977.90 L201.60,975.40 Z" fill="#333"/>
<circle cx="204.67" cy="917.10" r="1.5" fill="#666" opacity="0.5"/>
<circle cx="205.13" cy="944.10" r="1.5" fill="#666" opacity="0.5"/>
<circle cx="201.18" cy="922.80" r="1.5" fill="#666" opacity="0.5"/>
<circle cx="201.93" cy="935.60" r="1.5" fill="#666" opacity="0.5"/>
<circle cx="205.58" cy="930.40" r="1.5" fill="#666" opacity="0.5"/>
<circle cx="201.69" cy="935.09" r="1.5" fill="#666" opacity="0.5"/>
<circle cx="204.38" cy="933.96" r="1.5" fill="#666" opacity="0.5"/>
<circle cx="202.75" cy="932.17" r="1.5" fill="#666" opacity="0.5"/>
<circle cx="204.33" cy="925.71" r="1.5" fill="#666" opacity="0.5"/>
<circle cx="205.41" cy="927.03" r="1.5" fill="#666" opacity="0.5"/>
<line x1="227.10" y1="895.70" x2="227.10" y2="932.70" stroke="#4a4a4a" stroke-width="1.2"/>
<line x1="227.10" y1="969.40" x2="227.10" y2="988.20" stroke="#4a4a4a" stroke-width="1.2"/>
<line x1="221.90" y1="895.70" x2="232.30" y2="895.70" stroke="#4a4a4a" stroke-width="1.2"/>
<line x1="221.90" y1="988.20" x2="232.30" y2="988.20" stroke="#4a4a4a" stroke-width="1.2"/>
<rect x="217.40" y="932.70" width="19.40" height="36.70" fill="#e2a98a" stroke="#4a4a4a" stroke-width="1.2"/>
<line x1="217.40" y1="941.30" x2="236.80" y2="941.30" stroke="#4a4a4a" stroke-width="1.56"/>
<circle cx="226.34" cy="895.70" r="1.5" fill="#666" opacity="0.5"/>
<circle cx="228.36" cy="988.20" r="1.5" fill="#666" opacity="0.5"/>
<circle cx="225.34" cy="932.70" r="1.5" fill="#666" opacity="0.5"/>
<circle cx="227.90" cy="969.40" r="1.5" fill="#666" opacity="0.5"/>
<circle cx="226.36" cy="941.30" r="1.5" fill="#666" opacity="0.5"/>
<circle cx="225.45" cy="964.93" r="1.5" fill="#666" opacity="0.5"/>
<circle cx="226.75" cy="945.51" r="1.5" fill="#666" opacity="0.5"/>
<circle cx="226.53" cy="961.72" r="1.5" fill="#666" opacity="0.5"/>
<circle cx="226.90" cy="967.62" r="1.5" fill="#666" opacity="0.5"/>
<circle cx="229.01" cy="944.16" r="1.5" fill="#666" opacity="0.5"/>
<circle cx="229.20" cy="960.90" r="1.5" fill="#666" opacity="0.5"/>
<circle cx="225.74" cy="944.98" r="1.5" fill="#666" opacity="0.5"/>
<circle cx="229.54" cy="938.71" r="1.5" fill="#666" opacity="0.5"/>
<rect x="191.30" y="875.60" width="48.40" height="117.50" fill="none" stroke="#333" stroke-width="0.9"/>
<path d="M203.60,890.10 L203.60,888.30 L227.10,888.30 L227.10,890.10" fill="none" stroke="#333" stroke-width="0.8"/>
<text x="215.35" y="885.20" font-size="8.5" text-anchor="middle" fill="#222" stroke="#222" stroke-width="0.15">ns</text>
<text x="262.80" y="835.50" font-size="19.5" font-weight="bold" stroke="#000" stroke-width="0.15">E</text>
<text x="361.60" y="848.20" font-size="8.96" text-anchor="middle" fill="#222" stroke="#222" stroke-width="0.15">PAM50 Subtypes</text>
<text x="291.20" y="979.00" font-size="8.3" text-anchor="end" fill="#2a2a2a" stroke="none">0</text>
<text x="291.20" y="959.44" font-size="8.3" text-anchor="end" fill="#2a2a2a" stroke="none">2</text>
<text x="291.20" y="939.88" font-size="8.3" text-anchor="end" fill="#2a2a2a" stroke="none">4</text>
<text x="291.20" y="920.32" font-size="8.3" text-anchor="end" fill="#2a2a2a" stroke="none">6</text>
<text x="291.20" y="900.76" font-size="8.3" text-anchor="end" fill="#2a2a2a" stroke="none">8</text>
<text x="291.20" y="881.20" font-size="8.3" text-anchor="end" fill="#2a2a2a" stroke="none">10</text>
<text x="291.20" y="861.64" font-size="8.3" text-anchor="end" fill="#2a2a2a" stroke="none">12</text>
<text x="276.80" y="915.00" font-size="9.2" text-anchor="middle" fill="#222" stroke="#222" stroke-width="0.15" transform="rotate(-90 276.80 915.00)">Number of Tumors</text>
<rect x="314.70" y="966.22" width="31.10" height="9.78" fill="#4c72b0" stroke="#ffffff" stroke-width="0.9"/>
<rect x="314.70" y="887.98" width="31.10" height="78.24" fill="#8172b3" stroke="#ffffff" stroke-width="0.9"/>
<rect x="377.80" y="946.66" width="31.30" height="29.34" fill="#4c72b0" stroke="#ffffff" stroke-width="0.9"/>
<rect x="377.80" y="897.76" width="31.30" height="48.90" fill="#dd8452" stroke="#ffffff" stroke-width="0.9"/>
<rect x="377.80" y="887.98" width="31.30" height="9.78" fill="#55a868" stroke="#ffffff" stroke-width="0.9"/>
<rect x="377.80" y="868.42" width="31.30" height="19.56" fill="#c44e52" stroke="#ffffff" stroke-width="0.9"/>
<rect x="377.80" y="858.64" width="31.30" height="9.78" fill="#8172b3" stroke="#ffffff" stroke-width="0.9"/>
<path d="M298.4,852.6 L425.9,852.6 L425.9,976.2 L298.4,976.2 Z" fill="none" stroke="#333" stroke-width="1.0"/>
<text x="330.10" y="992.00" font-size="10.9" text-anchor="middle" fill="#222" stroke="#222" stroke-width="0.15">Non-</text>
<text x="330.10" y="1002.90" font-size="10.9" text-anchor="middle" fill="#222" stroke="#222" stroke-width="0.15">proliferative</text>
<text x="392.30" y="992.00" font-size="10.9" text-anchor="middle" fill="#222" stroke="#222" stroke-width="0.15">Proliferative</text>
<rect x="429.6" y="857.2" width="56.7" height="59.9" rx="2" fill="#fff" stroke="#d6d6d6" stroke-width="0.8"/>
<rect x="432.90" y="861.20" width="16.30" height="3.80" fill="#4c72b0"/>
<text x="456.60" y="866.00" font-size="8.0" fill="#2a2a2a" stroke="none">LumA</text>
<rect x="432.90" y="872.85" width="16.30" height="3.80" fill="#dd8452"/>
<text x="456.60" y="877.65" font-size="8.0" fill="#2a2a2a" stroke="none">LumB</text>
<rect x="432.90" y="884.50" width="16.30" height="3.80" fill="#55a868"/>
<text x="456.60" y="889.30" font-size="8.0" fill="#2a2a2a" stroke="none">Her2</text>
<rect x="432.90" y="896.15" width="16.30" height="3.80" fill="#c44e52"/>
<text x="456.60" y="900.95" font-size="8.0" fill="#2a2a2a" stroke="none">Basal</text>
<rect x="432.90" y="907.80" width="16.30" height="3.80" fill="#8172b3"/>
<text x="456.60" y="912.60" font-size="8.0" fill="#2a2a2a" stroke="none">Normal</text>
<text x="513.60" y="835.30" font-size="19.5" font-weight="bold" stroke="#000" stroke-width="0.15">F</text>
<text x="533.30" y="849.00" font-size="8.3" text-anchor="end" fill="#2a2a2a" stroke="none">1.0</text>
<text x="533.30" y="870.70" font-size="8.3" text-anchor="end" fill="#2a2a2a" stroke="none">0.9</text>
<text x="533.30" y="892.30" font-size="8.3" text-anchor="end" fill="#2a2a2a" stroke="none">0.8</text>
<text x="533.30" y="913.90" font-size="8.3" text-anchor="end" fill="#2a2a2a" stroke="none">0.7</text>
<text x="533.30" y="936.30" font-size="8.3" text-anchor="end" fill="#2a2a2a" stroke="none">0.6</text>
<text x="533.30" y="958.40" font-size="8.3" text-anchor="end" fill="#2a2a2a" stroke="none">0.5</text>
<text x="533.30" y="980.60" font-size="8.3" text-anchor="end" fill="#2a2a2a" stroke="none">0.4</text>
<text x="515.20" y="912.20" font-size="9.0" text-anchor="middle" fill="#222" stroke="#222" stroke-width="0.15" transform="rotate(-90 515.20 912.20)">Purity</text>
<text x="554.00" y="991.10" font-size="8.3" text-anchor="middle" fill="#2a2a2a" stroke="none">LumA</text>
<text x="581.00" y="991.10" font-size="8.3" text-anchor="middle" fill="#2a2a2a" stroke="none">LumB</text>
<text x="608.00" y="991.10" font-size="8.3" text-anchor="middle" fill="#2a2a2a" stroke="none">Her2</text>
<text x="635.00" y="991.10" font-size="8.3" text-anchor="middle" fill="#2a2a2a" stroke="none">Basal</text>
<text x="662.00" y="991.10" font-size="8.3" text-anchor="middle" fill="#2a2a2a" stroke="none">Normal</text>
<text x="608.00" y="1002.70" font-size="9.5" text-anchor="middle" fill="#222" stroke="#222" stroke-width="0.15">PAM50</text>
<line x1="553.70" y1="894.50" x2="553.70" y2="917.60" stroke="#444" stroke-width="1.1"/>
<line x1="553.70" y1="935.00" x2="553.70" y2="946.00" stroke="#444" stroke-width="1.1"/>
<line x1="548.10" y1="894.50" x2="559.30" y2="894.50" stroke="#444" stroke-width="1.1"/>
<line x1="548.10" y1="946.00" x2="559.30" y2="946.00" stroke="#444" stroke-width="1.1"/>
<rect x="542.60" y="917.60" width="22.30" height="17.40" fill="#5572b0" stroke="#444" stroke-width="1.1"/>
<line x1="542.60" y1="928.20" x2="564.90" y2="928.20" stroke="#444" stroke-width="1.3"/>
<line x1="580.90" y1="873.70" x2="580.90" y2="875.10" stroke="#444" stroke-width="1.1"/>
<line x1="580.90" y1="910.90" x2="580.90" y2="928.70" stroke="#444" stroke-width="1.1"/>
<line x1="575.20" y1="873.70" x2="586.60" y2="873.70" stroke="#444" stroke-width="1.1"/>
<line x1="575.20" y1="928.70" x2="586.60" y2="928.70" stroke="#444" stroke-width="1.1"/>
<rect x="570.20" y="875.10" width="21.50" height="35.80" fill="#d68a5c" stroke="#444" stroke-width="1.1"/>
<line x1="570.20" y1="886.80" x2="591.70" y2="886.80" stroke="#444" stroke-width="1.3"/>
<line x1="596.80" y1="922.10" x2="618.70" y2="922.10" stroke="#444" stroke-width="1.0"/>
<line x1="635.60" y1="935.80" x2="635.60" y2="940.90" stroke="#444" stroke-width="1.1"/>
<line x1="635.60" y1="951.30" x2="635.60" y2="956.20" stroke="#444" stroke-width="1.1"/>
<line x1="630.00" y1="935.80" x2="641.20" y2="935.80" stroke="#444" stroke-width="1.1"/>
<line x1="630.00" y1="956.20" x2="641.20" y2="956.20" stroke="#444" stroke-width="1.1"/>
<rect x="624.40" y="940.90" width="22.30" height="10.40" fill="#c2565a" stroke="#444" stroke-width="1.1"/>
<line x1="624.40" y1="946.00" x2="646.70" y2="946.00" stroke="#444" stroke-width="1.3"/>
<line x1="662.40" y1="930.90" x2="662.40" y2="934.00" stroke="#444" stroke-width="1.1"/>
<line x1="662.40" y1="941.50" x2="662.40" y2="945.20" stroke="#444" stroke-width="1.1"/>
<line x1="656.80" y1="930.90" x2="668.00" y2="930.90" stroke="#444" stroke-width="1.1"/>
<line x1="656.80" y1="945.20" x2="668.00" y2="945.20" stroke="#444" stroke-width="1.1"/>
<rect x="651.40" y="934.00" width="22.10" height="7.50" fill="#8a80c0" stroke="#444" stroke-width="1.1"/>
<line x1="651.40" y1="936.40" x2="673.50" y2="936.40" stroke="#444" stroke-width="1.3"/>
<circle cx="553.70" cy="894.50" r="1.85" fill="#111"/>
<circle cx="554.00" cy="925.60" r="1.85" fill="#111"/>
<circle cx="552.30" cy="930.90" r="1.85" fill="#111"/>
<circle cx="553.70" cy="946.00" r="1.85" fill="#111"/>
<circle cx="579.40" cy="873.70" r="1.85" fill="#111"/>
<circle cx="583.30" cy="875.50" r="1.85" fill="#111"/>
<circle cx="579.90" cy="886.80" r="1.85" fill="#111"/>
<circle cx="580.90" cy="910.90" r="1.85" fill="#111"/>
<circle cx="578.80" cy="928.70" r="1.85" fill="#111"/>
<circle cx="606.80" cy="922.10" r="1.85" fill="#111"/>
<circle cx="637.10" cy="935.80" r="1.85" fill="#111"/>
<circle cx="633.00" cy="956.20" r="1.85" fill="#111"/>
<circle cx="661.00" cy="931.50" r="1.85" fill="#111"/>
<circle cx="663.50" cy="933.00" r="1.85" fill="#111"/>
<circle cx="662.00" cy="934.50" r="1.85" fill="#111"/>
<circle cx="664.00" cy="935.50" r="1.85" fill="#111"/>
<circle cx="662.50" cy="936.80" r="1.85" fill="#111"/>
<circle cx="661.50" cy="933.80" r="1.85" fill="#111"/>
<circle cx="664.70" cy="941.10" r="1.85" fill="#111"/>
<circle cx="661.00" cy="945.20" r="1.85" fill="#111"/>
<path d="M663.2,952 L664.8,953.8 L663.2,955.6 L661.6,953.8 Z" fill="#111"/>
<circle cx="661.50" cy="953.80" r="1.3" fill="#111"/>
<rect x="540.50" y="844.70" width="136.10" height="132.90" fill="none" stroke="#333" stroke-width="1.0"/>
</svg>
</body></html>
